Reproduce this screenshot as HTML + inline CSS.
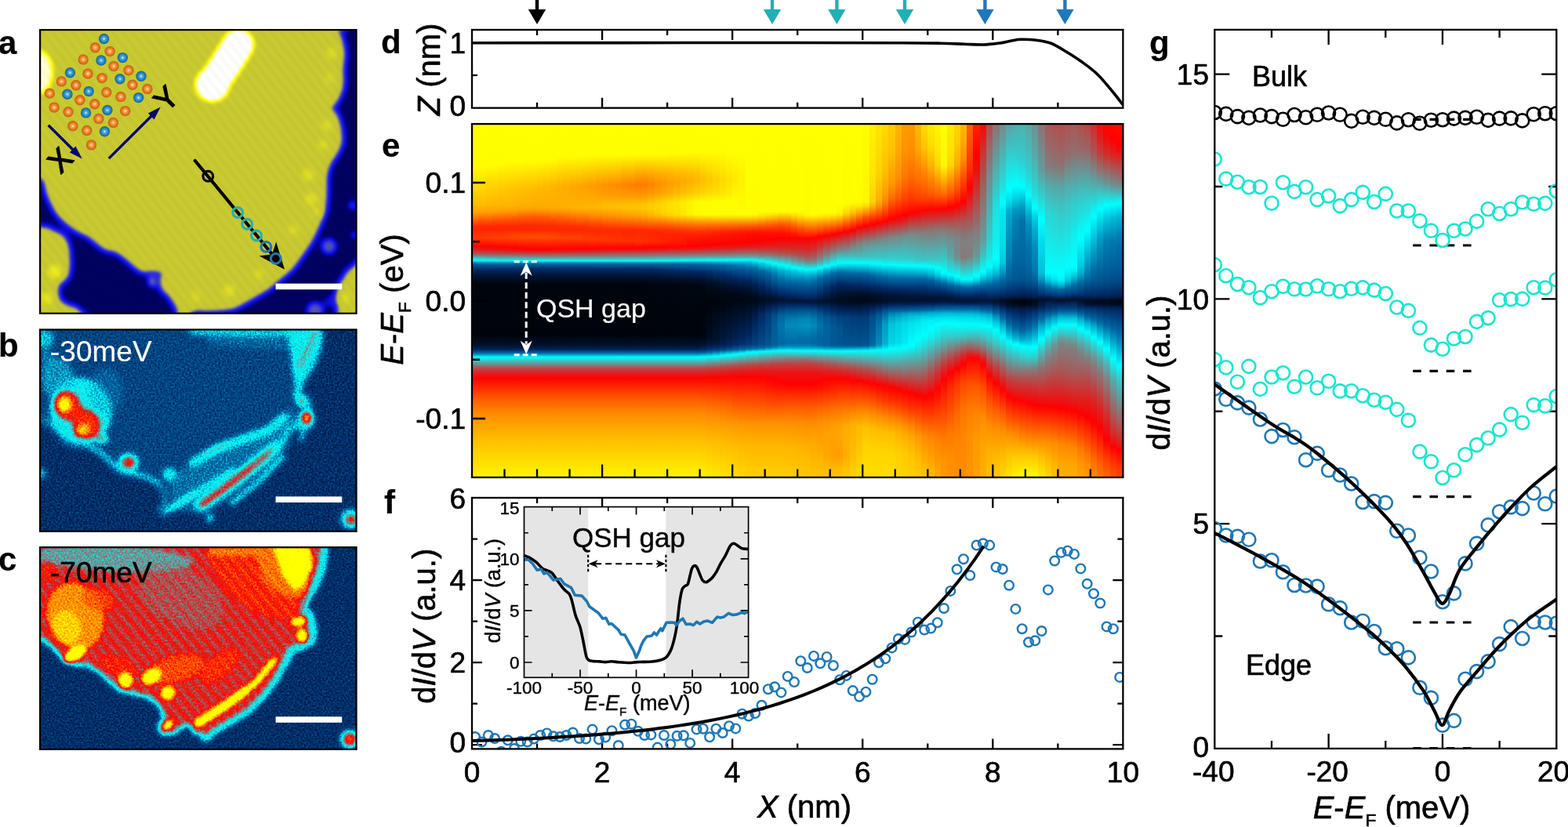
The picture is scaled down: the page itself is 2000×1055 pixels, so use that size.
<!DOCTYPE html>
<html lang="en"><head><meta charset="utf-8"><title>Figure</title>
<style>html,body{margin:0;padding:0;background:#fff;overflow:hidden}svg{display:block}text{font-family:'Liberation Sans', sans-serif}</style></head><body>
<svg width="2000" height="1055" viewBox="0 0 2000 1055" font-family="'Liberation Sans', sans-serif">
<style>text{stroke:currentColor;stroke-width:0.65px;stroke-linejoin:round}.ins text{stroke-width:0.4px}</style>
<rect width="2000" height="1055" fill="#fff"/>
<defs>
<linearGradient id="e0" gradientUnits="userSpaceOnUse" x1="0" y1="158.1" x2="0" y2="609.0"><stop offset="0" stop-color="#ff0"/><stop offset="0.12" stop-color="#fffe00"/><stop offset="0.229" stop-color="#ffbc00"/><stop offset="0.251" stop-color="#ffa100"/><stop offset="0.291" stop-color="#ff2600"/><stop offset="0.298" stop-color="#ff2400"/><stop offset="0.322" stop-color="#ff3800"/><stop offset="0.331" stop-color="#ff2a00"/><stop offset="0.344" stop-color="#ff0400"/><stop offset="0.347" stop-color="#fc0303"/><stop offset="0.356" stop-color="#e11f1f"/><stop offset="0.367" stop-color="#ae5252"/><stop offset="0.373" stop-color="#7a8686"/><stop offset="0.384" stop-color="#0ff0f0"/><stop offset="0.387" stop-color="#00f2f7"/><stop offset="0.393" stop-color="#0087b7"/><stop offset="0.396" stop-color="#0069a5"/><stop offset="0.398" stop-color="#005c98"/><stop offset="0.411" stop-color="#002a66"/><stop offset="0.431" stop-color="#001330"/><stop offset="0.453" stop-color="#00050d"/><stop offset="0.596" stop-color="#00040a"/><stop offset="0.624" stop-color="#00112a"/><stop offset="0.631" stop-color="#00193f"/><stop offset="0.638" stop-color="#002660"/><stop offset="0.642" stop-color="#003d79"/><stop offset="0.649" stop-color="#006ea8"/><stop offset="0.656" stop-color="#00cbe0"/><stop offset="0.66" stop-color="#00fefe"/><stop offset="0.691" stop-color="#b44c4c"/><stop offset="0.704" stop-color="#df2020"/><stop offset="0.72" stop-color="#ff0200"/><stop offset="0.78" stop-color="#ff5d00"/><stop offset="0.822" stop-color="#ff8d00"/><stop offset="0.889" stop-color="#ffbc00"/><stop offset="1" stop-color="#fff300"/></linearGradient>
<linearGradient id="e1" gradientUnits="userSpaceOnUse" x1="0" y1="158.1" x2="0" y2="609.0"><stop offset="0" stop-color="#ff0"/><stop offset="0.12" stop-color="#fffd00"/><stop offset="0.231" stop-color="#ffb900"/><stop offset="0.251" stop-color="#ff9e00"/><stop offset="0.273" stop-color="#ff5400"/><stop offset="0.291" stop-color="#ff2600"/><stop offset="0.298" stop-color="#ff2400"/><stop offset="0.322" stop-color="#ff3a00"/><stop offset="0.347" stop-color="#fe0101"/><stop offset="0.358" stop-color="#dc2424"/><stop offset="0.367" stop-color="#b05050"/><stop offset="0.373" stop-color="#7d8383"/><stop offset="0.384" stop-color="#1ee"/><stop offset="0.387" stop-color="#00f4f8"/><stop offset="0.393" stop-color="#0087b7"/><stop offset="0.396" stop-color="#0069a5"/><stop offset="0.398" stop-color="#005c98"/><stop offset="0.411" stop-color="#002a66"/><stop offset="0.431" stop-color="#001330"/><stop offset="0.453" stop-color="#00050d"/><stop offset="0.596" stop-color="#00040a"/><stop offset="0.624" stop-color="#00112a"/><stop offset="0.631" stop-color="#00193f"/><stop offset="0.638" stop-color="#002660"/><stop offset="0.642" stop-color="#003d79"/><stop offset="0.649" stop-color="#006ea8"/><stop offset="0.656" stop-color="#00cbe0"/><stop offset="0.66" stop-color="#00fefe"/><stop offset="0.691" stop-color="#b44c4c"/><stop offset="0.704" stop-color="#df2020"/><stop offset="0.72" stop-color="#ff0200"/><stop offset="0.78" stop-color="#ff5d00"/><stop offset="0.822" stop-color="#ff8d00"/><stop offset="0.889" stop-color="#ffbc00"/><stop offset="1" stop-color="#fff400"/></linearGradient>
<linearGradient id="e2" gradientUnits="userSpaceOnUse" x1="0" y1="158.1" x2="0" y2="609.0"><stop offset="0" stop-color="#ff0"/><stop offset="0.12" stop-color="#fffc00"/><stop offset="0.162" stop-color="#ffdb00"/><stop offset="0.231" stop-color="#ffb700"/><stop offset="0.251" stop-color="#ff9a00"/><stop offset="0.289" stop-color="#ff2900"/><stop offset="0.298" stop-color="#ff2400"/><stop offset="0.322" stop-color="#ff3d00"/><stop offset="0.347" stop-color="#ff0100"/><stop offset="0.358" stop-color="#df2020"/><stop offset="0.367" stop-color="#b24e4e"/><stop offset="0.376" stop-color="#6b9595"/><stop offset="0.384" stop-color="#13ecec"/><stop offset="0.387" stop-color="#00f5f9"/><stop offset="0.393" stop-color="#0087b7"/><stop offset="0.396" stop-color="#0069a5"/><stop offset="0.398" stop-color="#005c98"/><stop offset="0.411" stop-color="#002a66"/><stop offset="0.431" stop-color="#001330"/><stop offset="0.453" stop-color="#00050d"/><stop offset="0.596" stop-color="#00040a"/><stop offset="0.624" stop-color="#00112a"/><stop offset="0.631" stop-color="#00193f"/><stop offset="0.638" stop-color="#002660"/><stop offset="0.642" stop-color="#003d79"/><stop offset="0.649" stop-color="#006ea8"/><stop offset="0.656" stop-color="#00cbe0"/><stop offset="0.66" stop-color="#00fefe"/><stop offset="0.691" stop-color="#b44c4c"/><stop offset="0.704" stop-color="#df2020"/><stop offset="0.72" stop-color="#ff0200"/><stop offset="0.78" stop-color="#ff5d00"/><stop offset="0.822" stop-color="#ff8d00"/><stop offset="0.889" stop-color="#ffbc00"/><stop offset="1" stop-color="#fff400"/></linearGradient>
<linearGradient id="e3" gradientUnits="userSpaceOnUse" x1="0" y1="158.1" x2="0" y2="609.0"><stop offset="0" stop-color="#ff0"/><stop offset="0.118" stop-color="#fffc00"/><stop offset="0.171" stop-color="#ffd400"/><stop offset="0.231" stop-color="#ffb500"/><stop offset="0.249" stop-color="#ff9d00"/><stop offset="0.271" stop-color="#ff5600"/><stop offset="0.289" stop-color="#ff2900"/><stop offset="0.298" stop-color="#ff2400"/><stop offset="0.322" stop-color="#ff3f00"/><stop offset="0.347" stop-color="#ff0400"/><stop offset="0.356" stop-color="#ea1515"/><stop offset="0.367" stop-color="#b44b4b"/><stop offset="0.376" stop-color="#6e9292"/><stop offset="0.384" stop-color="#14ebeb"/><stop offset="0.387" stop-color="#00f7fa"/><stop offset="0.393" stop-color="#0087b7"/><stop offset="0.396" stop-color="#0068a4"/><stop offset="0.398" stop-color="#005c98"/><stop offset="0.411" stop-color="#002a66"/><stop offset="0.431" stop-color="#001330"/><stop offset="0.453" stop-color="#00050d"/><stop offset="0.596" stop-color="#00040a"/><stop offset="0.624" stop-color="#00112a"/><stop offset="0.631" stop-color="#00193f"/><stop offset="0.638" stop-color="#002660"/><stop offset="0.642" stop-color="#003d79"/><stop offset="0.649" stop-color="#006ea8"/><stop offset="0.656" stop-color="#00cbe0"/><stop offset="0.66" stop-color="#00fefe"/><stop offset="0.691" stop-color="#b44c4c"/><stop offset="0.704" stop-color="#df2020"/><stop offset="0.72" stop-color="#ff0200"/><stop offset="0.78" stop-color="#ff5d00"/><stop offset="0.822" stop-color="#ff8d00"/><stop offset="0.889" stop-color="#ffbc00"/><stop offset="1" stop-color="#fff400"/></linearGradient>
<linearGradient id="e4" gradientUnits="userSpaceOnUse" x1="0" y1="158.1" x2="0" y2="609.0"><stop offset="0" stop-color="#ff0"/><stop offset="0.113" stop-color="#fffc00"/><stop offset="0.176" stop-color="#ffce00"/><stop offset="0.233" stop-color="#ffb200"/><stop offset="0.249" stop-color="#ff9a00"/><stop offset="0.271" stop-color="#ff5400"/><stop offset="0.289" stop-color="#ff2800"/><stop offset="0.298" stop-color="#ff2400"/><stop offset="0.322" stop-color="#ff4100"/><stop offset="0.349" stop-color="#f00"/><stop offset="0.358" stop-color="#e51a1a"/><stop offset="0.367" stop-color="#b64949"/><stop offset="0.376" stop-color="#708f8f"/><stop offset="0.387" stop-color="#00f8fb"/><stop offset="0.393" stop-color="#0086b7"/><stop offset="0.396" stop-color="#0068a4"/><stop offset="0.398" stop-color="#005c98"/><stop offset="0.411" stop-color="#002a66"/><stop offset="0.431" stop-color="#001330"/><stop offset="0.453" stop-color="#00050d"/><stop offset="0.596" stop-color="#00040a"/><stop offset="0.624" stop-color="#00112a"/><stop offset="0.631" stop-color="#00193f"/><stop offset="0.638" stop-color="#002660"/><stop offset="0.642" stop-color="#003d79"/><stop offset="0.649" stop-color="#006ea8"/><stop offset="0.656" stop-color="#00cbe0"/><stop offset="0.66" stop-color="#00fefe"/><stop offset="0.691" stop-color="#b44c4c"/><stop offset="0.704" stop-color="#df2020"/><stop offset="0.72" stop-color="#ff0200"/><stop offset="0.78" stop-color="#ff5d00"/><stop offset="0.822" stop-color="#ff8d00"/><stop offset="0.889" stop-color="#ffbc00"/><stop offset="1" stop-color="#fff400"/></linearGradient>
<linearGradient id="e5" gradientUnits="userSpaceOnUse" x1="0" y1="158.1" x2="0" y2="609.0"><stop offset="0" stop-color="#ff0"/><stop offset="0.109" stop-color="#fffd00"/><stop offset="0.178" stop-color="#ffca00"/><stop offset="0.233" stop-color="#ffb100"/><stop offset="0.247" stop-color="#ff9c00"/><stop offset="0.271" stop-color="#ff5100"/><stop offset="0.289" stop-color="#ff2800"/><stop offset="0.298" stop-color="#ff2400"/><stop offset="0.316" stop-color="#ff4100"/><stop offset="0.322" stop-color="#ff4300"/><stop offset="0.349" stop-color="#ff0300"/><stop offset="0.358" stop-color="#e91717"/><stop offset="0.367" stop-color="#b84747"/><stop offset="0.378" stop-color="#5ea1a1"/><stop offset="0.387" stop-color="#00fafc"/><stop offset="0.393" stop-color="#0086b7"/><stop offset="0.396" stop-color="#0068a4"/><stop offset="0.398" stop-color="#005c98"/><stop offset="0.411" stop-color="#002a66"/><stop offset="0.431" stop-color="#001330"/><stop offset="0.453" stop-color="#00050d"/><stop offset="0.596" stop-color="#00040a"/><stop offset="0.624" stop-color="#00112a"/><stop offset="0.631" stop-color="#00193f"/><stop offset="0.638" stop-color="#002660"/><stop offset="0.642" stop-color="#003d79"/><stop offset="0.649" stop-color="#006ea8"/><stop offset="0.656" stop-color="#00cbe0"/><stop offset="0.66" stop-color="#00fefe"/><stop offset="0.691" stop-color="#b44c4c"/><stop offset="0.704" stop-color="#df2020"/><stop offset="0.72" stop-color="#ff0200"/><stop offset="0.78" stop-color="#ff5d00"/><stop offset="0.822" stop-color="#ff8d00"/><stop offset="0.889" stop-color="#ffbc00"/><stop offset="1" stop-color="#fff400"/></linearGradient>
<linearGradient id="e6" gradientUnits="userSpaceOnUse" x1="0" y1="158.1" x2="0" y2="609.0"><stop offset="0" stop-color="#ff0"/><stop offset="0.107" stop-color="#fffe00"/><stop offset="0.178" stop-color="#ffc700"/><stop offset="0.233" stop-color="#ffaf00"/><stop offset="0.247" stop-color="#ff9a00"/><stop offset="0.269" stop-color="#f50"/><stop offset="0.289" stop-color="#ff2700"/><stop offset="0.298" stop-color="#ff2400"/><stop offset="0.316" stop-color="#ff4300"/><stop offset="0.322" stop-color="#ff4500"/><stop offset="0.351" stop-color="#f00"/><stop offset="0.36" stop-color="#e21d1d"/><stop offset="0.369" stop-color="#ab5555"/><stop offset="0.378" stop-color="#619f9f"/><stop offset="0.387" stop-color="#00fbfd"/><stop offset="0.393" stop-color="#0086b7"/><stop offset="0.396" stop-color="#0068a4"/><stop offset="0.398" stop-color="#005c98"/><stop offset="0.411" stop-color="#002a66"/><stop offset="0.431" stop-color="#001330"/><stop offset="0.453" stop-color="#00050d"/><stop offset="0.596" stop-color="#00040a"/><stop offset="0.624" stop-color="#00112a"/><stop offset="0.631" stop-color="#00193f"/><stop offset="0.638" stop-color="#002660"/><stop offset="0.642" stop-color="#003d79"/><stop offset="0.649" stop-color="#006ea8"/><stop offset="0.656" stop-color="#00cbe0"/><stop offset="0.66" stop-color="#00fefe"/><stop offset="0.691" stop-color="#b44c4c"/><stop offset="0.704" stop-color="#df2020"/><stop offset="0.72" stop-color="#ff0200"/><stop offset="0.78" stop-color="#ff5d00"/><stop offset="0.822" stop-color="#ff8d00"/><stop offset="0.889" stop-color="#ffbc00"/><stop offset="1" stop-color="#fff400"/></linearGradient>
<linearGradient id="e7" gradientUnits="userSpaceOnUse" x1="0" y1="158.1" x2="0" y2="609.0"><stop offset="0" stop-color="#ff0"/><stop offset="0.107" stop-color="#fffd00"/><stop offset="0.178" stop-color="#ffc500"/><stop offset="0.233" stop-color="#ffad00"/><stop offset="0.244" stop-color="#ff9c00"/><stop offset="0.264" stop-color="#ff5d00"/><stop offset="0.287" stop-color="#ff2a00"/><stop offset="0.298" stop-color="#ff2400"/><stop offset="0.316" stop-color="#ff4500"/><stop offset="0.322" stop-color="#ff4700"/><stop offset="0.351" stop-color="#ff0300"/><stop offset="0.358" stop-color="#ef1010"/><stop offset="0.369" stop-color="#ad5353"/><stop offset="0.378" stop-color="#649c9c"/><stop offset="0.387" stop-color="#00fdfe"/><stop offset="0.393" stop-color="#0086b7"/><stop offset="0.396" stop-color="#0068a4"/><stop offset="0.398" stop-color="#005c98"/><stop offset="0.411" stop-color="#002a66"/><stop offset="0.431" stop-color="#001330"/><stop offset="0.453" stop-color="#00050d"/><stop offset="0.596" stop-color="#00040a"/><stop offset="0.624" stop-color="#00112a"/><stop offset="0.631" stop-color="#00193f"/><stop offset="0.638" stop-color="#002660"/><stop offset="0.642" stop-color="#003d79"/><stop offset="0.649" stop-color="#006ea8"/><stop offset="0.656" stop-color="#00cbe0"/><stop offset="0.66" stop-color="#00fefe"/><stop offset="0.691" stop-color="#b44c4c"/><stop offset="0.704" stop-color="#df2020"/><stop offset="0.72" stop-color="#ff0200"/><stop offset="0.78" stop-color="#ff5d00"/><stop offset="0.822" stop-color="#ff8d00"/><stop offset="0.889" stop-color="#ffbc00"/><stop offset="1" stop-color="#fff400"/></linearGradient>
<linearGradient id="e8" gradientUnits="userSpaceOnUse" x1="0" y1="158.1" x2="0" y2="609.0"><stop offset="0" stop-color="#ff0"/><stop offset="0.104" stop-color="#fffe00"/><stop offset="0.18" stop-color="#ffc000"/><stop offset="0.233" stop-color="#ffac00"/><stop offset="0.244" stop-color="#ff9a00"/><stop offset="0.262" stop-color="#ff5f00"/><stop offset="0.287" stop-color="#ff2900"/><stop offset="0.298" stop-color="#ff2400"/><stop offset="0.316" stop-color="#ff4600"/><stop offset="0.322" stop-color="#ff4900"/><stop offset="0.353" stop-color="#ff0100"/><stop offset="0.36" stop-color="#e81717"/><stop offset="0.371" stop-color="#9f6161"/><stop offset="0.38" stop-color="#50afaf"/><stop offset="0.387" stop-color="#00fefe"/><stop offset="0.393" stop-color="#0086b7"/><stop offset="0.396" stop-color="#0068a4"/><stop offset="0.398" stop-color="#005c98"/><stop offset="0.411" stop-color="#002a66"/><stop offset="0.431" stop-color="#001330"/><stop offset="0.453" stop-color="#00050d"/><stop offset="0.596" stop-color="#00040a"/><stop offset="0.624" stop-color="#00112a"/><stop offset="0.631" stop-color="#00193f"/><stop offset="0.638" stop-color="#002660"/><stop offset="0.642" stop-color="#003d79"/><stop offset="0.649" stop-color="#006ea8"/><stop offset="0.656" stop-color="#00cbe0"/><stop offset="0.66" stop-color="#00fefe"/><stop offset="0.691" stop-color="#b44c4c"/><stop offset="0.704" stop-color="#df2020"/><stop offset="0.72" stop-color="#ff0200"/><stop offset="0.78" stop-color="#ff5d00"/><stop offset="0.822" stop-color="#ff8d00"/><stop offset="0.889" stop-color="#ffbc00"/><stop offset="1" stop-color="#fff400"/></linearGradient>
<linearGradient id="e9" gradientUnits="userSpaceOnUse" x1="0" y1="158.1" x2="0" y2="609.0"><stop offset="0" stop-color="#ff0"/><stop offset="0.104" stop-color="#fffe00"/><stop offset="0.18" stop-color="#ffbe00"/><stop offset="0.233" stop-color="#fa0"/><stop offset="0.244" stop-color="#ff9800"/><stop offset="0.264" stop-color="#ff5600"/><stop offset="0.287" stop-color="#ff2900"/><stop offset="0.298" stop-color="#ff2400"/><stop offset="0.316" stop-color="#ff4800"/><stop offset="0.322" stop-color="#ff4b00"/><stop offset="0.34" stop-color="#ff1c00"/><stop offset="0.353" stop-color="#ff0400"/><stop offset="0.356" stop-color="#fd0202"/><stop offset="0.36" stop-color="#eb1414"/><stop offset="0.371" stop-color="#a15f5f"/><stop offset="0.38" stop-color="#53adad"/><stop offset="0.387" stop-color="#0ff"/><stop offset="0.393" stop-color="#0086b7"/><stop offset="0.396" stop-color="#0068a4"/><stop offset="0.398" stop-color="#005c98"/><stop offset="0.411" stop-color="#002a66"/><stop offset="0.431" stop-color="#001330"/><stop offset="0.453" stop-color="#00050d"/><stop offset="0.596" stop-color="#00040a"/><stop offset="0.624" stop-color="#00112a"/><stop offset="0.631" stop-color="#00193f"/><stop offset="0.638" stop-color="#002660"/><stop offset="0.642" stop-color="#003d79"/><stop offset="0.649" stop-color="#006ea8"/><stop offset="0.656" stop-color="#00cbe0"/><stop offset="0.66" stop-color="#00fefe"/><stop offset="0.691" stop-color="#b44c4c"/><stop offset="0.704" stop-color="#df2020"/><stop offset="0.72" stop-color="#ff0200"/><stop offset="0.78" stop-color="#ff5d00"/><stop offset="0.822" stop-color="#ff8d00"/><stop offset="0.889" stop-color="#ffbc00"/><stop offset="1" stop-color="#fff400"/></linearGradient>
<linearGradient id="e10" gradientUnits="userSpaceOnUse" x1="0" y1="158.1" x2="0" y2="609.0"><stop offset="0" stop-color="#ff0"/><stop offset="0.102" stop-color="#fffe00"/><stop offset="0.18" stop-color="#ffba00"/><stop offset="0.236" stop-color="#ffa900"/><stop offset="0.247" stop-color="#ff9100"/><stop offset="0.262" stop-color="#ff5c00"/><stop offset="0.287" stop-color="#ff2a00"/><stop offset="0.298" stop-color="#ff2500"/><stop offset="0.316" stop-color="#ff4800"/><stop offset="0.322" stop-color="#ff4b00"/><stop offset="0.34" stop-color="#ff1d00"/><stop offset="0.356" stop-color="#fe0101"/><stop offset="0.362" stop-color="#df2020"/><stop offset="0.373" stop-color="#916f6f"/><stop offset="0.38" stop-color="#54acac"/><stop offset="0.387" stop-color="#01fefe"/><stop offset="0.393" stop-color="#0086b7"/><stop offset="0.396" stop-color="#0068a4"/><stop offset="0.398" stop-color="#005b97"/><stop offset="0.411" stop-color="#002a66"/><stop offset="0.431" stop-color="#001330"/><stop offset="0.453" stop-color="#00050d"/><stop offset="0.596" stop-color="#00040a"/><stop offset="0.624" stop-color="#00112a"/><stop offset="0.631" stop-color="#00193f"/><stop offset="0.638" stop-color="#002660"/><stop offset="0.642" stop-color="#003d79"/><stop offset="0.649" stop-color="#006ea8"/><stop offset="0.656" stop-color="#00cbe0"/><stop offset="0.66" stop-color="#00fefe"/><stop offset="0.691" stop-color="#b44c4c"/><stop offset="0.704" stop-color="#df2020"/><stop offset="0.72" stop-color="#ff0200"/><stop offset="0.78" stop-color="#ff5d00"/><stop offset="0.822" stop-color="#ff8d00"/><stop offset="0.889" stop-color="#ffbc00"/><stop offset="1" stop-color="#fff400"/></linearGradient>
<linearGradient id="e11" gradientUnits="userSpaceOnUse" x1="0" y1="158.1" x2="0" y2="609.0"><stop offset="0" stop-color="#ff0"/><stop offset="0.1" stop-color="#fffd00"/><stop offset="0.178" stop-color="#ffb800"/><stop offset="0.236" stop-color="#ffab00"/><stop offset="0.247" stop-color="#ff9400"/><stop offset="0.264" stop-color="#ff5b00"/><stop offset="0.287" stop-color="#ff2c00"/><stop offset="0.298" stop-color="#ff2500"/><stop offset="0.316" stop-color="#ff4600"/><stop offset="0.322" stop-color="#ff4900"/><stop offset="0.353" stop-color="#ff0400"/><stop offset="0.356" stop-color="#fd0202"/><stop offset="0.36" stop-color="#eb1515"/><stop offset="0.371" stop-color="#a15f5f"/><stop offset="0.38" stop-color="#54acac"/><stop offset="0.387" stop-color="#02fdfd"/><stop offset="0.393" stop-color="#0086b7"/><stop offset="0.396" stop-color="#0068a4"/><stop offset="0.398" stop-color="#005b97"/><stop offset="0.411" stop-color="#002a66"/><stop offset="0.431" stop-color="#001330"/><stop offset="0.453" stop-color="#00050d"/><stop offset="0.596" stop-color="#00040a"/><stop offset="0.624" stop-color="#00112a"/><stop offset="0.631" stop-color="#00193f"/><stop offset="0.638" stop-color="#002660"/><stop offset="0.642" stop-color="#003d79"/><stop offset="0.649" stop-color="#006ea8"/><stop offset="0.656" stop-color="#00cbe0"/><stop offset="0.66" stop-color="#00fefe"/><stop offset="0.691" stop-color="#b44c4c"/><stop offset="0.704" stop-color="#df2020"/><stop offset="0.72" stop-color="#ff0200"/><stop offset="0.78" stop-color="#ff5d00"/><stop offset="0.822" stop-color="#ff8d00"/><stop offset="0.889" stop-color="#ffbc00"/><stop offset="1" stop-color="#fff400"/></linearGradient>
<linearGradient id="e12" gradientUnits="userSpaceOnUse" x1="0" y1="158.1" x2="0" y2="609.0"><stop offset="0" stop-color="#ff0"/><stop offset="0.1" stop-color="#fffc00"/><stop offset="0.176" stop-color="#ffb500"/><stop offset="0.236" stop-color="#ffac00"/><stop offset="0.247" stop-color="#ff9700"/><stop offset="0.273" stop-color="#ff4900"/><stop offset="0.289" stop-color="#ff2b00"/><stop offset="0.3" stop-color="#ff2700"/><stop offset="0.316" stop-color="#f40"/><stop offset="0.322" stop-color="#ff4700"/><stop offset="0.353" stop-color="#ff0300"/><stop offset="0.36" stop-color="#e91616"/><stop offset="0.371" stop-color="#a06060"/><stop offset="0.38" stop-color="#54acac"/><stop offset="0.387" stop-color="#02fdfd"/><stop offset="0.393" stop-color="#0086b7"/><stop offset="0.396" stop-color="#0068a4"/><stop offset="0.398" stop-color="#005b97"/><stop offset="0.411" stop-color="#002a66"/><stop offset="0.431" stop-color="#001330"/><stop offset="0.453" stop-color="#00050d"/><stop offset="0.596" stop-color="#00040a"/><stop offset="0.624" stop-color="#00112a"/><stop offset="0.631" stop-color="#00193f"/><stop offset="0.638" stop-color="#002660"/><stop offset="0.642" stop-color="#003d79"/><stop offset="0.649" stop-color="#006ea8"/><stop offset="0.656" stop-color="#00cbe0"/><stop offset="0.66" stop-color="#00fefe"/><stop offset="0.691" stop-color="#b44c4c"/><stop offset="0.704" stop-color="#df2020"/><stop offset="0.72" stop-color="#ff0200"/><stop offset="0.78" stop-color="#ff5d00"/><stop offset="0.822" stop-color="#ff8d00"/><stop offset="0.889" stop-color="#ffbc00"/><stop offset="1" stop-color="#fff400"/></linearGradient>
<linearGradient id="e13" gradientUnits="userSpaceOnUse" x1="0" y1="158.1" x2="0" y2="609.0"><stop offset="0" stop-color="#ff0"/><stop offset="0.093" stop-color="#fffd00"/><stop offset="0.176" stop-color="#ffb000"/><stop offset="0.236" stop-color="#ffae00"/><stop offset="0.244" stop-color="#ff9f00"/><stop offset="0.264" stop-color="#ff6300"/><stop offset="0.289" stop-color="#ff2d00"/><stop offset="0.3" stop-color="#ff2700"/><stop offset="0.322" stop-color="#ff4500"/><stop offset="0.353" stop-color="#ff0200"/><stop offset="0.36" stop-color="#e81818"/><stop offset="0.373" stop-color="#8f7171"/><stop offset="0.38" stop-color="#54acac"/><stop offset="0.387" stop-color="#03fdfd"/><stop offset="0.393" stop-color="#0086b7"/><stop offset="0.396" stop-color="#0068a4"/><stop offset="0.398" stop-color="#005b97"/><stop offset="0.411" stop-color="#002a66"/><stop offset="0.431" stop-color="#001330"/><stop offset="0.453" stop-color="#00050d"/><stop offset="0.596" stop-color="#00040a"/><stop offset="0.624" stop-color="#00112a"/><stop offset="0.631" stop-color="#00193f"/><stop offset="0.638" stop-color="#002660"/><stop offset="0.642" stop-color="#003d79"/><stop offset="0.649" stop-color="#006ea8"/><stop offset="0.656" stop-color="#00cbe0"/><stop offset="0.66" stop-color="#00fefe"/><stop offset="0.691" stop-color="#b44c4c"/><stop offset="0.704" stop-color="#df2020"/><stop offset="0.72" stop-color="#ff0200"/><stop offset="0.78" stop-color="#ff5d00"/><stop offset="0.822" stop-color="#ff8d00"/><stop offset="0.889" stop-color="#ffbc00"/><stop offset="1" stop-color="#fff400"/></linearGradient>
<linearGradient id="e14" gradientUnits="userSpaceOnUse" x1="0" y1="158.1" x2="0" y2="609.0"><stop offset="0" stop-color="#ff0"/><stop offset="0.091" stop-color="#fffd00"/><stop offset="0.176" stop-color="#ffac00"/><stop offset="0.236" stop-color="#ffb000"/><stop offset="0.244" stop-color="#ffa100"/><stop offset="0.273" stop-color="#ff5000"/><stop offset="0.289" stop-color="#ff2f00"/><stop offset="0.3" stop-color="#ff2700"/><stop offset="0.322" stop-color="#ff4300"/><stop offset="0.353" stop-color="#ff0100"/><stop offset="0.36" stop-color="#e61919"/><stop offset="0.373" stop-color="#8e7272"/><stop offset="0.38" stop-color="#54acac"/><stop offset="0.387" stop-color="#03fcfc"/><stop offset="0.393" stop-color="#0086b7"/><stop offset="0.396" stop-color="#0068a4"/><stop offset="0.398" stop-color="#005b97"/><stop offset="0.411" stop-color="#002a66"/><stop offset="0.431" stop-color="#001330"/><stop offset="0.453" stop-color="#00050d"/><stop offset="0.596" stop-color="#00040a"/><stop offset="0.624" stop-color="#00112a"/><stop offset="0.631" stop-color="#00193f"/><stop offset="0.638" stop-color="#002660"/><stop offset="0.642" stop-color="#003d79"/><stop offset="0.649" stop-color="#006ea8"/><stop offset="0.656" stop-color="#00cbe0"/><stop offset="0.66" stop-color="#00fefe"/><stop offset="0.691" stop-color="#b44c4c"/><stop offset="0.704" stop-color="#df2020"/><stop offset="0.72" stop-color="#ff0200"/><stop offset="0.78" stop-color="#ff5d00"/><stop offset="0.822" stop-color="#ff8d00"/><stop offset="0.889" stop-color="#ffbc00"/><stop offset="1" stop-color="#fff400"/></linearGradient>
<linearGradient id="e15" gradientUnits="userSpaceOnUse" x1="0" y1="158.1" x2="0" y2="609.0"><stop offset="0" stop-color="#ff0"/><stop offset="0.093" stop-color="#fffc00"/><stop offset="0.178" stop-color="#ffa700"/><stop offset="0.236" stop-color="#ffb200"/><stop offset="0.247" stop-color="#ff9f00"/><stop offset="0.276" stop-color="#ff4e00"/><stop offset="0.291" stop-color="#ff2d00"/><stop offset="0.3" stop-color="#ff2700"/><stop offset="0.318" stop-color="#ff4000"/><stop offset="0.324" stop-color="#ff4000"/><stop offset="0.353" stop-color="#f00"/><stop offset="0.362" stop-color="#d82727"/><stop offset="0.373" stop-color="#8d7373"/><stop offset="0.38" stop-color="#54acac"/><stop offset="0.387" stop-color="#03fcfc"/><stop offset="0.393" stop-color="#0086b7"/><stop offset="0.396" stop-color="#0068a4"/><stop offset="0.398" stop-color="#005b97"/><stop offset="0.411" stop-color="#002a66"/><stop offset="0.431" stop-color="#001330"/><stop offset="0.453" stop-color="#00050d"/><stop offset="0.596" stop-color="#00040a"/><stop offset="0.624" stop-color="#00112a"/><stop offset="0.631" stop-color="#00193f"/><stop offset="0.638" stop-color="#002660"/><stop offset="0.642" stop-color="#003d79"/><stop offset="0.649" stop-color="#006ea8"/><stop offset="0.656" stop-color="#00cbe0"/><stop offset="0.66" stop-color="#00fefe"/><stop offset="0.691" stop-color="#b44c4c"/><stop offset="0.704" stop-color="#df2020"/><stop offset="0.72" stop-color="#ff0200"/><stop offset="0.78" stop-color="#ff5d00"/><stop offset="0.822" stop-color="#ff8d00"/><stop offset="0.889" stop-color="#ffbc00"/><stop offset="1" stop-color="#fff400"/></linearGradient>
<linearGradient id="e16" gradientUnits="userSpaceOnUse" x1="0" y1="158.1" x2="0" y2="609.0"><stop offset="0" stop-color="#ff0"/><stop offset="0.091" stop-color="#fffd00"/><stop offset="0.178" stop-color="#ffa300"/><stop offset="0.236" stop-color="#ffb400"/><stop offset="0.247" stop-color="#ffa100"/><stop offset="0.291" stop-color="#ff2e00"/><stop offset="0.3" stop-color="#ff2700"/><stop offset="0.318" stop-color="#ff3e00"/><stop offset="0.324" stop-color="#ff3e00"/><stop offset="0.353" stop-color="#fe0101"/><stop offset="0.362" stop-color="#d62929"/><stop offset="0.373" stop-color="#8c7373"/><stop offset="0.38" stop-color="#54acac"/><stop offset="0.387" stop-color="#04fbfb"/><stop offset="0.389" stop-color="#00dbe9"/><stop offset="0.393" stop-color="#0086b7"/><stop offset="0.396" stop-color="#0068a4"/><stop offset="0.398" stop-color="#005b97"/><stop offset="0.411" stop-color="#002a66"/><stop offset="0.431" stop-color="#001330"/><stop offset="0.453" stop-color="#00050d"/><stop offset="0.596" stop-color="#00040a"/><stop offset="0.624" stop-color="#00112a"/><stop offset="0.631" stop-color="#00193f"/><stop offset="0.638" stop-color="#002660"/><stop offset="0.642" stop-color="#003d79"/><stop offset="0.649" stop-color="#006ea8"/><stop offset="0.656" stop-color="#00cbe0"/><stop offset="0.66" stop-color="#00fefe"/><stop offset="0.691" stop-color="#b44c4c"/><stop offset="0.704" stop-color="#df2020"/><stop offset="0.72" stop-color="#ff0200"/><stop offset="0.78" stop-color="#ff5d00"/><stop offset="0.822" stop-color="#ff8d00"/><stop offset="0.889" stop-color="#ffbc00"/><stop offset="1" stop-color="#fff300"/></linearGradient>
<linearGradient id="e17" gradientUnits="userSpaceOnUse" x1="0" y1="158.1" x2="0" y2="609.0"><stop offset="0" stop-color="#ff0"/><stop offset="0.091" stop-color="#fffc00"/><stop offset="0.176" stop-color="#ff9f00"/><stop offset="0.236" stop-color="#ffb600"/><stop offset="0.249" stop-color="#ff9f00"/><stop offset="0.278" stop-color="#ff4e00"/><stop offset="0.293" stop-color="#ff2c00"/><stop offset="0.302" stop-color="#ff2800"/><stop offset="0.324" stop-color="#ff3d00"/><stop offset="0.351" stop-color="#ff0400"/><stop offset="0.353" stop-color="#fd0202"/><stop offset="0.358" stop-color="#ec1313"/><stop offset="0.371" stop-color="#9b6464"/><stop offset="0.38" stop-color="#53acac"/><stop offset="0.387" stop-color="#04fbfb"/><stop offset="0.389" stop-color="#00dcea"/><stop offset="0.393" stop-color="#0086b7"/><stop offset="0.396" stop-color="#0068a4"/><stop offset="0.398" stop-color="#005b97"/><stop offset="0.411" stop-color="#002a66"/><stop offset="0.431" stop-color="#001330"/><stop offset="0.453" stop-color="#00050d"/><stop offset="0.596" stop-color="#00040a"/><stop offset="0.624" stop-color="#00112a"/><stop offset="0.631" stop-color="#00193f"/><stop offset="0.638" stop-color="#002660"/><stop offset="0.642" stop-color="#003d79"/><stop offset="0.649" stop-color="#006ea8"/><stop offset="0.656" stop-color="#00cbe0"/><stop offset="0.66" stop-color="#00fefe"/><stop offset="0.691" stop-color="#b44c4c"/><stop offset="0.704" stop-color="#df2020"/><stop offset="0.72" stop-color="#ff0200"/><stop offset="0.78" stop-color="#ff5d00"/><stop offset="0.822" stop-color="#ff8d00"/><stop offset="0.889" stop-color="#ffbc00"/><stop offset="1" stop-color="#fff400"/></linearGradient>
<linearGradient id="e18" gradientUnits="userSpaceOnUse" x1="0" y1="158.1" x2="0" y2="609.0"><stop offset="0" stop-color="#ff0"/><stop offset="0.089" stop-color="#fffd00"/><stop offset="0.176" stop-color="#ff9b00"/><stop offset="0.236" stop-color="#ffb700"/><stop offset="0.256" stop-color="#ff9200"/><stop offset="0.293" stop-color="#ff2e00"/><stop offset="0.302" stop-color="#ff2800"/><stop offset="0.324" stop-color="#ff3b00"/><stop offset="0.333" stop-color="#ff2f00"/><stop offset="0.351" stop-color="#ff0300"/><stop offset="0.358" stop-color="#eb1414"/><stop offset="0.371" stop-color="#9b6565"/><stop offset="0.38" stop-color="#53acac"/><stop offset="0.387" stop-color="#05fafa"/><stop offset="0.389" stop-color="#00dcea"/><stop offset="0.393" stop-color="#0086b7"/><stop offset="0.396" stop-color="#0068a4"/><stop offset="0.398" stop-color="#005b97"/><stop offset="0.411" stop-color="#002a66"/><stop offset="0.431" stop-color="#001330"/><stop offset="0.453" stop-color="#00050d"/><stop offset="0.596" stop-color="#00040a"/><stop offset="0.624" stop-color="#00112a"/><stop offset="0.631" stop-color="#00193f"/><stop offset="0.638" stop-color="#002660"/><stop offset="0.642" stop-color="#003d79"/><stop offset="0.649" stop-color="#006ea8"/><stop offset="0.656" stop-color="#00cbe0"/><stop offset="0.66" stop-color="#00fefe"/><stop offset="0.691" stop-color="#b44c4c"/><stop offset="0.704" stop-color="#df2020"/><stop offset="0.72" stop-color="#ff0200"/><stop offset="0.78" stop-color="#ff5d00"/><stop offset="0.822" stop-color="#ff8d00"/><stop offset="0.889" stop-color="#ffbc00"/><stop offset="1" stop-color="#fff400"/></linearGradient>
<linearGradient id="e19" gradientUnits="userSpaceOnUse" x1="0" y1="158.1" x2="0" y2="609.0"><stop offset="0" stop-color="#ff0"/><stop offset="0.089" stop-color="#fffd00"/><stop offset="0.173" stop-color="#ff9700"/><stop offset="0.191" stop-color="#ff9b00"/><stop offset="0.236" stop-color="#ffb900"/><stop offset="0.256" stop-color="#ff9600"/><stop offset="0.278" stop-color="#ff5400"/><stop offset="0.296" stop-color="#ff2b00"/><stop offset="0.302" stop-color="#ff2700"/><stop offset="0.327" stop-color="#ff3800"/><stop offset="0.351" stop-color="#ff0300"/><stop offset="0.358" stop-color="#ea1616"/><stop offset="0.371" stop-color="#9a6666"/><stop offset="0.38" stop-color="#53acac"/><stop offset="0.387" stop-color="#05fafa"/><stop offset="0.389" stop-color="#00ddea"/><stop offset="0.393" stop-color="#0086b7"/><stop offset="0.396" stop-color="#0068a4"/><stop offset="0.398" stop-color="#005b97"/><stop offset="0.411" stop-color="#002a66"/><stop offset="0.431" stop-color="#001330"/><stop offset="0.453" stop-color="#00050d"/><stop offset="0.596" stop-color="#00040a"/><stop offset="0.624" stop-color="#00112a"/><stop offset="0.631" stop-color="#00193f"/><stop offset="0.638" stop-color="#002660"/><stop offset="0.642" stop-color="#003d79"/><stop offset="0.649" stop-color="#006ea8"/><stop offset="0.656" stop-color="#00cbe0"/><stop offset="0.66" stop-color="#00fefe"/><stop offset="0.691" stop-color="#b44c4c"/><stop offset="0.704" stop-color="#df2020"/><stop offset="0.72" stop-color="#ff0200"/><stop offset="0.78" stop-color="#ff5d00"/><stop offset="0.822" stop-color="#ff8d00"/><stop offset="0.889" stop-color="#ffbc00"/><stop offset="1" stop-color="#fff400"/></linearGradient>
<linearGradient id="e20" gradientUnits="userSpaceOnUse" x1="0" y1="158.1" x2="0" y2="609.0"><stop offset="0" stop-color="#ff0"/><stop offset="0.089" stop-color="#fffd00"/><stop offset="0.173" stop-color="#ff9300"/><stop offset="0.193" stop-color="#f90"/><stop offset="0.229" stop-color="#fb0"/><stop offset="0.238" stop-color="#ffba00"/><stop offset="0.258" stop-color="#ff9400"/><stop offset="0.296" stop-color="#ff2c00"/><stop offset="0.302" stop-color="#ff2700"/><stop offset="0.32" stop-color="#ff3700"/><stop offset="0.329" stop-color="#ff3500"/><stop offset="0.351" stop-color="#ff0200"/><stop offset="0.36" stop-color="#d22"/><stop offset="0.373" stop-color="#8a7676"/><stop offset="0.38" stop-color="#53acac"/><stop offset="0.387" stop-color="#06fafa"/><stop offset="0.389" stop-color="#00ddeb"/><stop offset="0.393" stop-color="#0086b7"/><stop offset="0.396" stop-color="#0068a4"/><stop offset="0.398" stop-color="#005b97"/><stop offset="0.411" stop-color="#002a66"/><stop offset="0.431" stop-color="#001330"/><stop offset="0.453" stop-color="#00050d"/><stop offset="0.596" stop-color="#00040a"/><stop offset="0.624" stop-color="#00112a"/><stop offset="0.631" stop-color="#00193f"/><stop offset="0.638" stop-color="#002660"/><stop offset="0.642" stop-color="#003d79"/><stop offset="0.649" stop-color="#006ea8"/><stop offset="0.656" stop-color="#00cbe0"/><stop offset="0.66" stop-color="#00fefe"/><stop offset="0.691" stop-color="#b44c4c"/><stop offset="0.704" stop-color="#df2020"/><stop offset="0.72" stop-color="#ff0200"/><stop offset="0.78" stop-color="#ff5d00"/><stop offset="0.822" stop-color="#ff8d00"/><stop offset="0.889" stop-color="#ffbc00"/><stop offset="1" stop-color="#fff400"/></linearGradient>
<linearGradient id="e21" gradientUnits="userSpaceOnUse" x1="0" y1="158.1" x2="0" y2="609.0"><stop offset="0" stop-color="#ff0"/><stop offset="0.089" stop-color="#fffd00"/><stop offset="0.173" stop-color="#ff8f00"/><stop offset="0.193" stop-color="#ff9600"/><stop offset="0.229" stop-color="#ffbc00"/><stop offset="0.238" stop-color="#ffbc00"/><stop offset="0.26" stop-color="#ff9200"/><stop offset="0.296" stop-color="#ff2d00"/><stop offset="0.304" stop-color="#ff2700"/><stop offset="0.329" stop-color="#ff3500"/><stop offset="0.338" stop-color="#ff2600"/><stop offset="0.351" stop-color="#ff0100"/><stop offset="0.36" stop-color="#db2424"/><stop offset="0.373" stop-color="#897777"/><stop offset="0.38" stop-color="#53acac"/><stop offset="0.387" stop-color="#06f9f9"/><stop offset="0.389" stop-color="#00deeb"/><stop offset="0.393" stop-color="#0086b7"/><stop offset="0.396" stop-color="#0068a4"/><stop offset="0.398" stop-color="#005b97"/><stop offset="0.411" stop-color="#002a66"/><stop offset="0.431" stop-color="#001330"/><stop offset="0.453" stop-color="#00050d"/><stop offset="0.596" stop-color="#00040a"/><stop offset="0.624" stop-color="#00112a"/><stop offset="0.631" stop-color="#00193f"/><stop offset="0.638" stop-color="#002660"/><stop offset="0.642" stop-color="#003d79"/><stop offset="0.649" stop-color="#006ea8"/><stop offset="0.656" stop-color="#00cbe0"/><stop offset="0.66" stop-color="#00fefe"/><stop offset="0.691" stop-color="#b44c4c"/><stop offset="0.704" stop-color="#df2020"/><stop offset="0.72" stop-color="#ff0200"/><stop offset="0.78" stop-color="#ff5d00"/><stop offset="0.822" stop-color="#ff8d00"/><stop offset="0.889" stop-color="#ffbc00"/><stop offset="1" stop-color="#fff400"/></linearGradient>
<linearGradient id="e22" gradientUnits="userSpaceOnUse" x1="0" y1="158.1" x2="0" y2="609.0"><stop offset="0" stop-color="#ff0"/><stop offset="0.089" stop-color="#fffd00"/><stop offset="0.173" stop-color="#ff8a00"/><stop offset="0.204" stop-color="#ff9e00"/><stop offset="0.229" stop-color="#ffbe00"/><stop offset="0.238" stop-color="#ffbe00"/><stop offset="0.26" stop-color="#ff9600"/><stop offset="0.298" stop-color="#ff2a00"/><stop offset="0.331" stop-color="#ff3200"/><stop offset="0.351" stop-color="#f00"/><stop offset="0.36" stop-color="#da2525"/><stop offset="0.373" stop-color="#887878"/><stop offset="0.38" stop-color="#53adad"/><stop offset="0.387" stop-color="#06f9f9"/><stop offset="0.389" stop-color="#00deeb"/><stop offset="0.393" stop-color="#0086b7"/><stop offset="0.396" stop-color="#0068a4"/><stop offset="0.398" stop-color="#005b97"/><stop offset="0.411" stop-color="#002a66"/><stop offset="0.431" stop-color="#001330"/><stop offset="0.453" stop-color="#00050d"/><stop offset="0.596" stop-color="#00040a"/><stop offset="0.624" stop-color="#00112a"/><stop offset="0.631" stop-color="#00193f"/><stop offset="0.638" stop-color="#002660"/><stop offset="0.642" stop-color="#003d79"/><stop offset="0.649" stop-color="#006ea8"/><stop offset="0.656" stop-color="#00cbe0"/><stop offset="0.66" stop-color="#00fefe"/><stop offset="0.691" stop-color="#b44c4c"/><stop offset="0.704" stop-color="#df2020"/><stop offset="0.72" stop-color="#ff0200"/><stop offset="0.78" stop-color="#ff5d00"/><stop offset="0.822" stop-color="#ff8d00"/><stop offset="0.889" stop-color="#ffbc00"/><stop offset="1" stop-color="#fff400"/></linearGradient>
<linearGradient id="e23" gradientUnits="userSpaceOnUse" x1="0" y1="158.1" x2="0" y2="609.0"><stop offset="0" stop-color="#ff0"/><stop offset="0.089" stop-color="#fffc00"/><stop offset="0.142" stop-color="#ffab00"/><stop offset="0.173" stop-color="#ff8400"/><stop offset="0.204" stop-color="#ff9c00"/><stop offset="0.229" stop-color="#ffbf00"/><stop offset="0.238" stop-color="#ffc000"/><stop offset="0.26" stop-color="#ff9a00"/><stop offset="0.298" stop-color="#ff2a00"/><stop offset="0.304" stop-color="#ff2500"/><stop offset="0.331" stop-color="#ff3200"/><stop offset="0.351" stop-color="#f00"/><stop offset="0.36" stop-color="#d82727"/><stop offset="0.373" stop-color="#877979"/><stop offset="0.38" stop-color="#53adad"/><stop offset="0.387" stop-color="#07f8f8"/><stop offset="0.389" stop-color="#00dfec"/><stop offset="0.393" stop-color="#0086b7"/><stop offset="0.396" stop-color="#0068a4"/><stop offset="0.398" stop-color="#005b97"/><stop offset="0.411" stop-color="#002a66"/><stop offset="0.431" stop-color="#001330"/><stop offset="0.453" stop-color="#00050d"/><stop offset="0.596" stop-color="#00040a"/><stop offset="0.624" stop-color="#00112a"/><stop offset="0.631" stop-color="#00193f"/><stop offset="0.638" stop-color="#002660"/><stop offset="0.642" stop-color="#003d79"/><stop offset="0.649" stop-color="#006ea8"/><stop offset="0.656" stop-color="#00cbe0"/><stop offset="0.66" stop-color="#00fefe"/><stop offset="0.691" stop-color="#b44c4c"/><stop offset="0.704" stop-color="#df2020"/><stop offset="0.72" stop-color="#ff0200"/><stop offset="0.78" stop-color="#ff5d00"/><stop offset="0.822" stop-color="#ff8d00"/><stop offset="0.889" stop-color="#ffbc00"/><stop offset="1" stop-color="#fff400"/></linearGradient>
<linearGradient id="e24" gradientUnits="userSpaceOnUse" x1="0" y1="158.1" x2="0" y2="609.0"><stop offset="0" stop-color="#ff0"/><stop offset="0.087" stop-color="#fffe00"/><stop offset="0.173" stop-color="#ff7f00"/><stop offset="0.204" stop-color="#ff9b00"/><stop offset="0.229" stop-color="#ffc000"/><stop offset="0.238" stop-color="#ffc200"/><stop offset="0.26" stop-color="#ff9e00"/><stop offset="0.298" stop-color="#ff2b00"/><stop offset="0.304" stop-color="#ff2400"/><stop offset="0.331" stop-color="#ff3100"/><stop offset="0.351" stop-color="#fe0101"/><stop offset="0.36" stop-color="#d72828"/><stop offset="0.373" stop-color="#877979"/><stop offset="0.38" stop-color="#53adad"/><stop offset="0.387" stop-color="#07f8f8"/><stop offset="0.389" stop-color="#00dfec"/><stop offset="0.393" stop-color="#0086b7"/><stop offset="0.396" stop-color="#0068a4"/><stop offset="0.398" stop-color="#005b97"/><stop offset="0.411" stop-color="#002a66"/><stop offset="0.431" stop-color="#001330"/><stop offset="0.453" stop-color="#00050d"/><stop offset="0.596" stop-color="#00040a"/><stop offset="0.624" stop-color="#00112a"/><stop offset="0.631" stop-color="#00193f"/><stop offset="0.638" stop-color="#002660"/><stop offset="0.642" stop-color="#003d79"/><stop offset="0.649" stop-color="#006ea8"/><stop offset="0.656" stop-color="#00cbe0"/><stop offset="0.66" stop-color="#00fefe"/><stop offset="0.691" stop-color="#b44c4c"/><stop offset="0.704" stop-color="#df2020"/><stop offset="0.72" stop-color="#ff0200"/><stop offset="0.78" stop-color="#ff5d00"/><stop offset="0.822" stop-color="#ff8d00"/><stop offset="0.889" stop-color="#ffbc00"/><stop offset="1" stop-color="#fff400"/></linearGradient>
<linearGradient id="e25" gradientUnits="userSpaceOnUse" x1="0" y1="158.1" x2="0" y2="609.0"><stop offset="0" stop-color="#ff0"/><stop offset="0.087" stop-color="#fffe00"/><stop offset="0.142" stop-color="#ffa300"/><stop offset="0.173" stop-color="#ff7a00"/><stop offset="0.204" stop-color="#f90"/><stop offset="0.229" stop-color="#ffc200"/><stop offset="0.238" stop-color="#ffc400"/><stop offset="0.26" stop-color="#ffa100"/><stop offset="0.3" stop-color="#ff2700"/><stop offset="0.331" stop-color="#ff3100"/><stop offset="0.338" stop-color="#ff2700"/><stop offset="0.349" stop-color="#ff0500"/><stop offset="0.351" stop-color="#fd0202"/><stop offset="0.356" stop-color="#ec1313"/><stop offset="0.371" stop-color="#946c6c"/><stop offset="0.38" stop-color="#53adad"/><stop offset="0.387" stop-color="#08f7f7"/><stop offset="0.389" stop-color="#00e0ec"/><stop offset="0.393" stop-color="#0086b7"/><stop offset="0.396" stop-color="#0068a4"/><stop offset="0.398" stop-color="#005b97"/><stop offset="0.411" stop-color="#002a66"/><stop offset="0.431" stop-color="#001330"/><stop offset="0.453" stop-color="#00050d"/><stop offset="0.596" stop-color="#00040a"/><stop offset="0.624" stop-color="#00112a"/><stop offset="0.631" stop-color="#00193f"/><stop offset="0.638" stop-color="#002660"/><stop offset="0.642" stop-color="#003d79"/><stop offset="0.649" stop-color="#006ea8"/><stop offset="0.656" stop-color="#00cbe0"/><stop offset="0.66" stop-color="#00fefe"/><stop offset="0.691" stop-color="#b44c4c"/><stop offset="0.704" stop-color="#df2020"/><stop offset="0.72" stop-color="#ff0200"/><stop offset="0.78" stop-color="#ff5d00"/><stop offset="0.822" stop-color="#ff8d00"/><stop offset="0.889" stop-color="#ffbc00"/><stop offset="1" stop-color="#fff400"/></linearGradient>
<linearGradient id="e26" gradientUnits="userSpaceOnUse" x1="0" y1="158.1" x2="0" y2="609.0"><stop offset="0" stop-color="#ff0"/><stop offset="0.087" stop-color="#fffd00"/><stop offset="0.142" stop-color="#ffa200"/><stop offset="0.173" stop-color="#ff7c00"/><stop offset="0.204" stop-color="#ff9c00"/><stop offset="0.229" stop-color="#ffc600"/><stop offset="0.24" stop-color="#ffc600"/><stop offset="0.26" stop-color="#ffa700"/><stop offset="0.3" stop-color="#ff2900"/><stop offset="0.333" stop-color="#ff2d00"/><stop offset="0.349" stop-color="#ff0400"/><stop offset="0.351" stop-color="#fc0303"/><stop offset="0.356" stop-color="#ea1515"/><stop offset="0.371" stop-color="#936d6d"/><stop offset="0.38" stop-color="#52aeae"/><stop offset="0.387" stop-color="#07f8f8"/><stop offset="0.389" stop-color="#00dfec"/><stop offset="0.393" stop-color="#0086b7"/><stop offset="0.396" stop-color="#0068a4"/><stop offset="0.398" stop-color="#005c98"/><stop offset="0.411" stop-color="#002b67"/><stop offset="0.431" stop-color="#001331"/><stop offset="0.453" stop-color="#00050e"/><stop offset="0.596" stop-color="#00040a"/><stop offset="0.624" stop-color="#00112a"/><stop offset="0.631" stop-color="#00193f"/><stop offset="0.638" stop-color="#002660"/><stop offset="0.642" stop-color="#003d79"/><stop offset="0.649" stop-color="#006ea8"/><stop offset="0.656" stop-color="#00cbe0"/><stop offset="0.66" stop-color="#00fefe"/><stop offset="0.691" stop-color="#b44c4c"/><stop offset="0.704" stop-color="#df2020"/><stop offset="0.72" stop-color="#ff0200"/><stop offset="0.78" stop-color="#ff5d00"/><stop offset="0.822" stop-color="#ff8d00"/><stop offset="0.889" stop-color="#ffbc00"/><stop offset="1" stop-color="#fff400"/></linearGradient>
<linearGradient id="e27" gradientUnits="userSpaceOnUse" x1="0" y1="158.1" x2="0" y2="609.0"><stop offset="0" stop-color="#ff0"/><stop offset="0.087" stop-color="#fffd00"/><stop offset="0.142" stop-color="#ffa600"/><stop offset="0.171" stop-color="#ff8500"/><stop offset="0.196" stop-color="#ff9800"/><stop offset="0.227" stop-color="#ffca00"/><stop offset="0.24" stop-color="#ffcd00"/><stop offset="0.26" stop-color="#ffb000"/><stop offset="0.3" stop-color="#ff2b00"/><stop offset="0.309" stop-color="#ff2400"/><stop offset="0.333" stop-color="#ff2a00"/><stop offset="0.349" stop-color="#ff0300"/><stop offset="0.356" stop-color="#e91717"/><stop offset="0.371" stop-color="#916f6f"/><stop offset="0.38" stop-color="#4fb0b0"/><stop offset="0.387" stop-color="#05fafa"/><stop offset="0.389" stop-color="#00ddea"/><stop offset="0.393" stop-color="#0086b7"/><stop offset="0.396" stop-color="#0068a4"/><stop offset="0.4" stop-color="#00528e"/><stop offset="0.413" stop-color="#002762"/><stop offset="0.433" stop-color="#00122e"/><stop offset="0.453" stop-color="#00060f"/><stop offset="0.596" stop-color="#00040a"/><stop offset="0.624" stop-color="#00112a"/><stop offset="0.631" stop-color="#00193f"/><stop offset="0.638" stop-color="#002660"/><stop offset="0.642" stop-color="#003d79"/><stop offset="0.649" stop-color="#006ea8"/><stop offset="0.656" stop-color="#00cbe0"/><stop offset="0.66" stop-color="#00fefe"/><stop offset="0.691" stop-color="#b44c4c"/><stop offset="0.704" stop-color="#df2020"/><stop offset="0.72" stop-color="#ff0200"/><stop offset="0.78" stop-color="#ff5d00"/><stop offset="0.822" stop-color="#ff8d00"/><stop offset="0.889" stop-color="#ffbc00"/><stop offset="1" stop-color="#fff400"/></linearGradient>
<linearGradient id="e28" gradientUnits="userSpaceOnUse" x1="0" y1="158.1" x2="0" y2="609.0"><stop offset="0" stop-color="#ff0"/><stop offset="0.087" stop-color="#fffc00"/><stop offset="0.142" stop-color="#fa0"/><stop offset="0.171" stop-color="#ff8e00"/><stop offset="0.196" stop-color="#ffa000"/><stop offset="0.227" stop-color="#ffd100"/><stop offset="0.242" stop-color="#ffd200"/><stop offset="0.258" stop-color="#ffbf00"/><stop offset="0.289" stop-color="#ff4e00"/><stop offset="0.3" stop-color="#ff2e00"/><stop offset="0.309" stop-color="#ff2500"/><stop offset="0.333" stop-color="#ff2600"/><stop offset="0.349" stop-color="#ff0100"/><stop offset="0.358" stop-color="#dc2323"/><stop offset="0.373" stop-color="#808080"/><stop offset="0.38" stop-color="#4db3b3"/><stop offset="0.387" stop-color="#02fdfd"/><stop offset="0.393" stop-color="#0087b7"/><stop offset="0.396" stop-color="#0069a5"/><stop offset="0.398" stop-color="#005d99"/><stop offset="0.413" stop-color="#002965"/><stop offset="0.433" stop-color="#001330"/><stop offset="0.453" stop-color="#000610"/><stop offset="0.596" stop-color="#00040a"/><stop offset="0.624" stop-color="#00112a"/><stop offset="0.631" stop-color="#00193f"/><stop offset="0.638" stop-color="#002660"/><stop offset="0.642" stop-color="#003d79"/><stop offset="0.649" stop-color="#006ea8"/><stop offset="0.656" stop-color="#00cbe0"/><stop offset="0.66" stop-color="#00fefe"/><stop offset="0.691" stop-color="#b44c4c"/><stop offset="0.704" stop-color="#df2020"/><stop offset="0.72" stop-color="#ff0200"/><stop offset="0.78" stop-color="#ff5d00"/><stop offset="0.822" stop-color="#ff8d00"/><stop offset="0.889" stop-color="#ffbc00"/><stop offset="1" stop-color="#fff400"/></linearGradient>
<linearGradient id="e29" gradientUnits="userSpaceOnUse" x1="0" y1="158.1" x2="0" y2="609.0"><stop offset="0" stop-color="#ff0"/><stop offset="0.087" stop-color="#fffc00"/><stop offset="0.142" stop-color="#ffad00"/><stop offset="0.169" stop-color="#ff9600"/><stop offset="0.193" stop-color="#ffa500"/><stop offset="0.224" stop-color="#ffd600"/><stop offset="0.242" stop-color="#ffd900"/><stop offset="0.258" stop-color="#ffc800"/><stop offset="0.289" stop-color="#ff5100"/><stop offset="0.3" stop-color="#ff3100"/><stop offset="0.311" stop-color="#ff2400"/><stop offset="0.333" stop-color="#f20"/><stop offset="0.349" stop-color="#f00"/><stop offset="0.358" stop-color="#da2525"/><stop offset="0.373" stop-color="#7e8282"/><stop offset="0.38" stop-color="#4ab5b5"/><stop offset="0.387" stop-color="#0ff"/><stop offset="0.393" stop-color="#0087b7"/><stop offset="0.396" stop-color="#006aa5"/><stop offset="0.398" stop-color="#005e9a"/><stop offset="0.413" stop-color="#002b67"/><stop offset="0.438" stop-color="#001029"/><stop offset="0.456" stop-color="#00060e"/><stop offset="0.596" stop-color="#00040a"/><stop offset="0.624" stop-color="#00112a"/><stop offset="0.631" stop-color="#00193f"/><stop offset="0.638" stop-color="#002660"/><stop offset="0.642" stop-color="#003d79"/><stop offset="0.649" stop-color="#006ea8"/><stop offset="0.656" stop-color="#00cbe0"/><stop offset="0.66" stop-color="#00fefe"/><stop offset="0.691" stop-color="#b44c4c"/><stop offset="0.704" stop-color="#df2020"/><stop offset="0.72" stop-color="#ff0200"/><stop offset="0.78" stop-color="#ff5d00"/><stop offset="0.822" stop-color="#ff8d00"/><stop offset="0.889" stop-color="#ffbc00"/><stop offset="1" stop-color="#fff400"/></linearGradient>
<linearGradient id="e30" gradientUnits="userSpaceOnUse" x1="0" y1="158.1" x2="0" y2="609.0"><stop offset="0" stop-color="#ff0"/><stop offset="0.084" stop-color="#fffc00"/><stop offset="0.142" stop-color="#ffb100"/><stop offset="0.169" stop-color="#ff9d00"/><stop offset="0.196" stop-color="#ffb000"/><stop offset="0.224" stop-color="#ffde00"/><stop offset="0.247" stop-color="#fd0"/><stop offset="0.258" stop-color="#ffd100"/><stop offset="0.287" stop-color="#ff5d00"/><stop offset="0.3" stop-color="#f30"/><stop offset="0.311" stop-color="#ff2400"/><stop offset="0.333" stop-color="#ff1e00"/><stop offset="0.347" stop-color="#ff0500"/><stop offset="0.349" stop-color="#fd0202"/><stop offset="0.353" stop-color="#ee1212"/><stop offset="0.369" stop-color="#9a6666"/><stop offset="0.38" stop-color="#48b8b8"/><stop offset="0.387" stop-color="#00fdfe"/><stop offset="0.393" stop-color="#0087b7"/><stop offset="0.396" stop-color="#006ba6"/><stop offset="0.4" stop-color="#005591"/><stop offset="0.416" stop-color="#002863"/><stop offset="0.438" stop-color="#00112b"/><stop offset="0.456" stop-color="#00060f"/><stop offset="0.596" stop-color="#00040a"/><stop offset="0.624" stop-color="#00112a"/><stop offset="0.631" stop-color="#00193f"/><stop offset="0.638" stop-color="#002660"/><stop offset="0.642" stop-color="#003d79"/><stop offset="0.649" stop-color="#006ea8"/><stop offset="0.656" stop-color="#00cbe0"/><stop offset="0.66" stop-color="#00fefe"/><stop offset="0.691" stop-color="#b44c4c"/><stop offset="0.704" stop-color="#df2020"/><stop offset="0.72" stop-color="#ff0200"/><stop offset="0.78" stop-color="#ff5d00"/><stop offset="0.822" stop-color="#ff8d00"/><stop offset="0.889" stop-color="#ffbc00"/><stop offset="1" stop-color="#fff400"/></linearGradient>
<linearGradient id="e31" gradientUnits="userSpaceOnUse" x1="0" y1="158.1" x2="0" y2="609.0"><stop offset="0" stop-color="#ff0"/><stop offset="0.084" stop-color="#fffc00"/><stop offset="0.142" stop-color="#ffb500"/><stop offset="0.167" stop-color="#ffa400"/><stop offset="0.196" stop-color="#ffb800"/><stop offset="0.224" stop-color="#ffe500"/><stop offset="0.253" stop-color="#ffe000"/><stop offset="0.26" stop-color="#ffd200"/><stop offset="0.287" stop-color="#ff6100"/><stop offset="0.3" stop-color="#ff3600"/><stop offset="0.313" stop-color="#f20"/><stop offset="0.336" stop-color="#ff1800"/><stop offset="0.347" stop-color="#ff0300"/><stop offset="0.353" stop-color="#ec1313"/><stop offset="0.369" stop-color="#986868"/><stop offset="0.378" stop-color="#58a7a7"/><stop offset="0.387" stop-color="#00fafc"/><stop offset="0.393" stop-color="#0087b7"/><stop offset="0.396" stop-color="#006ca7"/><stop offset="0.398" stop-color="#00609c"/><stop offset="0.416" stop-color="#002965"/><stop offset="0.438" stop-color="#00122d"/><stop offset="0.456" stop-color="#000610"/><stop offset="0.596" stop-color="#00040a"/><stop offset="0.624" stop-color="#00112a"/><stop offset="0.631" stop-color="#00193f"/><stop offset="0.638" stop-color="#002660"/><stop offset="0.642" stop-color="#003d79"/><stop offset="0.649" stop-color="#006ea8"/><stop offset="0.656" stop-color="#00cbe0"/><stop offset="0.66" stop-color="#00fefe"/><stop offset="0.691" stop-color="#b44c4c"/><stop offset="0.704" stop-color="#df2020"/><stop offset="0.72" stop-color="#ff0200"/><stop offset="0.78" stop-color="#ff5d00"/><stop offset="0.822" stop-color="#ff8d00"/><stop offset="0.889" stop-color="#ffbc00"/><stop offset="1" stop-color="#fff400"/></linearGradient>
<linearGradient id="e32" gradientUnits="userSpaceOnUse" x1="0" y1="158.1" x2="0" y2="609.0"><stop offset="0" stop-color="#ff0"/><stop offset="0.082" stop-color="#fffd00"/><stop offset="0.142" stop-color="#ffb800"/><stop offset="0.164" stop-color="#ffab00"/><stop offset="0.196" stop-color="#ffbf00"/><stop offset="0.222" stop-color="#ffeb00"/><stop offset="0.256" stop-color="#ffe800"/><stop offset="0.287" stop-color="#ff6500"/><stop offset="0.302" stop-color="#f30"/><stop offset="0.313" stop-color="#ff2100"/><stop offset="0.336" stop-color="#ff1400"/><stop offset="0.347" stop-color="#ff0200"/><stop offset="0.356" stop-color="#e01f1f"/><stop offset="0.369" stop-color="#966969"/><stop offset="0.378" stop-color="#56aaaa"/><stop offset="0.384" stop-color="#15eaea"/><stop offset="0.387" stop-color="#00f8fb"/><stop offset="0.393" stop-color="#0087b7"/><stop offset="0.396" stop-color="#006da7"/><stop offset="0.398" stop-color="#00619d"/><stop offset="0.416" stop-color="#002b67"/><stop offset="0.44" stop-color="#00112a"/><stop offset="0.456" stop-color="#000711"/><stop offset="0.596" stop-color="#00040a"/><stop offset="0.624" stop-color="#00112a"/><stop offset="0.631" stop-color="#00193f"/><stop offset="0.638" stop-color="#002660"/><stop offset="0.642" stop-color="#003d79"/><stop offset="0.649" stop-color="#006ea8"/><stop offset="0.656" stop-color="#00cbe0"/><stop offset="0.66" stop-color="#00fefe"/><stop offset="0.691" stop-color="#b44c4c"/><stop offset="0.704" stop-color="#df2020"/><stop offset="0.72" stop-color="#ff0200"/><stop offset="0.78" stop-color="#ff5d00"/><stop offset="0.822" stop-color="#ff8d00"/><stop offset="0.889" stop-color="#ffbc00"/><stop offset="1" stop-color="#fff400"/></linearGradient>
<linearGradient id="e33" gradientUnits="userSpaceOnUse" x1="0" y1="158.1" x2="0" y2="609.0"><stop offset="0" stop-color="#ff0"/><stop offset="0.08" stop-color="#fffd00"/><stop offset="0.142" stop-color="#ffbc00"/><stop offset="0.162" stop-color="#ffb100"/><stop offset="0.196" stop-color="#ffc700"/><stop offset="0.222" stop-color="#fff300"/><stop offset="0.256" stop-color="#fff100"/><stop offset="0.287" stop-color="#ff6900"/><stop offset="0.302" stop-color="#ff3500"/><stop offset="0.313" stop-color="#ff2000"/><stop offset="0.347" stop-color="#f00"/><stop offset="0.356" stop-color="#df2121"/><stop offset="0.369" stop-color="#956b6b"/><stop offset="0.378" stop-color="#54acac"/><stop offset="0.384" stop-color="#12eded"/><stop offset="0.387" stop-color="#00f5f9"/><stop offset="0.393" stop-color="#0087b7"/><stop offset="0.396" stop-color="#006ea8"/><stop offset="0.398" stop-color="#00619d"/><stop offset="0.418" stop-color="#002864"/><stop offset="0.44" stop-color="#00112b"/><stop offset="0.456" stop-color="#000712"/><stop offset="0.596" stop-color="#00040a"/><stop offset="0.624" stop-color="#00112a"/><stop offset="0.631" stop-color="#00193f"/><stop offset="0.638" stop-color="#002660"/><stop offset="0.642" stop-color="#003d79"/><stop offset="0.649" stop-color="#006ea8"/><stop offset="0.656" stop-color="#00cbe0"/><stop offset="0.66" stop-color="#00fefe"/><stop offset="0.691" stop-color="#b44c4c"/><stop offset="0.704" stop-color="#df2020"/><stop offset="0.72" stop-color="#ff0200"/><stop offset="0.78" stop-color="#ff5d00"/><stop offset="0.822" stop-color="#ff8d00"/><stop offset="0.889" stop-color="#ffbc00"/><stop offset="1" stop-color="#fff400"/></linearGradient>
<linearGradient id="e34" gradientUnits="userSpaceOnUse" x1="0" y1="158.1" x2="0" y2="609.0"><stop offset="0" stop-color="#ff0"/><stop offset="0.08" stop-color="#fffd00"/><stop offset="0.14" stop-color="#ffc100"/><stop offset="0.16" stop-color="#ffb700"/><stop offset="0.196" stop-color="#ffcf00"/><stop offset="0.222" stop-color="#fffb00"/><stop offset="0.256" stop-color="#fffa00"/><stop offset="0.287" stop-color="#ff6c00"/><stop offset="0.302" stop-color="#ff3800"/><stop offset="0.316" stop-color="#ff1c00"/><stop offset="0.344" stop-color="#ff0200"/><stop offset="0.347" stop-color="#fd0202"/><stop offset="0.353" stop-color="#e71818"/><stop offset="0.367" stop-color="#a15f5f"/><stop offset="0.376" stop-color="#639c9c"/><stop offset="0.384" stop-color="#10efef"/><stop offset="0.387" stop-color="#00f3f8"/><stop offset="0.393" stop-color="#0087b7"/><stop offset="0.398" stop-color="#00629e"/><stop offset="0.418" stop-color="#002a66"/><stop offset="0.442" stop-color="#001028"/><stop offset="0.458" stop-color="#000710"/><stop offset="0.596" stop-color="#00040a"/><stop offset="0.624" stop-color="#00112a"/><stop offset="0.631" stop-color="#00193f"/><stop offset="0.638" stop-color="#002660"/><stop offset="0.642" stop-color="#003d79"/><stop offset="0.649" stop-color="#006ea8"/><stop offset="0.656" stop-color="#00cbe0"/><stop offset="0.66" stop-color="#00fefe"/><stop offset="0.691" stop-color="#b44c4c"/><stop offset="0.704" stop-color="#df2020"/><stop offset="0.72" stop-color="#ff0200"/><stop offset="0.78" stop-color="#ff5d00"/><stop offset="0.822" stop-color="#ff8d00"/><stop offset="0.889" stop-color="#ffbc00"/><stop offset="1" stop-color="#fff400"/></linearGradient>
<linearGradient id="e35" gradientUnits="userSpaceOnUse" x1="0" y1="158.1" x2="0" y2="609.0"><stop offset="0" stop-color="#ff0"/><stop offset="0.078" stop-color="#fffe00"/><stop offset="0.158" stop-color="#ffbe00"/><stop offset="0.196" stop-color="#ffd500"/><stop offset="0.22" stop-color="#fffd00"/><stop offset="0.256" stop-color="#fffe00"/><stop offset="0.26" stop-color="#fff000"/><stop offset="0.269" stop-color="#ffbe00"/><stop offset="0.287" stop-color="#ff6e00"/><stop offset="0.304" stop-color="#ff3100"/><stop offset="0.316" stop-color="#ff1a00"/><stop offset="0.344" stop-color="#f00"/><stop offset="0.353" stop-color="#e51a1a"/><stop offset="0.367" stop-color="#9f6161"/><stop offset="0.376" stop-color="#629e9e"/><stop offset="0.384" stop-color="#0ef1f1"/><stop offset="0.387" stop-color="#00f1f7"/><stop offset="0.393" stop-color="#0089b8"/><stop offset="0.398" stop-color="#0064a0"/><stop offset="0.42" stop-color="#002965"/><stop offset="0.442" stop-color="#00122d"/><stop offset="0.458" stop-color="#000814"/><stop offset="0.507" stop-color="#00040b"/><stop offset="0.593" stop-color="#000610"/><stop offset="0.609" stop-color="#000a19"/><stop offset="0.627" stop-color="#001535"/><stop offset="0.64" stop-color="#003470"/><stop offset="0.647" stop-color="#00629e"/><stop offset="0.658" stop-color="#00edf4"/><stop offset="0.66" stop-color="#03fcfc"/><stop offset="0.691" stop-color="#b64a4a"/><stop offset="0.704" stop-color="#e01f1f"/><stop offset="0.72" stop-color="#ff0200"/><stop offset="0.78" stop-color="#ff5b00"/><stop offset="0.822" stop-color="#ff8c00"/><stop offset="0.889" stop-color="#fb0"/><stop offset="1" stop-color="#fff100"/></linearGradient>
<linearGradient id="e36" gradientUnits="userSpaceOnUse" x1="0" y1="158.1" x2="0" y2="609.0"><stop offset="0" stop-color="#ff0"/><stop offset="0.078" stop-color="#fffe00"/><stop offset="0.158" stop-color="#ffc700"/><stop offset="0.196" stop-color="#ffdb00"/><stop offset="0.22" stop-color="#fffd00"/><stop offset="0.256" stop-color="#fffe00"/><stop offset="0.26" stop-color="#fff000"/><stop offset="0.269" stop-color="#ffbe00"/><stop offset="0.287" stop-color="#ff6c00"/><stop offset="0.302" stop-color="#ff3400"/><stop offset="0.316" stop-color="#ff1800"/><stop offset="0.342" stop-color="#ff0100"/><stop offset="0.351" stop-color="#eb1414"/><stop offset="0.367" stop-color="#9e6262"/><stop offset="0.376" stop-color="#619f9f"/><stop offset="0.384" stop-color="#0cf3f3"/><stop offset="0.387" stop-color="#00f0f6"/><stop offset="0.393" stop-color="#008fbc"/><stop offset="0.398" stop-color="#0068a4"/><stop offset="0.42" stop-color="#002e6a"/><stop offset="0.447" stop-color="#00112b"/><stop offset="0.46" stop-color="#000a18"/><stop offset="0.504" stop-color="#00050c"/><stop offset="0.593" stop-color="#000b1b"/><stop offset="0.609" stop-color="#000f25"/><stop offset="0.624" stop-color="#00183b"/><stop offset="0.638" stop-color="#003470"/><stop offset="0.647" stop-color="#006fa9"/><stop offset="0.658" stop-color="#00f9fb"/><stop offset="0.691" stop-color="#ba4646"/><stop offset="0.702" stop-color="#d22"/><stop offset="0.718" stop-color="#fe0101"/><stop offset="0.784" stop-color="#ff5e00"/><stop offset="0.827" stop-color="#ff8d00"/><stop offset="0.893" stop-color="#fb0"/><stop offset="1" stop-color="#ffed00"/></linearGradient>
<linearGradient id="e37" gradientUnits="userSpaceOnUse" x1="0" y1="158.1" x2="0" y2="609.0"><stop offset="0" stop-color="#ff0"/><stop offset="0.078" stop-color="#fffe00"/><stop offset="0.158" stop-color="#ffd000"/><stop offset="0.196" stop-color="#ffe100"/><stop offset="0.22" stop-color="#fffe00"/><stop offset="0.256" stop-color="#fffe00"/><stop offset="0.26" stop-color="#fff100"/><stop offset="0.287" stop-color="#ff6b00"/><stop offset="0.304" stop-color="#ff2b00"/><stop offset="0.316" stop-color="#ff1600"/><stop offset="0.342" stop-color="#fe0101"/><stop offset="0.353" stop-color="#df2020"/><stop offset="0.367" stop-color="#9c6363"/><stop offset="0.376" stop-color="#60a0a0"/><stop offset="0.384" stop-color="#0bf4f4"/><stop offset="0.387" stop-color="#00f0f6"/><stop offset="0.393" stop-color="#0095bf"/><stop offset="0.398" stop-color="#006ea8"/><stop offset="0.4" stop-color="#0064a0"/><stop offset="0.42" stop-color="#003470"/><stop offset="0.449" stop-color="#00132e"/><stop offset="0.464" stop-color="#000b1a"/><stop offset="0.504" stop-color="#00050e"/><stop offset="0.607" stop-color="#00122e"/><stop offset="0.624" stop-color="#001c46"/><stop offset="0.631" stop-color="#00265f"/><stop offset="0.638" stop-color="#003e7a"/><stop offset="0.644" stop-color="#0067a3"/><stop offset="0.656" stop-color="#00eff5"/><stop offset="0.658" stop-color="#05fafa"/><stop offset="0.682" stop-color="#936d6d"/><stop offset="0.691" stop-color="#be4242"/><stop offset="0.702" stop-color="#df2020"/><stop offset="0.718" stop-color="#f00"/><stop offset="0.787" stop-color="#ff5e00"/><stop offset="0.833" stop-color="#ff9100"/><stop offset="0.896" stop-color="#ffba00"/><stop offset="1" stop-color="#ffe900"/></linearGradient>
<linearGradient id="e38" gradientUnits="userSpaceOnUse" x1="0" y1="158.1" x2="0" y2="609.0"><stop offset="0" stop-color="#ff0"/><stop offset="0.078" stop-color="#fffe00"/><stop offset="0.158" stop-color="#ffd800"/><stop offset="0.196" stop-color="#ffe600"/><stop offset="0.22" stop-color="#fffe00"/><stop offset="0.256" stop-color="#fffe00"/><stop offset="0.26" stop-color="#fff100"/><stop offset="0.287" stop-color="#ff6900"/><stop offset="0.302" stop-color="#ff2e00"/><stop offset="0.313" stop-color="#ff1600"/><stop offset="0.34" stop-color="#ff0100"/><stop offset="0.351" stop-color="#e51a1a"/><stop offset="0.367" stop-color="#9b6565"/><stop offset="0.376" stop-color="#5fa1a1"/><stop offset="0.384" stop-color="#09f6f6"/><stop offset="0.387" stop-color="#00eff5"/><stop offset="0.393" stop-color="#009ac3"/><stop offset="0.4" stop-color="#0068a4"/><stop offset="0.424" stop-color="#00316d"/><stop offset="0.456" stop-color="#001129"/><stop offset="0.478" stop-color="#000916"/><stop offset="0.509" stop-color="#000610"/><stop offset="0.609" stop-color="#00183c"/><stop offset="0.622" stop-color="#001f4d"/><stop offset="0.629" stop-color="#002761"/><stop offset="0.638" stop-color="#004884"/><stop offset="0.642" stop-color="#00639f"/><stop offset="0.649" stop-color="#00b7d4"/><stop offset="0.656" stop-color="#00fdfe"/><stop offset="0.664" stop-color="#39c7c7"/><stop offset="0.689" stop-color="#b94747"/><stop offset="0.702" stop-color="#e11e1e"/><stop offset="0.718" stop-color="#ff0100"/><stop offset="0.789" stop-color="#ff5e00"/><stop offset="0.84" stop-color="#ff9400"/><stop offset="0.9" stop-color="#fb0"/><stop offset="1" stop-color="#ffe400"/></linearGradient>
<linearGradient id="e39" gradientUnits="userSpaceOnUse" x1="0" y1="158.1" x2="0" y2="609.0"><stop offset="0" stop-color="#ff0"/><stop offset="0.078" stop-color="#ff0"/><stop offset="0.158" stop-color="#ffe100"/><stop offset="0.196" stop-color="#ffec00"/><stop offset="0.22" stop-color="#fffe00"/><stop offset="0.256" stop-color="#fffe00"/><stop offset="0.26" stop-color="#fff100"/><stop offset="0.287" stop-color="#ff6800"/><stop offset="0.304" stop-color="#ff2400"/><stop offset="0.316" stop-color="#ff1200"/><stop offset="0.34" stop-color="#fe0101"/><stop offset="0.351" stop-color="#e21d1d"/><stop offset="0.367" stop-color="#9a6666"/><stop offset="0.376" stop-color="#5ea2a2"/><stop offset="0.384" stop-color="#08f7f7"/><stop offset="0.387" stop-color="#00eef5"/><stop offset="0.393" stop-color="#00a0c6"/><stop offset="0.402" stop-color="#0066a2"/><stop offset="0.431" stop-color="#002b67"/><stop offset="0.458" stop-color="#00122c"/><stop offset="0.484" stop-color="#000814"/><stop offset="0.509" stop-color="#000712"/><stop offset="0.607" stop-color="#001c45"/><stop offset="0.627" stop-color="#002864"/><stop offset="0.638" stop-color="#00518d"/><stop offset="0.642" stop-color="#0074ab"/><stop offset="0.647" stop-color="#00b4d2"/><stop offset="0.653" stop-color="#00f8fb"/><stop offset="0.656" stop-color="#0bf4f4"/><stop offset="0.68" stop-color="#966a6a"/><stop offset="0.689" stop-color="#be4242"/><stop offset="0.702" stop-color="#e41b1b"/><stop offset="0.718" stop-color="#ff0200"/><stop offset="0.793" stop-color="#ff6000"/><stop offset="0.847" stop-color="#ff9700"/><stop offset="0.904" stop-color="#fb0"/><stop offset="1" stop-color="#ffe000"/></linearGradient>
<linearGradient id="e40" gradientUnits="userSpaceOnUse" x1="0" y1="158.1" x2="0" y2="609.0"><stop offset="0" stop-color="#ff0"/><stop offset="0.078" stop-color="#ff0"/><stop offset="0.158" stop-color="#ffe900"/><stop offset="0.22" stop-color="#fffe00"/><stop offset="0.256" stop-color="#fffe00"/><stop offset="0.26" stop-color="#fff100"/><stop offset="0.287" stop-color="#ff6700"/><stop offset="0.302" stop-color="#ff2800"/><stop offset="0.313" stop-color="#f10"/><stop offset="0.338" stop-color="#ff0100"/><stop offset="0.349" stop-color="#e71818"/><stop offset="0.364" stop-color="#a45b5b"/><stop offset="0.376" stop-color="#5da3a3"/><stop offset="0.384" stop-color="#06f9f9"/><stop offset="0.387" stop-color="#00eef5"/><stop offset="0.393" stop-color="#00a6c9"/><stop offset="0.402" stop-color="#006ba6"/><stop offset="0.436" stop-color="#002965"/><stop offset="0.462" stop-color="#00112c"/><stop offset="0.487" stop-color="#000815"/><stop offset="0.502" stop-color="#000711"/><stop offset="0.602" stop-color="#001f4e"/><stop offset="0.624" stop-color="#002b67"/><stop offset="0.633" stop-color="#004783"/><stop offset="0.64" stop-color="#0069a5"/><stop offset="0.647" stop-color="#00cbe0"/><stop offset="0.651" stop-color="#00f5f9"/><stop offset="0.653" stop-color="#08f7f7"/><stop offset="0.684" stop-color="#b24e4e"/><stop offset="0.698" stop-color="#dc2323"/><stop offset="0.716" stop-color="#fe0101"/><stop offset="0.849" stop-color="#ff9700"/><stop offset="0.907" stop-color="#ffb900"/><stop offset="1" stop-color="#ffdc00"/></linearGradient>
<linearGradient id="e41" gradientUnits="userSpaceOnUse" x1="0" y1="158.1" x2="0" y2="609.0"><stop offset="0" stop-color="#ff0"/><stop offset="0.078" stop-color="#ff0"/><stop offset="0.158" stop-color="#fff200"/><stop offset="0.256" stop-color="#fffe00"/><stop offset="0.26" stop-color="#fff200"/><stop offset="0.289" stop-color="#ff5b00"/><stop offset="0.304" stop-color="#ff1e00"/><stop offset="0.313" stop-color="#ff0f00"/><stop offset="0.338" stop-color="#fe0101"/><stop offset="0.349" stop-color="#e41b1b"/><stop offset="0.364" stop-color="#a35d5d"/><stop offset="0.376" stop-color="#5ca4a4"/><stop offset="0.384" stop-color="#05fafa"/><stop offset="0.387" stop-color="#00edf4"/><stop offset="0.393" stop-color="#00abcd"/><stop offset="0.404" stop-color="#0069a5"/><stop offset="0.438" stop-color="#002a66"/><stop offset="0.464" stop-color="#00122e"/><stop offset="0.487" stop-color="#000917"/><stop offset="0.502" stop-color="#000713"/><stop offset="0.609" stop-color="#00265f"/><stop offset="0.624" stop-color="#00326e"/><stop offset="0.638" stop-color="#0065a1"/><stop offset="0.647" stop-color="#00e2ee"/><stop offset="0.649" stop-color="#00f6fa"/><stop offset="0.651" stop-color="#08f7f7"/><stop offset="0.682" stop-color="#af5050"/><stop offset="0.698" stop-color="#df2020"/><stop offset="0.716" stop-color="#f00"/><stop offset="0.851" stop-color="#ff9700"/><stop offset="0.911" stop-color="#ffb900"/><stop offset="1" stop-color="#ffd700"/></linearGradient>
<linearGradient id="e42" gradientUnits="userSpaceOnUse" x1="0" y1="158.1" x2="0" y2="609.0"><stop offset="0" stop-color="#ff0"/><stop offset="0.256" stop-color="#fffe00"/><stop offset="0.26" stop-color="#fff200"/><stop offset="0.287" stop-color="#ff6400"/><stop offset="0.302" stop-color="#f20"/><stop offset="0.311" stop-color="#ff0e00"/><stop offset="0.336" stop-color="#f00"/><stop offset="0.347" stop-color="#e81717"/><stop offset="0.364" stop-color="#a15e5e"/><stop offset="0.376" stop-color="#5ba5a5"/><stop offset="0.384" stop-color="#03fcfc"/><stop offset="0.393" stop-color="#00b1d0"/><stop offset="0.407" stop-color="#0069a5"/><stop offset="0.442" stop-color="#002864"/><stop offset="0.464" stop-color="#001433"/><stop offset="0.487" stop-color="#000a19"/><stop offset="0.5" stop-color="#000813"/><stop offset="0.6" stop-color="#002864"/><stop offset="0.624" stop-color="#003a76"/><stop offset="0.633" stop-color="#005894"/><stop offset="0.638" stop-color="#0076ad"/><stop offset="0.644" stop-color="#00e1ed"/><stop offset="0.647" stop-color="#00f9fb"/><stop offset="0.649" stop-color="#0af5f5"/><stop offset="0.682" stop-color="#b64949"/><stop offset="0.698" stop-color="#e21e1e"/><stop offset="0.716" stop-color="#ff0100"/><stop offset="0.851" stop-color="#ff9500"/><stop offset="0.913" stop-color="#ffb800"/><stop offset="1" stop-color="#ffd300"/></linearGradient>
<linearGradient id="e43" gradientUnits="userSpaceOnUse" x1="0" y1="158.1" x2="0" y2="609.0"><stop offset="0" stop-color="#ff0"/><stop offset="0.256" stop-color="#fffb00"/><stop offset="0.262" stop-color="#ffe200"/><stop offset="0.287" stop-color="#ff6100"/><stop offset="0.302" stop-color="#ff2000"/><stop offset="0.311" stop-color="#ff0d00"/><stop offset="0.333" stop-color="#f00"/><stop offset="0.347" stop-color="#e61919"/><stop offset="0.364" stop-color="#a35d5d"/><stop offset="0.376" stop-color="#5fa1a1"/><stop offset="0.384" stop-color="#0bf4f4"/><stop offset="0.387" stop-color="#00f6fa"/><stop offset="0.393" stop-color="#00c0d9"/><stop offset="0.409" stop-color="#006fa8"/><stop offset="0.422" stop-color="#00538f"/><stop offset="0.456" stop-color="#002051"/><stop offset="0.482" stop-color="#000f25"/><stop offset="0.5" stop-color="#000917"/><stop offset="0.549" stop-color="#002050"/><stop offset="0.624" stop-color="#00427e"/><stop offset="0.636" stop-color="#006da8"/><stop offset="0.644" stop-color="#00f2f7"/><stop offset="0.647" stop-color="#08f7f7"/><stop offset="0.682" stop-color="#b44"/><stop offset="0.698" stop-color="#e31c1c"/><stop offset="0.716" stop-color="#ff0100"/><stop offset="0.851" stop-color="#ff9400"/><stop offset="0.916" stop-color="#ffb800"/><stop offset="1" stop-color="#ffd100"/></linearGradient>
<linearGradient id="e44" gradientUnits="userSpaceOnUse" x1="0" y1="158.1" x2="0" y2="609.0"><stop offset="0" stop-color="#ff0"/><stop offset="0.249" stop-color="#fffd00"/><stop offset="0.26" stop-color="#ffe400"/><stop offset="0.287" stop-color="#ff5c00"/><stop offset="0.302" stop-color="#ff2000"/><stop offset="0.311" stop-color="#ff0d00"/><stop offset="0.331" stop-color="#f00"/><stop offset="0.347" stop-color="#e51a1a"/><stop offset="0.364" stop-color="#a75858"/><stop offset="0.376" stop-color="#679898"/><stop offset="0.387" stop-color="#0bf5f5"/><stop offset="0.389" stop-color="#00f9fb"/><stop offset="0.393" stop-color="#00d8e8"/><stop offset="0.416" stop-color="#0068a4"/><stop offset="0.458" stop-color="#002761"/><stop offset="0.493" stop-color="#000e22"/><stop offset="0.5" stop-color="#000c1d"/><stop offset="0.54" stop-color="#002864"/><stop offset="0.624" stop-color="#004c88"/><stop offset="0.633" stop-color="#0068a4"/><stop offset="0.638" stop-color="#009bc3"/><stop offset="0.644" stop-color="#00fbfd"/><stop offset="0.653" stop-color="#35caca"/><stop offset="0.682" stop-color="#be4141"/><stop offset="0.7" stop-color="#e81717"/><stop offset="0.718" stop-color="#ff0100"/><stop offset="0.851" stop-color="#ff9400"/><stop offset="0.916" stop-color="#ffb800"/><stop offset="1" stop-color="#ffd100"/></linearGradient>
<linearGradient id="e45" gradientUnits="userSpaceOnUse" x1="0" y1="158.1" x2="0" y2="609.0"><stop offset="0" stop-color="#ff0"/><stop offset="0.247" stop-color="#fffe00"/><stop offset="0.258" stop-color="#ffe500"/><stop offset="0.284" stop-color="#ff6200"/><stop offset="0.3" stop-color="#ff2600"/><stop offset="0.309" stop-color="#ff1000"/><stop offset="0.327" stop-color="#ff0100"/><stop offset="0.342" stop-color="#ee1212"/><stop offset="0.362" stop-color="#b44c4c"/><stop offset="0.373" stop-color="#7e8282"/><stop offset="0.391" stop-color="#0ff"/><stop offset="0.393" stop-color="#00f0f6"/><stop offset="0.411" stop-color="#0091bd"/><stop offset="0.422" stop-color="#0068a4"/><stop offset="0.467" stop-color="#002863"/><stop offset="0.496" stop-color="#000f26"/><stop offset="0.5" stop-color="#000e24"/><stop offset="0.527" stop-color="#002863"/><stop offset="0.54" stop-color="#003a76"/><stop offset="0.624" stop-color="#005692"/><stop offset="0.631" stop-color="#0068a4"/><stop offset="0.633" stop-color="#0079af"/><stop offset="0.642" stop-color="#00ebf3"/><stop offset="0.644" stop-color="#05fafa"/><stop offset="0.653" stop-color="#3cc4c4"/><stop offset="0.68" stop-color="#ba4646"/><stop offset="0.7" stop-color="#e81717"/><stop offset="0.72" stop-color="#f00"/><stop offset="0.744" stop-color="#ff1600"/><stop offset="0.851" stop-color="#ff9400"/><stop offset="0.916" stop-color="#ffb800"/><stop offset="1" stop-color="#ffd100"/></linearGradient>
<linearGradient id="e46" gradientUnits="userSpaceOnUse" x1="0" y1="158.1" x2="0" y2="609.0"><stop offset="0" stop-color="#ff0"/><stop offset="0.247" stop-color="#fffe00"/><stop offset="0.256" stop-color="#ffe600"/><stop offset="0.284" stop-color="#ff5d00"/><stop offset="0.298" stop-color="#ff2c00"/><stop offset="0.309" stop-color="#ff1000"/><stop offset="0.327" stop-color="#fe0101"/><stop offset="0.344" stop-color="#e71818"/><stop offset="0.364" stop-color="#b05050"/><stop offset="0.373" stop-color="#867a7a"/><stop offset="0.391" stop-color="#14ebeb"/><stop offset="0.396" stop-color="#00fbfc"/><stop offset="0.413" stop-color="#009ec5"/><stop offset="0.427" stop-color="#0075ac"/><stop offset="0.473" stop-color="#002a66"/><stop offset="0.496" stop-color="#00122d"/><stop offset="0.5" stop-color="#00112a"/><stop offset="0.52" stop-color="#002965"/><stop offset="0.542" stop-color="#004e8a"/><stop offset="0.567" stop-color="#005b97"/><stop offset="0.624" stop-color="#00609c"/><stop offset="0.629" stop-color="#006ca7"/><stop offset="0.633" stop-color="#008bb9"/><stop offset="0.642" stop-color="#00f8fb"/><stop offset="0.653" stop-color="#42bdbd"/><stop offset="0.671" stop-color="#9a6565"/><stop offset="0.68" stop-color="#bd4242"/><stop offset="0.7" stop-color="#e81717"/><stop offset="0.724" stop-color="#f00"/><stop offset="0.742" stop-color="#ff0f00"/><stop offset="0.849" stop-color="#ff9300"/><stop offset="0.916" stop-color="#ffb800"/><stop offset="1" stop-color="#ffd100"/></linearGradient>
<linearGradient id="e47" gradientUnits="userSpaceOnUse" x1="0" y1="158.1" x2="0" y2="609.0"><stop offset="0" stop-color="#ff0"/><stop offset="0.247" stop-color="#fffd00"/><stop offset="0.253" stop-color="#ffe900"/><stop offset="0.282" stop-color="#ff6100"/><stop offset="0.293" stop-color="#ff3800"/><stop offset="0.309" stop-color="#ff1000"/><stop offset="0.324" stop-color="#fe0101"/><stop offset="0.347" stop-color="#e11e1e"/><stop offset="0.367" stop-color="#ad5353"/><stop offset="0.398" stop-color="#06f9f9"/><stop offset="0.4" stop-color="#00f9fc"/><stop offset="0.416" stop-color="#00accd"/><stop offset="0.427" stop-color="#0090bc"/><stop offset="0.442" stop-color="#0068a4"/><stop offset="0.48" stop-color="#002a66"/><stop offset="0.496" stop-color="#001534"/><stop offset="0.5" stop-color="#001330"/><stop offset="0.516" stop-color="#002c68"/><stop offset="0.542" stop-color="#00619d"/><stop offset="0.569" stop-color="#0075ac"/><stop offset="0.622" stop-color="#0067a3"/><stop offset="0.627" stop-color="#0075ac"/><stop offset="0.633" stop-color="#009dc4"/><stop offset="0.64" stop-color="#00eef5"/><stop offset="0.642" stop-color="#05fafa"/><stop offset="0.653" stop-color="#49b7b7"/><stop offset="0.678" stop-color="#bb4545"/><stop offset="0.702" stop-color="#ec1414"/><stop offset="0.731" stop-color="#f00"/><stop offset="0.849" stop-color="#ff9300"/><stop offset="0.916" stop-color="#ffb800"/><stop offset="1" stop-color="#ffd100"/></linearGradient>
<linearGradient id="e48" gradientUnits="userSpaceOnUse" x1="0" y1="158.1" x2="0" y2="609.0"><stop offset="0" stop-color="#ff0"/><stop offset="0.247" stop-color="#fffd00"/><stop offset="0.253" stop-color="#ffea00"/><stop offset="0.282" stop-color="#ff6700"/><stop offset="0.293" stop-color="#ff3f00"/><stop offset="0.309" stop-color="#ff1500"/><stop offset="0.324" stop-color="#fe0101"/><stop offset="0.347" stop-color="#e11e1e"/><stop offset="0.367" stop-color="#b24d4d"/><stop offset="0.402" stop-color="#04fbfb"/><stop offset="0.404" stop-color="#00f7fa"/><stop offset="0.416" stop-color="#00bed8"/><stop offset="0.427" stop-color="#009fc6"/><stop offset="0.447" stop-color="#0068a4"/><stop offset="0.484" stop-color="#002864"/><stop offset="0.5" stop-color="#001433"/><stop offset="0.504" stop-color="#00193e"/><stop offset="0.513" stop-color="#002a66"/><stop offset="0.529" stop-color="#00518d"/><stop offset="0.551" stop-color="#007aaf"/><stop offset="0.571" stop-color="#0089b8"/><stop offset="0.62" stop-color="#006aa6"/><stop offset="0.627" stop-color="#007fb2"/><stop offset="0.633" stop-color="#00a4c9"/><stop offset="0.64" stop-color="#00f3f8"/><stop offset="0.642" stop-color="#08f7f7"/><stop offset="0.664" stop-color="#847c7c"/><stop offset="0.678" stop-color="#bd4343"/><stop offset="0.702" stop-color="#ec1414"/><stop offset="0.736" stop-color="#ff0100"/><stop offset="0.8" stop-color="#ff5b00"/><stop offset="0.847" stop-color="#ff9000"/><stop offset="0.916" stop-color="#ffb700"/><stop offset="1" stop-color="#ffcf00"/></linearGradient>
<linearGradient id="e49" gradientUnits="userSpaceOnUse" x1="0" y1="158.1" x2="0" y2="609.0"><stop offset="0" stop-color="#ff0"/><stop offset="0.247" stop-color="#fffe00"/><stop offset="0.258" stop-color="#ffe100"/><stop offset="0.282" stop-color="#ff7600"/><stop offset="0.298" stop-color="#ff3f00"/><stop offset="0.313" stop-color="#ff1400"/><stop offset="0.324" stop-color="#fe0101"/><stop offset="0.351" stop-color="#da2525"/><stop offset="0.369" stop-color="#b14e4e"/><stop offset="0.387" stop-color="#669a9a"/><stop offset="0.407" stop-color="#00fdfe"/><stop offset="0.416" stop-color="#00cde1"/><stop offset="0.427" stop-color="#00a6ca"/><stop offset="0.449" stop-color="#0067a3"/><stop offset="0.487" stop-color="#002965"/><stop offset="0.5" stop-color="#001433"/><stop offset="0.504" stop-color="#00193e"/><stop offset="0.513" stop-color="#002a66"/><stop offset="0.529" stop-color="#00528e"/><stop offset="0.551" stop-color="#007eb2"/><stop offset="0.571" stop-color="#008cba"/><stop offset="0.62" stop-color="#006aa6"/><stop offset="0.627" stop-color="#007fb2"/><stop offset="0.633" stop-color="#00a4c9"/><stop offset="0.64" stop-color="#00eff5"/><stop offset="0.642" stop-color="#05fafa"/><stop offset="0.662" stop-color="#798787"/><stop offset="0.678" stop-color="#bd4343"/><stop offset="0.702" stop-color="#ec1414"/><stop offset="0.736" stop-color="#f00"/><stop offset="0.8" stop-color="#ff5b00"/><stop offset="0.847" stop-color="#ff8f00"/><stop offset="0.918" stop-color="#ffb600"/><stop offset="1" stop-color="#ffcd00"/></linearGradient>
<linearGradient id="e50" gradientUnits="userSpaceOnUse" x1="0" y1="158.1" x2="0" y2="609.0"><stop offset="0" stop-color="#ff0"/><stop offset="0.247" stop-color="#fffe00"/><stop offset="0.258" stop-color="#ffec00"/><stop offset="0.296" stop-color="#ff5400"/><stop offset="0.324" stop-color="#f00"/><stop offset="0.353" stop-color="#d92727"/><stop offset="0.371" stop-color="#b14e4e"/><stop offset="0.389" stop-color="#6f9191"/><stop offset="0.409" stop-color="#03fcfc"/><stop offset="0.427" stop-color="#00adce"/><stop offset="0.449" stop-color="#0069a5"/><stop offset="0.489" stop-color="#002965"/><stop offset="0.5" stop-color="#001433"/><stop offset="0.504" stop-color="#00193d"/><stop offset="0.513" stop-color="#002a66"/><stop offset="0.531" stop-color="#005995"/><stop offset="0.551" stop-color="#0082b4"/><stop offset="0.571" stop-color="#0090bc"/><stop offset="0.607" stop-color="#006ea8"/><stop offset="0.62" stop-color="#006aa6"/><stop offset="0.627" stop-color="#007fb2"/><stop offset="0.633" stop-color="#00a4c9"/><stop offset="0.642" stop-color="#02fdfd"/><stop offset="0.658" stop-color="#629e9e"/><stop offset="0.669" stop-color="#9a6565"/><stop offset="0.678" stop-color="#bd4343"/><stop offset="0.704" stop-color="#e11"/><stop offset="0.738" stop-color="#ff0100"/><stop offset="0.796" stop-color="#f50"/><stop offset="0.847" stop-color="#ff8d00"/><stop offset="0.92" stop-color="#ffb500"/><stop offset="1" stop-color="#ffca00"/></linearGradient>
<linearGradient id="e51" gradientUnits="userSpaceOnUse" x1="0" y1="158.1" x2="0" y2="609.0"><stop offset="0" stop-color="#ff0"/><stop offset="0.256" stop-color="#fffa00"/><stop offset="0.262" stop-color="#ffe900"/><stop offset="0.278" stop-color="#ffa400"/><stop offset="0.3" stop-color="#ff5200"/><stop offset="0.324" stop-color="#ff0100"/><stop offset="0.356" stop-color="#d72828"/><stop offset="0.378" stop-color="#a85858"/><stop offset="0.391" stop-color="#788787"/><stop offset="0.411" stop-color="#05fafa"/><stop offset="0.413" stop-color="#00f7fa"/><stop offset="0.427" stop-color="#00b4d2"/><stop offset="0.451" stop-color="#0068a4"/><stop offset="0.491" stop-color="#002965"/><stop offset="0.496" stop-color="#002153"/><stop offset="0.498" stop-color="#00183d"/><stop offset="0.5" stop-color="#001433"/><stop offset="0.504" stop-color="#00193d"/><stop offset="0.513" stop-color="#002a66"/><stop offset="0.531" stop-color="#005a96"/><stop offset="0.551" stop-color="#0085b6"/><stop offset="0.571" stop-color="#0094bf"/><stop offset="0.607" stop-color="#006fa8"/><stop offset="0.62" stop-color="#006aa6"/><stop offset="0.627" stop-color="#0080b3"/><stop offset="0.633" stop-color="#00a4c9"/><stop offset="0.642" stop-color="#00feff"/><stop offset="0.658" stop-color="#629e9e"/><stop offset="0.669" stop-color="#9b6565"/><stop offset="0.678" stop-color="#bd4343"/><stop offset="0.704" stop-color="#e11"/><stop offset="0.738" stop-color="#f00"/><stop offset="0.796" stop-color="#ff5400"/><stop offset="0.849" stop-color="#ff8d00"/><stop offset="0.927" stop-color="#ffb500"/><stop offset="1" stop-color="#ffc700"/></linearGradient>
<linearGradient id="e52" gradientUnits="userSpaceOnUse" x1="0" y1="158.1" x2="0" y2="609.0"><stop offset="0" stop-color="#ff0"/><stop offset="0.256" stop-color="#fffd00"/><stop offset="0.262" stop-color="#ffed00"/><stop offset="0.278" stop-color="#ffa700"/><stop offset="0.322" stop-color="#ff0200"/><stop offset="0.356" stop-color="#cf3030"/><stop offset="0.382" stop-color="#966a6a"/><stop offset="0.393" stop-color="#6a9696"/><stop offset="0.411" stop-color="#02fdfd"/><stop offset="0.427" stop-color="#00abcd"/><stop offset="0.447" stop-color="#0068a4"/><stop offset="0.491" stop-color="#002762"/><stop offset="0.496" stop-color="#002051"/><stop offset="0.5" stop-color="#001330"/><stop offset="0.504" stop-color="#00173a"/><stop offset="0.513" stop-color="#002761"/><stop offset="0.531" stop-color="#005591"/><stop offset="0.551" stop-color="#007bb0"/><stop offset="0.571" stop-color="#008ab9"/><stop offset="0.607" stop-color="#0069a5"/><stop offset="0.622" stop-color="#0069a5"/><stop offset="0.627" stop-color="#0079af"/><stop offset="0.633" stop-color="#00a1c7"/><stop offset="0.642" stop-color="#00fbfd"/><stop offset="0.658" stop-color="#5fa0a0"/><stop offset="0.678" stop-color="#b94646"/><stop offset="0.704" stop-color="#ed1212"/><stop offset="0.736" stop-color="#f00"/><stop offset="0.798" stop-color="#ff5800"/><stop offset="0.849" stop-color="#ff8e00"/><stop offset="0.884" stop-color="#ffa200"/><stop offset="1" stop-color="#ffc600"/></linearGradient>
<linearGradient id="e53" gradientUnits="userSpaceOnUse" x1="0" y1="158.1" x2="0" y2="609.0"><stop offset="0" stop-color="#ff0"/><stop offset="0.253" stop-color="#fffd00"/><stop offset="0.26" stop-color="#fe0"/><stop offset="0.278" stop-color="#ffa000"/><stop offset="0.318" stop-color="#ff0500"/><stop offset="0.32" stop-color="#fe0101"/><stop offset="0.351" stop-color="#c43b3b"/><stop offset="0.373" stop-color="#926e6e"/><stop offset="0.391" stop-color="#57a8a8"/><stop offset="0.407" stop-color="#02fdfd"/><stop offset="0.427" stop-color="#0090bd"/><stop offset="0.438" stop-color="#0067a3"/><stop offset="0.487" stop-color="#00245b"/><stop offset="0.496" stop-color="#001b43"/><stop offset="0.5" stop-color="#00112b"/><stop offset="0.507" stop-color="#00183b"/><stop offset="0.518" stop-color="#002a66"/><stop offset="0.536" stop-color="#00528e"/><stop offset="0.547" stop-color="#00629e"/><stop offset="0.571" stop-color="#0072aa"/><stop offset="0.609" stop-color="#00639f"/><stop offset="0.624" stop-color="#0066a2"/><stop offset="0.627" stop-color="#006ca7"/><stop offset="0.633" stop-color="#009bc3"/><stop offset="0.642" stop-color="#00f9fb"/><stop offset="0.644" stop-color="#0bf4f4"/><stop offset="0.658" stop-color="#5ba5a5"/><stop offset="0.678" stop-color="#b14e4e"/><stop offset="0.702" stop-color="#e81818"/><stop offset="0.727" stop-color="#f00"/><stop offset="0.747" stop-color="#f10"/><stop offset="0.802" stop-color="#ff6200"/><stop offset="0.849" stop-color="#ff9200"/><stop offset="1" stop-color="#ffc500"/></linearGradient>
<linearGradient id="e54" gradientUnits="userSpaceOnUse" x1="0" y1="158.1" x2="0" y2="609.0"><stop offset="0" stop-color="#ff0"/><stop offset="0.251" stop-color="#fffe00"/><stop offset="0.26" stop-color="#ffe800"/><stop offset="0.298" stop-color="#f40"/><stop offset="0.316" stop-color="#ff0100"/><stop offset="0.369" stop-color="#847c7c"/><stop offset="0.391" stop-color="#39c6c6"/><stop offset="0.402" stop-color="#01fefe"/><stop offset="0.413" stop-color="#00b9d5"/><stop offset="0.427" stop-color="#0075ac"/><stop offset="0.431" stop-color="#0066a2"/><stop offset="0.462" stop-color="#00336f"/><stop offset="0.491" stop-color="#001940"/><stop offset="0.5" stop-color="#000f26"/><stop offset="0.522" stop-color="#002a66"/><stop offset="0.549" stop-color="#005894"/><stop offset="0.573" stop-color="#00639f"/><stop offset="0.624" stop-color="#00609c"/><stop offset="0.629" stop-color="#006da8"/><stop offset="0.631" stop-color="#0080b3"/><stop offset="0.636" stop-color="#00a9cc"/><stop offset="0.642" stop-color="#00f6fa"/><stop offset="0.644" stop-color="#0af6f6"/><stop offset="0.658" stop-color="#56aaaa"/><stop offset="0.678" stop-color="#aa5656"/><stop offset="0.7" stop-color="#e11f1f"/><stop offset="0.722" stop-color="#f00"/><stop offset="0.749" stop-color="#ff1a00"/><stop offset="0.802" stop-color="#f60"/><stop offset="0.847" stop-color="#ff9400"/><stop offset="0.873" stop-color="#ffa000"/><stop offset="0.938" stop-color="#ffa600"/><stop offset="1" stop-color="#ffc600"/></linearGradient>
<linearGradient id="e55" gradientUnits="userSpaceOnUse" x1="0" y1="158.1" x2="0" y2="609.0"><stop offset="0" stop-color="#ff0"/><stop offset="0.251" stop-color="#fffe00"/><stop offset="0.258" stop-color="#ffec00"/><stop offset="0.296" stop-color="#ff4200"/><stop offset="0.311" stop-color="#ff0400"/><stop offset="0.313" stop-color="#fc0303"/><stop offset="0.362" stop-color="#808080"/><stop offset="0.398" stop-color="#00fcfd"/><stop offset="0.413" stop-color="#009cc4"/><stop offset="0.422" stop-color="#006fa9"/><stop offset="0.427" stop-color="#00639f"/><stop offset="0.46" stop-color="#002762"/><stop offset="0.5" stop-color="#000d22"/><stop offset="0.507" stop-color="#00122c"/><stop offset="0.527" stop-color="#002965"/><stop offset="0.549" stop-color="#004d89"/><stop offset="0.578" stop-color="#005995"/><stop offset="0.624" stop-color="#005a96"/><stop offset="0.629" stop-color="#0066a2"/><stop offset="0.631" stop-color="#0077ad"/><stop offset="0.642" stop-color="#00f4f8"/><stop offset="0.644" stop-color="#08f7f7"/><stop offset="0.658" stop-color="#51afaf"/><stop offset="0.68" stop-color="#a95656"/><stop offset="0.7" stop-color="#d22"/><stop offset="0.72" stop-color="#f00"/><stop offset="0.753" stop-color="#ff2500"/><stop offset="0.8" stop-color="#ff6800"/><stop offset="0.847" stop-color="#ff9800"/><stop offset="0.871" stop-color="#ffa200"/><stop offset="0.938" stop-color="#ff9f00"/><stop offset="1" stop-color="#ffc600"/></linearGradient>
<linearGradient id="e56" gradientUnits="userSpaceOnUse" x1="0" y1="158.1" x2="0" y2="609.0"><stop offset="0" stop-color="#ff0"/><stop offset="0.22" stop-color="#ff0"/><stop offset="0.251" stop-color="#fff500"/><stop offset="0.258" stop-color="#ffe000"/><stop offset="0.296" stop-color="#ff3400"/><stop offset="0.309" stop-color="#fd0202"/><stop offset="0.36" stop-color="#758b8b"/><stop offset="0.393" stop-color="#0ff"/><stop offset="0.42" stop-color="#006aa5"/><stop offset="0.453" stop-color="#002864"/><stop offset="0.476" stop-color="#001636"/><stop offset="0.498" stop-color="#000c1d"/><stop offset="0.507" stop-color="#000f26"/><stop offset="0.529" stop-color="#00265f"/><stop offset="0.549" stop-color="#004480"/><stop offset="0.58" stop-color="#00538f"/><stop offset="0.624" stop-color="#005692"/><stop offset="0.631" stop-color="#0071aa"/><stop offset="0.642" stop-color="#00f3f8"/><stop offset="0.644" stop-color="#07f8f8"/><stop offset="0.656" stop-color="#42bdbd"/><stop offset="0.682" stop-color="#a95757"/><stop offset="0.7" stop-color="#d92727"/><stop offset="0.72" stop-color="#f00"/><stop offset="0.8" stop-color="#ff6b00"/><stop offset="0.847" stop-color="#ff9c00"/><stop offset="0.871" stop-color="#ffa600"/><stop offset="0.938" stop-color="#ff9f00"/><stop offset="1" stop-color="#ffc700"/></linearGradient>
<linearGradient id="e57" gradientUnits="userSpaceOnUse" x1="0" y1="158.1" x2="0" y2="609.0"><stop offset="0" stop-color="#ff0"/><stop offset="0.227" stop-color="#fffb00"/><stop offset="0.253" stop-color="#ffd500"/><stop offset="0.289" stop-color="#ff3c00"/><stop offset="0.304" stop-color="#fd0202"/><stop offset="0.369" stop-color="#5aa"/><stop offset="0.393" stop-color="#0ff"/><stop offset="0.411" stop-color="#009ac2"/><stop offset="0.422" stop-color="#0066a2"/><stop offset="0.456" stop-color="#002761"/><stop offset="0.48" stop-color="#00122e"/><stop offset="0.498" stop-color="#000b1b"/><stop offset="0.507" stop-color="#000e24"/><stop offset="0.531" stop-color="#002762"/><stop offset="0.549" stop-color="#00417d"/><stop offset="0.624" stop-color="#005490"/><stop offset="0.629" stop-color="#00639f"/><stop offset="0.631" stop-color="#0073ab"/><stop offset="0.642" stop-color="#00f6fa"/><stop offset="0.644" stop-color="#08f7f7"/><stop offset="0.656" stop-color="#3ec1c1"/><stop offset="0.684" stop-color="#a85858"/><stop offset="0.702" stop-color="#d82727"/><stop offset="0.722" stop-color="#fe0101"/><stop offset="0.804" stop-color="#ff7300"/><stop offset="0.851" stop-color="#ffa700"/><stop offset="0.871" stop-color="#ffaf00"/><stop offset="0.938" stop-color="#ffae00"/><stop offset="1" stop-color="#ffcd00"/></linearGradient>
<linearGradient id="e58" gradientUnits="userSpaceOnUse" x1="0" y1="158.1" x2="0" y2="609.0"><stop offset="0" stop-color="#ff0"/><stop offset="0.222" stop-color="#fffe00"/><stop offset="0.251" stop-color="#ffc100"/><stop offset="0.28" stop-color="#ff4a00"/><stop offset="0.3" stop-color="#fc0303"/><stop offset="0.338" stop-color="#926d6d"/><stop offset="0.373" stop-color="#47b9b9"/><stop offset="0.393" stop-color="#0ff"/><stop offset="0.422" stop-color="#0068a4"/><stop offset="0.456" stop-color="#002864"/><stop offset="0.48" stop-color="#00122c"/><stop offset="0.498" stop-color="#000a18"/><stop offset="0.507" stop-color="#000d22"/><stop offset="0.533" stop-color="#002864"/><stop offset="0.549" stop-color="#003e7a"/><stop offset="0.624" stop-color="#00538f"/><stop offset="0.629" stop-color="#00639f"/><stop offset="0.631" stop-color="#0076ad"/><stop offset="0.642" stop-color="#00f9fb"/><stop offset="0.644" stop-color="#09f6f6"/><stop offset="0.653" stop-color="#32cdcd"/><stop offset="0.689" stop-color="#ae5252"/><stop offset="0.709" stop-color="#e11e1e"/><stop offset="0.727" stop-color="#ff0200"/><stop offset="0.82" stop-color="#ff8c00"/><stop offset="0.853" stop-color="#ffb000"/><stop offset="0.94" stop-color="#ffbe00"/><stop offset="1" stop-color="#ffd300"/></linearGradient>
<linearGradient id="e59" gradientUnits="userSpaceOnUse" x1="0" y1="158.1" x2="0" y2="609.0"><stop offset="0" stop-color="#ff0"/><stop offset="0.222" stop-color="#fffd00"/><stop offset="0.231" stop-color="#ffea00"/><stop offset="0.251" stop-color="#ffa800"/><stop offset="0.269" stop-color="#ff5a00"/><stop offset="0.293" stop-color="#ff0300"/><stop offset="0.338" stop-color="#827e7e"/><stop offset="0.376" stop-color="#40bfbf"/><stop offset="0.393" stop-color="#0ff"/><stop offset="0.424" stop-color="#0065a1"/><stop offset="0.458" stop-color="#002761"/><stop offset="0.48" stop-color="#00112a"/><stop offset="0.498" stop-color="#000916"/><stop offset="0.507" stop-color="#000d1f"/><stop offset="0.536" stop-color="#002a66"/><stop offset="0.549" stop-color="#003b77"/><stop offset="0.624" stop-color="#00528e"/><stop offset="0.629" stop-color="#00639f"/><stop offset="0.631" stop-color="#0078ae"/><stop offset="0.642" stop-color="#00fbfd"/><stop offset="0.653" stop-color="#2fd0d0"/><stop offset="0.693" stop-color="#b44b4b"/><stop offset="0.727" stop-color="#fd0202"/><stop offset="0.816" stop-color="#ff8a00"/><stop offset="0.856" stop-color="#ffb900"/><stop offset="1" stop-color="#ffd800"/></linearGradient>
<linearGradient id="e60" gradientUnits="userSpaceOnUse" x1="0" y1="158.1" x2="0" y2="609.0"><stop offset="0" stop-color="#fffc00"/><stop offset="0.22" stop-color="#fff600"/><stop offset="0.231" stop-color="#ffdc00"/><stop offset="0.251" stop-color="#ff8e00"/><stop offset="0.264" stop-color="#ff5000"/><stop offset="0.289" stop-color="#f00"/><stop offset="0.333" stop-color="#7f8181"/><stop offset="0.347" stop-color="#639c9c"/><stop offset="0.376" stop-color="#40c0c0"/><stop offset="0.393" stop-color="#01fefe"/><stop offset="0.422" stop-color="#0071aa"/><stop offset="0.427" stop-color="#00639f"/><stop offset="0.458" stop-color="#002965"/><stop offset="0.482" stop-color="#000f26"/><stop offset="0.5" stop-color="#000916"/><stop offset="0.533" stop-color="#002965"/><stop offset="0.547" stop-color="#003b77"/><stop offset="0.624" stop-color="#005591"/><stop offset="0.629" stop-color="#0067a3"/><stop offset="0.642" stop-color="#00feff"/><stop offset="0.651" stop-color="#25dada"/><stop offset="0.696" stop-color="#b34c4c"/><stop offset="0.731" stop-color="#ff0100"/><stop offset="0.816" stop-color="#ff8b00"/><stop offset="0.858" stop-color="#ffc000"/><stop offset="0.924" stop-color="#ffd500"/><stop offset="1" stop-color="#fd0"/></linearGradient>
<linearGradient id="e61" gradientUnits="userSpaceOnUse" x1="0" y1="158.1" x2="0" y2="609.0"><stop offset="0" stop-color="#fff100"/><stop offset="0.142" stop-color="#ffe500"/><stop offset="0.22" stop-color="#ffd100"/><stop offset="0.231" stop-color="#ffb800"/><stop offset="0.264" stop-color="#ff3e00"/><stop offset="0.284" stop-color="#f00"/><stop offset="0.331" stop-color="#7e8282"/><stop offset="0.347" stop-color="#60a0a0"/><stop offset="0.376" stop-color="#3ec2c2"/><stop offset="0.393" stop-color="#05fafa"/><stop offset="0.396" stop-color="#00fbfc"/><stop offset="0.427" stop-color="#0069a5"/><stop offset="0.462" stop-color="#002761"/><stop offset="0.482" stop-color="#00112b"/><stop offset="0.5" stop-color="#000b1a"/><stop offset="0.507" stop-color="#001027"/><stop offset="0.524" stop-color="#002864"/><stop offset="0.547" stop-color="#004d89"/><stop offset="0.624" stop-color="#0067a3"/><stop offset="0.627" stop-color="#0072aa"/><stop offset="0.64" stop-color="#00f3f8"/><stop offset="0.642" stop-color="#03fcfc"/><stop offset="0.651" stop-color="#25dbdb"/><stop offset="0.696" stop-color="#a75858"/><stop offset="0.724" stop-color="#eb1414"/><stop offset="0.736" stop-color="#ff0200"/><stop offset="0.822" stop-color="#ff8d00"/><stop offset="0.86" stop-color="#ffbc00"/><stop offset="0.92" stop-color="#ffd300"/><stop offset="1" stop-color="#fd0"/></linearGradient>
<linearGradient id="e62" gradientUnits="userSpaceOnUse" x1="0" y1="158.1" x2="0" y2="609.0"><stop offset="0" stop-color="#ffe600"/><stop offset="0.14" stop-color="#ffd200"/><stop offset="0.216" stop-color="#ffaf00"/><stop offset="0.231" stop-color="#ff9500"/><stop offset="0.28" stop-color="#f00"/><stop offset="0.324" stop-color="#857b7b"/><stop offset="0.344" stop-color="#60a0a0"/><stop offset="0.378" stop-color="#38c8c8"/><stop offset="0.396" stop-color="#01fefe"/><stop offset="0.427" stop-color="#0075ac"/><stop offset="0.464" stop-color="#002762"/><stop offset="0.482" stop-color="#001330"/><stop offset="0.5" stop-color="#000d1f"/><stop offset="0.507" stop-color="#00132f"/><stop offset="0.52" stop-color="#002965"/><stop offset="0.542" stop-color="#005a96"/><stop offset="0.567" stop-color="#0070a9"/><stop offset="0.622" stop-color="#0089b8"/><stop offset="0.627" stop-color="#0099c2"/><stop offset="0.64" stop-color="#00fbfc"/><stop offset="0.693" stop-color="#966a6a"/><stop offset="0.738" stop-color="#ff0101"/><stop offset="0.782" stop-color="#ff4000"/><stop offset="0.827" stop-color="#ff8d00"/><stop offset="0.864" stop-color="#fb0"/><stop offset="0.922" stop-color="#ffd300"/><stop offset="1" stop-color="#fd0"/></linearGradient>
<linearGradient id="e63" gradientUnits="userSpaceOnUse" x1="0" y1="158.1" x2="0" y2="609.0"><stop offset="0" stop-color="#ffdb00"/><stop offset="0.133" stop-color="#ffc000"/><stop offset="0.198" stop-color="#ff9b00"/><stop offset="0.222" stop-color="#ff8100"/><stop offset="0.276" stop-color="#fe0101"/><stop offset="0.324" stop-color="#7c8484"/><stop offset="0.378" stop-color="#36c9c9"/><stop offset="0.398" stop-color="#00fcfd"/><stop offset="0.427" stop-color="#0082b4"/><stop offset="0.433" stop-color="#0069a5"/><stop offset="0.467" stop-color="#002762"/><stop offset="0.484" stop-color="#001431"/><stop offset="0.5" stop-color="#000f24"/><stop offset="0.507" stop-color="#001637"/><stop offset="0.516" stop-color="#002863"/><stop offset="0.531" stop-color="#005894"/><stop offset="0.547" stop-color="#007db1"/><stop offset="0.567" stop-color="#009cc4"/><stop offset="0.62" stop-color="#00b0cf"/><stop offset="0.624" stop-color="#00b8d4"/><stop offset="0.638" stop-color="#00f8fb"/><stop offset="0.64" stop-color="#03fcfc"/><stop offset="0.729" stop-color="#e41b1b"/><stop offset="0.742" stop-color="#ff0200"/><stop offset="0.784" stop-color="#ff3900"/><stop offset="0.831" stop-color="#ff8c00"/><stop offset="0.871" stop-color="#ffbd00"/><stop offset="0.929" stop-color="#ffd400"/><stop offset="1" stop-color="#fd0"/></linearGradient>
<linearGradient id="e64" gradientUnits="userSpaceOnUse" x1="0" y1="158.1" x2="0" y2="609.0"><stop offset="0" stop-color="#ffce00"/><stop offset="0.084" stop-color="#ffbe00"/><stop offset="0.171" stop-color="#ff9600"/><stop offset="0.211" stop-color="#ff6b00"/><stop offset="0.269" stop-color="#f00"/><stop offset="0.322" stop-color="#788888"/><stop offset="0.382" stop-color="#2fd1d1"/><stop offset="0.398" stop-color="#02fdfd"/><stop offset="0.427" stop-color="#008dbb"/><stop offset="0.438" stop-color="#0066a2"/><stop offset="0.469" stop-color="#002760"/><stop offset="0.484" stop-color="#001536"/><stop offset="0.5" stop-color="#001029"/><stop offset="0.504" stop-color="#001535"/><stop offset="0.513" stop-color="#002863"/><stop offset="0.531" stop-color="#0067a3"/><stop offset="0.536" stop-color="#0080b3"/><stop offset="0.547" stop-color="#00a3c8"/><stop offset="0.567" stop-color="#00c4db"/><stop offset="0.62" stop-color="#00d5e6"/><stop offset="0.636" stop-color="#00feff"/><stop offset="0.702" stop-color="#956b6b"/><stop offset="0.744" stop-color="#fe0101"/><stop offset="0.782" stop-color="#ff2d00"/><stop offset="0.836" stop-color="#ff8b00"/><stop offset="0.876" stop-color="#ffbe00"/><stop offset="0.933" stop-color="#ffd400"/><stop offset="1" stop-color="#ffdc00"/></linearGradient>
<linearGradient id="e65" gradientUnits="userSpaceOnUse" x1="0" y1="158.1" x2="0" y2="609.0"><stop offset="0" stop-color="#ffb500"/><stop offset="0.071" stop-color="#fa0"/><stop offset="0.156" stop-color="#ff8c00"/><stop offset="0.211" stop-color="#ff5600"/><stop offset="0.262" stop-color="#ff0200"/><stop offset="0.276" stop-color="#e61919"/><stop offset="0.32" stop-color="#768a8a"/><stop offset="0.382" stop-color="#31cece"/><stop offset="0.4" stop-color="#00fdfe"/><stop offset="0.427" stop-color="#0090bc"/><stop offset="0.438" stop-color="#0067a3"/><stop offset="0.469" stop-color="#002863"/><stop offset="0.484" stop-color="#00173a"/><stop offset="0.5" stop-color="#001029"/><stop offset="0.504" stop-color="#001535"/><stop offset="0.513" stop-color="#002965"/><stop offset="0.529" stop-color="#00639f"/><stop offset="0.536" stop-color="#008bb9"/><stop offset="0.547" stop-color="#00aece"/><stop offset="0.564" stop-color="#00cde1"/><stop offset="0.618" stop-color="#00deeb"/><stop offset="0.636" stop-color="#03fcfc"/><stop offset="0.751" stop-color="#ff0101"/><stop offset="0.793" stop-color="#ff3600"/><stop offset="0.844" stop-color="#ff8e00"/><stop offset="0.878" stop-color="#ffb500"/><stop offset="0.933" stop-color="#ffce00"/><stop offset="1" stop-color="#ffd800"/></linearGradient>
<linearGradient id="e66" gradientUnits="userSpaceOnUse" x1="0" y1="158.1" x2="0" y2="609.0"><stop offset="0" stop-color="#ff9b00"/><stop offset="0.082" stop-color="#ff9000"/><stop offset="0.151" stop-color="#f70"/><stop offset="0.213" stop-color="#ff4000"/><stop offset="0.258" stop-color="#f00"/><stop offset="0.276" stop-color="#db2424"/><stop offset="0.316" stop-color="#778989"/><stop offset="0.338" stop-color="#5aa5a5"/><stop offset="0.382" stop-color="#3cc"/><stop offset="0.4" stop-color="#01fefe"/><stop offset="0.427" stop-color="#0092be"/><stop offset="0.438" stop-color="#0068a4"/><stop offset="0.469" stop-color="#002965"/><stop offset="0.487" stop-color="#001739"/><stop offset="0.5" stop-color="#001029"/><stop offset="0.504" stop-color="#001636"/><stop offset="0.511" stop-color="#00245b"/><stop offset="0.52" stop-color="#00437f"/><stop offset="0.529" stop-color="#0067a3"/><stop offset="0.536" stop-color="#0096c0"/><stop offset="0.544" stop-color="#00b3d2"/><stop offset="0.564" stop-color="#00d8e8"/><stop offset="0.618" stop-color="#00e9f2"/><stop offset="0.633" stop-color="#01fefe"/><stop offset="0.662" stop-color="#45bbbb"/><stop offset="0.707" stop-color="#976969"/><stop offset="0.744" stop-color="#ea1515"/><stop offset="0.758" stop-color="#ff0200"/><stop offset="0.804" stop-color="#ff3e00"/><stop offset="0.851" stop-color="#ff8d00"/><stop offset="0.882" stop-color="#ffaf00"/><stop offset="0.938" stop-color="#ffca00"/><stop offset="1" stop-color="#ffd400"/></linearGradient>
<linearGradient id="e67" gradientUnits="userSpaceOnUse" x1="0" y1="158.1" x2="0" y2="609.0"><stop offset="0" stop-color="#f90"/><stop offset="0.078" stop-color="#ff8c00"/><stop offset="0.149" stop-color="#ff6c00"/><stop offset="0.211" stop-color="#ff3800"/><stop offset="0.253" stop-color="#fe0101"/><stop offset="0.313" stop-color="#778989"/><stop offset="0.382" stop-color="#36caca"/><stop offset="0.4" stop-color="#04fbfb"/><stop offset="0.402" stop-color="#00fbfd"/><stop offset="0.427" stop-color="#0095bf"/><stop offset="0.438" stop-color="#0069a5"/><stop offset="0.467" stop-color="#002e6a"/><stop offset="0.489" stop-color="#001637"/><stop offset="0.5" stop-color="#001029"/><stop offset="0.504" stop-color="#001636"/><stop offset="0.511" stop-color="#00255d"/><stop offset="0.52" stop-color="#004682"/><stop offset="0.529" stop-color="#006da7"/><stop offset="0.536" stop-color="#009ec5"/><stop offset="0.544" stop-color="#00bdd7"/><stop offset="0.564" stop-color="#00e2ed"/><stop offset="0.627" stop-color="#01fefe"/><stop offset="0.662" stop-color="#4bb5b5"/><stop offset="0.762" stop-color="#ff0100"/><stop offset="0.807" stop-color="#ff3700"/><stop offset="0.858" stop-color="#ff8900"/><stop offset="0.887" stop-color="#ffa800"/><stop offset="0.942" stop-color="#ffc400"/><stop offset="1" stop-color="#ffcf00"/></linearGradient>
<linearGradient id="e68" gradientUnits="userSpaceOnUse" x1="0" y1="158.1" x2="0" y2="609.0"><stop offset="0" stop-color="#fb0"/><stop offset="0.071" stop-color="#ffa700"/><stop offset="0.162" stop-color="#ff6a00"/><stop offset="0.211" stop-color="#ff3d00"/><stop offset="0.249" stop-color="#fe0101"/><stop offset="0.311" stop-color="#7d8383"/><stop offset="0.382" stop-color="#3ac6c6"/><stop offset="0.389" stop-color="#2dd2d2"/><stop offset="0.402" stop-color="#0ff"/><stop offset="0.427" stop-color="#0098c1"/><stop offset="0.438" stop-color="#0069a5"/><stop offset="0.464" stop-color="#00326e"/><stop offset="0.489" stop-color="#001637"/><stop offset="0.5" stop-color="#001029"/><stop offset="0.504" stop-color="#001637"/><stop offset="0.511" stop-color="#002660"/><stop offset="0.522" stop-color="#00518d"/><stop offset="0.527" stop-color="#0064a0"/><stop offset="0.536" stop-color="#00a3c8"/><stop offset="0.544" stop-color="#00c5dc"/><stop offset="0.562" stop-color="#00e8f1"/><stop offset="0.609" stop-color="#01fefe"/><stop offset="0.633" stop-color="#1ce3e3"/><stop offset="0.767" stop-color="#f00"/><stop offset="0.882" stop-color="#ff9700"/><stop offset="0.938" stop-color="#ffb800"/><stop offset="1" stop-color="#ffcb00"/></linearGradient>
<linearGradient id="e69" gradientUnits="userSpaceOnUse" x1="0" y1="158.1" x2="0" y2="609.0"><stop offset="0" stop-color="#ffdc00"/><stop offset="0.069" stop-color="#ffc100"/><stop offset="0.184" stop-color="#ff5e00"/><stop offset="0.213" stop-color="#ff3e00"/><stop offset="0.244" stop-color="#ff0200"/><stop offset="0.309" stop-color="#817f7f"/><stop offset="0.384" stop-color="#3ac5c5"/><stop offset="0.402" stop-color="#03fcfc"/><stop offset="0.404" stop-color="#00f9fc"/><stop offset="0.427" stop-color="#009ac3"/><stop offset="0.438" stop-color="#006aa5"/><stop offset="0.464" stop-color="#00326e"/><stop offset="0.489" stop-color="#001637"/><stop offset="0.5" stop-color="#001029"/><stop offset="0.504" stop-color="#001638"/><stop offset="0.511" stop-color="#002762"/><stop offset="0.527" stop-color="#0066a2"/><stop offset="0.536" stop-color="#00a8cb"/><stop offset="0.544" stop-color="#00cde1"/><stop offset="0.558" stop-color="#00edf4"/><stop offset="0.598" stop-color="#01fefe"/><stop offset="0.633" stop-color="#2ed1d1"/><stop offset="0.742" stop-color="#d72929"/><stop offset="0.773" stop-color="#ff0100"/><stop offset="0.884" stop-color="#ff8c00"/><stop offset="1" stop-color="#ffc700"/></linearGradient>
<linearGradient id="e70" gradientUnits="userSpaceOnUse" x1="0" y1="158.1" x2="0" y2="609.0"><stop offset="0" stop-color="#ffed00"/><stop offset="0.064" stop-color="#ffd900"/><stop offset="0.116" stop-color="#ffb300"/><stop offset="0.202" stop-color="#ff5400"/><stop offset="0.242" stop-color="#ff0200"/><stop offset="0.302" stop-color="#897676"/><stop offset="0.384" stop-color="#3ac6c6"/><stop offset="0.404" stop-color="#03fcfc"/><stop offset="0.427" stop-color="#00aece"/><stop offset="0.442" stop-color="#0067a3"/><stop offset="0.462" stop-color="#003c78"/><stop offset="0.489" stop-color="#001739"/><stop offset="0.5" stop-color="#00112b"/><stop offset="0.504" stop-color="#00183b"/><stop offset="0.511" stop-color="#002a66"/><stop offset="0.527" stop-color="#006aa5"/><stop offset="0.533" stop-color="#00a0c6"/><stop offset="0.538" stop-color="#00b9d5"/><stop offset="0.556" stop-color="#00eff5"/><stop offset="0.576" stop-color="#0ff"/><stop offset="0.584" stop-color="#04fbfb"/><stop offset="0.607" stop-color="#19e7e7"/><stop offset="0.704" stop-color="#b24e4e"/><stop offset="0.767" stop-color="#ff0100"/><stop offset="0.891" stop-color="#ff8900"/><stop offset="1" stop-color="#fb0"/></linearGradient>
<linearGradient id="e71" gradientUnits="userSpaceOnUse" x1="0" y1="158.1" x2="0" y2="609.0"><stop offset="0" stop-color="#fff600"/><stop offset="0.067" stop-color="#ffea00"/><stop offset="0.118" stop-color="#ffd400"/><stop offset="0.2" stop-color="#ff5f00"/><stop offset="0.242" stop-color="#fd0202"/><stop offset="0.302" stop-color="#877979"/><stop offset="0.384" stop-color="#37c8c8"/><stop offset="0.409" stop-color="#02fdfd"/><stop offset="0.42" stop-color="#00e4ef"/><stop offset="0.427" stop-color="#00cadf"/><stop offset="0.447" stop-color="#0068a4"/><stop offset="0.473" stop-color="#002a66"/><stop offset="0.493" stop-color="#001432"/><stop offset="0.502" stop-color="#001535"/><stop offset="0.509" stop-color="#00255d"/><stop offset="0.524" stop-color="#0065a1"/><stop offset="0.536" stop-color="#00b4d2"/><stop offset="0.549" stop-color="#00e2ee"/><stop offset="0.567" stop-color="#0ff"/><stop offset="0.604" stop-color="#25dada"/><stop offset="0.698" stop-color="#c53b3b"/><stop offset="0.749" stop-color="#ff0100"/><stop offset="0.889" stop-color="#ff8100"/><stop offset="1" stop-color="#fa0"/></linearGradient>
<linearGradient id="e72" gradientUnits="userSpaceOnUse" x1="0" y1="158.1" x2="0" y2="609.0"><stop offset="0" stop-color="#fffe00"/><stop offset="0.118" stop-color="#fff700"/><stop offset="0.198" stop-color="#ff6c00"/><stop offset="0.24" stop-color="#fe0101"/><stop offset="0.287" stop-color="#9e6161"/><stop offset="0.307" stop-color="#7e8282"/><stop offset="0.382" stop-color="#37c8c8"/><stop offset="0.42" stop-color="#0ff"/><stop offset="0.427" stop-color="#00e7f1"/><stop offset="0.451" stop-color="#0067a3"/><stop offset="0.476" stop-color="#002a66"/><stop offset="0.489" stop-color="#00183d"/><stop offset="0.496" stop-color="#001432"/><stop offset="0.502" stop-color="#001739"/><stop offset="0.509" stop-color="#002763"/><stop offset="0.524" stop-color="#0069a5"/><stop offset="0.536" stop-color="#00bad6"/><stop offset="0.547" stop-color="#00deeb"/><stop offset="0.562" stop-color="#00fefe"/><stop offset="0.616" stop-color="#46b9b9"/><stop offset="0.682" stop-color="#c83737"/><stop offset="0.722" stop-color="#f00"/><stop offset="0.889" stop-color="#ff7b00"/><stop offset="0.944" stop-color="#ff9100"/><stop offset="1" stop-color="#f90"/></linearGradient>
<linearGradient id="e73" gradientUnits="userSpaceOnUse" x1="0" y1="158.1" x2="0" y2="609.0"><stop offset="0" stop-color="#ffec00"/><stop offset="0.084" stop-color="#ffe000"/><stop offset="0.118" stop-color="#ffd300"/><stop offset="0.198" stop-color="#f50"/><stop offset="0.236" stop-color="#f00"/><stop offset="0.3" stop-color="#8c7474"/><stop offset="0.327" stop-color="#728e8e"/><stop offset="0.378" stop-color="#5aa"/><stop offset="0.427" stop-color="#00fafc"/><stop offset="0.442" stop-color="#00b3d2"/><stop offset="0.456" stop-color="#0068a4"/><stop offset="0.48" stop-color="#002965"/><stop offset="0.493" stop-color="#001739"/><stop offset="0.498" stop-color="#001432"/><stop offset="0.502" stop-color="#001637"/><stop offset="0.509" stop-color="#00265f"/><stop offset="0.516" stop-color="#004884"/><stop offset="0.524" stop-color="#0069a5"/><stop offset="0.536" stop-color="#00b8d5"/><stop offset="0.547" stop-color="#00deeb"/><stop offset="0.564" stop-color="#0ff"/><stop offset="0.602" stop-color="#37c9c9"/><stop offset="0.662" stop-color="#ba4545"/><stop offset="0.704" stop-color="#fe0101"/><stop offset="0.749" stop-color="#ff2c00"/><stop offset="0.878" stop-color="#ff7900"/><stop offset="0.936" stop-color="#ff8c00"/><stop offset="1" stop-color="#ff9400"/></linearGradient>
<linearGradient id="e74" gradientUnits="userSpaceOnUse" x1="0" y1="158.1" x2="0" y2="609.0"><stop offset="0" stop-color="#ffd700"/><stop offset="0.06" stop-color="#ffc800"/><stop offset="0.113" stop-color="#ffac00"/><stop offset="0.189" stop-color="#ff4900"/><stop offset="0.231" stop-color="#fe0101"/><stop offset="0.273" stop-color="#b44c4c"/><stop offset="0.307" stop-color="#8a7676"/><stop offset="0.331" stop-color="#788787"/><stop offset="0.369" stop-color="#778989"/><stop offset="0.38" stop-color="#6f9191"/><stop offset="0.431" stop-color="#00fefe"/><stop offset="0.436" stop-color="#00f0f6"/><stop offset="0.442" stop-color="#00d4e5"/><stop offset="0.46" stop-color="#0067a3"/><stop offset="0.484" stop-color="#002762"/><stop offset="0.498" stop-color="#001432"/><stop offset="0.504" stop-color="#00183c"/><stop offset="0.509" stop-color="#00255b"/><stop offset="0.516" stop-color="#004884"/><stop offset="0.524" stop-color="#0068a4"/><stop offset="0.536" stop-color="#00b6d3"/><stop offset="0.547" stop-color="#00ddeb"/><stop offset="0.567" stop-color="#0ff"/><stop offset="0.602" stop-color="#3ac5c5"/><stop offset="0.66" stop-color="#c33"/><stop offset="0.693" stop-color="#f00"/><stop offset="0.716" stop-color="#ff2300"/><stop offset="0.736" stop-color="#ff3600"/><stop offset="0.818" stop-color="#ff6800"/><stop offset="0.896" stop-color="#ff8300"/><stop offset="1" stop-color="#ff8f00"/></linearGradient>
<linearGradient id="e75" gradientUnits="userSpaceOnUse" x1="0" y1="158.1" x2="0" y2="609.0"><stop offset="0" stop-color="#ffb800"/><stop offset="0.044" stop-color="#ffab00"/><stop offset="0.098" stop-color="#ff8d00"/><stop offset="0.22" stop-color="#f00"/><stop offset="0.273" stop-color="#b05050"/><stop offset="0.313" stop-color="#897676"/><stop offset="0.336" stop-color="#808080"/><stop offset="0.378" stop-color="#877979"/><stop offset="0.438" stop-color="#03fcfc"/><stop offset="0.44" stop-color="#00fafc"/><stop offset="0.444" stop-color="#00e2ee"/><stop offset="0.462" stop-color="#0068a4"/><stop offset="0.487" stop-color="#002864"/><stop offset="0.498" stop-color="#001433"/><stop offset="0.504" stop-color="#001738"/><stop offset="0.509" stop-color="#002358"/><stop offset="0.516" stop-color="#004783"/><stop offset="0.524" stop-color="#0068a4"/><stop offset="0.538" stop-color="#00c0d9"/><stop offset="0.547" stop-color="#00dcea"/><stop offset="0.567" stop-color="#00fdfe"/><stop offset="0.6" stop-color="#39c7c7"/><stop offset="0.653" stop-color="#d32c2c"/><stop offset="0.68" stop-color="#fe0101"/><stop offset="0.731" stop-color="#ff4500"/><stop offset="0.807" stop-color="#ff7300"/><stop offset="0.884" stop-color="#ff8500"/><stop offset="1" stop-color="#ff8d00"/></linearGradient>
<linearGradient id="e76" gradientUnits="userSpaceOnUse" x1="0" y1="158.1" x2="0" y2="609.0"><stop offset="0" stop-color="#ff6400"/><stop offset="0.118" stop-color="#f30"/><stop offset="0.18" stop-color="#f00"/><stop offset="0.311" stop-color="#897777"/><stop offset="0.331" stop-color="#808080"/><stop offset="0.376" stop-color="#817f7f"/><stop offset="0.438" stop-color="#02fdfd"/><stop offset="0.44" stop-color="#00fbfc"/><stop offset="0.444" stop-color="#00e3ee"/><stop offset="0.462" stop-color="#0068a4"/><stop offset="0.487" stop-color="#002864"/><stop offset="0.498" stop-color="#001433"/><stop offset="0.504" stop-color="#001738"/><stop offset="0.509" stop-color="#002358"/><stop offset="0.516" stop-color="#004783"/><stop offset="0.524" stop-color="#0068a4"/><stop offset="0.538" stop-color="#00c0d9"/><stop offset="0.547" stop-color="#00dcea"/><stop offset="0.567" stop-color="#00fdfe"/><stop offset="0.582" stop-color="#1ae5e5"/><stop offset="0.604" stop-color="#4cb3b3"/><stop offset="0.633" stop-color="#a25e5e"/><stop offset="0.653" stop-color="#e81717"/><stop offset="0.664" stop-color="#f00"/><stop offset="0.731" stop-color="#ff4d00"/><stop offset="0.807" stop-color="#ff7c00"/><stop offset="0.871" stop-color="#ff8c00"/><stop offset="1" stop-color="#ff9400"/></linearGradient>
<linearGradient id="e77" gradientUnits="userSpaceOnUse" x1="0" y1="158.1" x2="0" y2="609.0"><stop offset="0" stop-color="#f20"/><stop offset="0.087" stop-color="#f00"/><stop offset="0.136" stop-color="#ed1212"/><stop offset="0.309" stop-color="#827e7e"/><stop offset="0.373" stop-color="#689898"/><stop offset="0.387" stop-color="#56aaaa"/><stop offset="0.429" stop-color="#0ff"/><stop offset="0.436" stop-color="#00edf4"/><stop offset="0.444" stop-color="#00c9df"/><stop offset="0.46" stop-color="#006aa6"/><stop offset="0.484" stop-color="#002b67"/><stop offset="0.498" stop-color="#001534"/><stop offset="0.5" stop-color="#001432"/><stop offset="0.504" stop-color="#00183c"/><stop offset="0.509" stop-color="#00245b"/><stop offset="0.516" stop-color="#004581"/><stop offset="0.524" stop-color="#0065a1"/><stop offset="0.538" stop-color="#00b9d5"/><stop offset="0.547" stop-color="#00d7e7"/><stop offset="0.567" stop-color="#00fdfe"/><stop offset="0.584" stop-color="#1fe0e0"/><stop offset="0.609" stop-color="#56a9a9"/><stop offset="0.636" stop-color="#a35d5d"/><stop offset="0.656" stop-color="#e81717"/><stop offset="0.664" stop-color="#fd0202"/><stop offset="0.74" stop-color="#ff5400"/><stop offset="0.82" stop-color="#ff8600"/><stop offset="0.9" stop-color="#f90"/><stop offset="1" stop-color="#ffa000"/></linearGradient>
<linearGradient id="e78" gradientUnits="userSpaceOnUse" x1="0" y1="158.1" x2="0" y2="609.0"><stop offset="0" stop-color="#f50a0a"/><stop offset="0.198" stop-color="#966a6a"/><stop offset="0.329" stop-color="#639d9d"/><stop offset="0.376" stop-color="#3ac5c5"/><stop offset="0.418" stop-color="#01fefe"/><stop offset="0.427" stop-color="#00e8f1"/><stop offset="0.458" stop-color="#0065a1"/><stop offset="0.478" stop-color="#00336f"/><stop offset="0.489" stop-color="#002357"/><stop offset="0.5" stop-color="#001433"/><stop offset="0.504" stop-color="#001b43"/><stop offset="0.509" stop-color="#00265e"/><stop offset="0.527" stop-color="#0066a2"/><stop offset="0.538" stop-color="#00accd"/><stop offset="0.549" stop-color="#00d5e6"/><stop offset="0.567" stop-color="#00fbfd"/><stop offset="0.569" stop-color="#01fefe"/><stop offset="0.609" stop-color="#4ab6b6"/><stop offset="0.64" stop-color="#986767"/><stop offset="0.667" stop-color="#e71818"/><stop offset="0.68" stop-color="#ff0100"/><stop offset="0.744" stop-color="#ff4b00"/><stop offset="0.831" stop-color="#ff8c00"/><stop offset="0.92" stop-color="#ffa700"/><stop offset="1" stop-color="#ffb100"/></linearGradient>
<linearGradient id="e79" gradientUnits="userSpaceOnUse" x1="0" y1="158.1" x2="0" y2="609.0"><stop offset="0" stop-color="#b44c4c"/><stop offset="0.147" stop-color="#748c8c"/><stop offset="0.333" stop-color="#31cece"/><stop offset="0.378" stop-color="#19e7e7"/><stop offset="0.404" stop-color="#00feff"/><stop offset="0.429" stop-color="#00c3db"/><stop offset="0.456" stop-color="#0065a1"/><stop offset="0.489" stop-color="#002762"/><stop offset="0.5" stop-color="#001433"/><stop offset="0.509" stop-color="#00245a"/><stop offset="0.516" stop-color="#003d79"/><stop offset="0.529" stop-color="#0068a4"/><stop offset="0.54" stop-color="#00accd"/><stop offset="0.551" stop-color="#00d1e3"/><stop offset="0.571" stop-color="#00fdfe"/><stop offset="0.611" stop-color="#3cc3c3"/><stop offset="0.678" stop-color="#c63939"/><stop offset="0.713" stop-color="#f00"/><stop offset="0.78" stop-color="#ff4e00"/><stop offset="0.851" stop-color="#ff8c00"/><stop offset="0.927" stop-color="#ffaf00"/><stop offset="1" stop-color="#ffc200"/></linearGradient>
<linearGradient id="e80" gradientUnits="userSpaceOnUse" x1="0" y1="158.1" x2="0" y2="609.0"><stop offset="0" stop-color="#907070"/><stop offset="0.24" stop-color="#1ee1e1"/><stop offset="0.34" stop-color="#0ff0f0"/><stop offset="0.382" stop-color="#0ff"/><stop offset="0.4" stop-color="#00ebf3"/><stop offset="0.422" stop-color="#00bad6"/><stop offset="0.449" stop-color="#006aa6"/><stop offset="0.484" stop-color="#002e6a"/><stop offset="0.5" stop-color="#00122d"/><stop offset="0.507" stop-color="#00183d"/><stop offset="0.513" stop-color="#00265f"/><stop offset="0.536" stop-color="#0068a4"/><stop offset="0.542" stop-color="#0087b7"/><stop offset="0.56" stop-color="#00c4dc"/><stop offset="0.584" stop-color="#00fefe"/><stop offset="0.62" stop-color="#39c7c7"/><stop offset="0.691" stop-color="#bf4141"/><stop offset="0.733" stop-color="#fe0101"/><stop offset="0.807" stop-color="#ff5a00"/><stop offset="0.858" stop-color="#ff8b00"/><stop offset="0.931" stop-color="#ffb300"/><stop offset="1" stop-color="#fc0"/></linearGradient>
<linearGradient id="e81" gradientUnits="userSpaceOnUse" x1="0" y1="158.1" x2="0" y2="609.0"><stop offset="0" stop-color="#768a8a"/><stop offset="0.182" stop-color="#1de2e2"/><stop offset="0.222" stop-color="#0ff"/><stop offset="0.244" stop-color="#00e8f1"/><stop offset="0.351" stop-color="#00dae9"/><stop offset="0.393" stop-color="#00c7dd"/><stop offset="0.422" stop-color="#0095c0"/><stop offset="0.442" stop-color="#0068a4"/><stop offset="0.482" stop-color="#002e6a"/><stop offset="0.489" stop-color="#002357"/><stop offset="0.498" stop-color="#000e24"/><stop offset="0.5" stop-color="#000e23"/><stop offset="0.509" stop-color="#001331"/><stop offset="0.52" stop-color="#002864"/><stop offset="0.538" stop-color="#005591"/><stop offset="0.549" stop-color="#006aa6"/><stop offset="0.571" stop-color="#00b3d1"/><stop offset="0.602" stop-color="#00fcfd"/><stop offset="0.689" stop-color="#a15f5f"/><stop offset="0.751" stop-color="#fe0101"/><stop offset="0.822" stop-color="#ff5d00"/><stop offset="0.867" stop-color="#ff8c00"/><stop offset="0.933" stop-color="#ffb800"/><stop offset="1" stop-color="#ffd700"/></linearGradient>
<linearGradient id="e82" gradientUnits="userSpaceOnUse" x1="0" y1="158.1" x2="0" y2="609.0"><stop offset="0" stop-color="#5fa1a1"/><stop offset="0.184" stop-color="#0ff"/><stop offset="0.211" stop-color="#00e7f1"/><stop offset="0.242" stop-color="#00b4d2"/><stop offset="0.264" stop-color="#00a2c7"/><stop offset="0.382" stop-color="#007db1"/><stop offset="0.44" stop-color="#005d99"/><stop offset="0.482" stop-color="#002965"/><stop offset="0.491" stop-color="#001d49"/><stop offset="0.498" stop-color="#000a19"/><stop offset="0.5" stop-color="#000917"/><stop offset="0.513" stop-color="#001028"/><stop offset="0.527" stop-color="#002864"/><stop offset="0.567" stop-color="#0068a4"/><stop offset="0.602" stop-color="#00c9df"/><stop offset="0.616" stop-color="#00fcfd"/><stop offset="0.718" stop-color="#b84848"/><stop offset="0.771" stop-color="#ff0100"/><stop offset="0.876" stop-color="#ff8d00"/><stop offset="0.933" stop-color="#ffc100"/><stop offset="1" stop-color="#ffe500"/></linearGradient>
<linearGradient id="e83" gradientUnits="userSpaceOnUse" x1="0" y1="158.1" x2="0" y2="609.0"><stop offset="0" stop-color="#54acac"/><stop offset="0.08" stop-color="#36c9c9"/><stop offset="0.173" stop-color="#0ff"/><stop offset="0.211" stop-color="#00d0e3"/><stop offset="0.242" stop-color="#0099c2"/><stop offset="0.271" stop-color="#0080b3"/><stop offset="0.44" stop-color="#005793"/><stop offset="0.48" stop-color="#002864"/><stop offset="0.491" stop-color="#001b44"/><stop offset="0.498" stop-color="#000711"/><stop offset="0.5" stop-color="#00060f"/><stop offset="0.513" stop-color="#000b1d"/><stop offset="0.522" stop-color="#001c46"/><stop offset="0.533" stop-color="#002965"/><stop offset="0.58" stop-color="#0069a5"/><stop offset="0.607" stop-color="#00b6d3"/><stop offset="0.622" stop-color="#00f8fb"/><stop offset="0.624" stop-color="#01fefe"/><stop offset="0.722" stop-color="#b64949"/><stop offset="0.78" stop-color="#ff0100"/><stop offset="0.882" stop-color="#ff8e00"/><stop offset="0.942" stop-color="#ffcb00"/><stop offset="1" stop-color="#fff300"/></linearGradient>
<linearGradient id="e84" gradientUnits="userSpaceOnUse" x1="0" y1="158.1" x2="0" y2="609.0"><stop offset="0" stop-color="#4fb1b1"/><stop offset="0.104" stop-color="#31cece"/><stop offset="0.178" stop-color="#00fdfe"/><stop offset="0.238" stop-color="#0097c0"/><stop offset="0.273" stop-color="#0073ab"/><stop offset="0.398" stop-color="#00629e"/><stop offset="0.442" stop-color="#00528e"/><stop offset="0.482" stop-color="#00245a"/><stop offset="0.491" stop-color="#00193f"/><stop offset="0.498" stop-color="#00050d"/><stop offset="0.5" stop-color="#00040b"/><stop offset="0.513" stop-color="#000918"/><stop offset="0.522" stop-color="#00183d"/><stop offset="0.538" stop-color="#002864"/><stop offset="0.587" stop-color="#0068a4"/><stop offset="0.611" stop-color="#00aece"/><stop offset="0.629" stop-color="#0ff"/><stop offset="0.66" stop-color="#35caca"/><stop offset="0.691" stop-color="#7a8686"/><stop offset="0.722" stop-color="#b24d4d"/><stop offset="0.784" stop-color="#fe0101"/><stop offset="0.922" stop-color="#ffb600"/><stop offset="1" stop-color="#ff0"/></linearGradient>
<linearGradient id="e85" gradientUnits="userSpaceOnUse" x1="0" y1="158.1" x2="0" y2="609.0"><stop offset="0" stop-color="#5ca4a4"/><stop offset="0.122" stop-color="#36c9c9"/><stop offset="0.171" stop-color="#1be4e4"/><stop offset="0.202" stop-color="#00feff"/><stop offset="0.262" stop-color="#00a5c9"/><stop offset="0.284" stop-color="#0090bd"/><stop offset="0.344" stop-color="#0073ab"/><stop offset="0.413" stop-color="#0064a0"/><stop offset="0.442" stop-color="#005692"/><stop offset="0.48" stop-color="#002863"/><stop offset="0.491" stop-color="#001b44"/><stop offset="0.498" stop-color="#000712"/><stop offset="0.502" stop-color="#000711"/><stop offset="0.513" stop-color="#000c1d"/><stop offset="0.522" stop-color="#001c47"/><stop offset="0.533" stop-color="#002a66"/><stop offset="0.578" stop-color="#0068a4"/><stop offset="0.611" stop-color="#00b9d5"/><stop offset="0.631" stop-color="#00fbfd"/><stop offset="0.66" stop-color="#30d0d0"/><stop offset="0.691" stop-color="#7a8686"/><stop offset="0.718" stop-color="#aa5656"/><stop offset="0.749" stop-color="#d42b2b"/><stop offset="0.791" stop-color="#ff0100"/><stop offset="0.936" stop-color="#ffc500"/><stop offset="1" stop-color="#ff0"/></linearGradient>
<linearGradient id="e86" gradientUnits="userSpaceOnUse" x1="0" y1="158.1" x2="0" y2="609.0"><stop offset="0" stop-color="#6d9292"/><stop offset="0.069" stop-color="#5da3a3"/><stop offset="0.151" stop-color="#3bc4c4"/><stop offset="0.204" stop-color="#1ee1e1"/><stop offset="0.238" stop-color="#01fefe"/><stop offset="0.264" stop-color="#00cfe2"/><stop offset="0.298" stop-color="#00adce"/><stop offset="0.351" stop-color="#008cba"/><stop offset="0.413" stop-color="#0078ae"/><stop offset="0.444" stop-color="#005d99"/><stop offset="0.482" stop-color="#002965"/><stop offset="0.491" stop-color="#001d48"/><stop offset="0.498" stop-color="#000a18"/><stop offset="0.5" stop-color="#000917"/><stop offset="0.513" stop-color="#001028"/><stop offset="0.527" stop-color="#002763"/><stop offset="0.538" stop-color="#003d79"/><stop offset="0.569" stop-color="#006ca7"/><stop offset="0.631" stop-color="#00feff"/><stop offset="0.662" stop-color="#39c7c7"/><stop offset="0.691" stop-color="#7e8282"/><stop offset="0.709" stop-color="#9c6464"/><stop offset="0.747" stop-color="#ce3131"/><stop offset="0.796" stop-color="#f00"/><stop offset="0.938" stop-color="#ffc500"/><stop offset="1" stop-color="#fffb00"/></linearGradient>
<linearGradient id="e87" gradientUnits="userSpaceOnUse" x1="0" y1="158.1" x2="0" y2="609.0"><stop offset="0" stop-color="#8f7171"/><stop offset="0.127" stop-color="#679999"/><stop offset="0.271" stop-color="#0ff"/><stop offset="0.336" stop-color="#00ddeb"/><stop offset="0.422" stop-color="#00c0d9"/><stop offset="0.442" stop-color="#0092be"/><stop offset="0.456" stop-color="#0066a2"/><stop offset="0.482" stop-color="#00336f"/><stop offset="0.487" stop-color="#00265f"/><stop offset="0.498" stop-color="#000d22"/><stop offset="0.502" stop-color="#001535"/><stop offset="0.513" stop-color="#001c47"/><stop offset="0.52" stop-color="#00255d"/><stop offset="0.54" stop-color="#005591"/><stop offset="0.551" stop-color="#0068a4"/><stop offset="0.573" stop-color="#00adce"/><stop offset="0.607" stop-color="#00fbfd"/><stop offset="0.609" stop-color="#01fefe"/><stop offset="0.64" stop-color="#3ec2c2"/><stop offset="0.691" stop-color="#8f7171"/><stop offset="0.798" stop-color="#f00"/><stop offset="0.896" stop-color="#ff8c00"/><stop offset="0.947" stop-color="#ffc300"/><stop offset="1" stop-color="#ffe900"/></linearGradient>
<linearGradient id="e88" gradientUnits="userSpaceOnUse" x1="0" y1="158.1" x2="0" y2="609.0"><stop offset="0" stop-color="#a85858"/><stop offset="0.116" stop-color="#867a7a"/><stop offset="0.182" stop-color="#50b0b0"/><stop offset="0.253" stop-color="#2bd5d5"/><stop offset="0.418" stop-color="#0ff"/><stop offset="0.427" stop-color="#00f1f7"/><stop offset="0.44" stop-color="#00cee1"/><stop offset="0.462" stop-color="#006ba6"/><stop offset="0.48" stop-color="#00427e"/><stop offset="0.487" stop-color="#002b67"/><stop offset="0.493" stop-color="#00173a"/><stop offset="0.498" stop-color="#001029"/><stop offset="0.504" stop-color="#001f4d"/><stop offset="0.522" stop-color="#003470"/><stop offset="0.54" stop-color="#0067a3"/><stop offset="0.556" stop-color="#00a4c9"/><stop offset="0.589" stop-color="#0ff"/><stop offset="0.622" stop-color="#47b9b9"/><stop offset="0.658" stop-color="#7c8484"/><stop offset="0.8" stop-color="#fe0101"/><stop offset="0.898" stop-color="#ff8c00"/><stop offset="0.951" stop-color="#ffba00"/><stop offset="1" stop-color="#ffd600"/></linearGradient>
<linearGradient id="e89" gradientUnits="userSpaceOnUse" x1="0" y1="158.1" x2="0" y2="609.0"><stop offset="0" stop-color="#ae5252"/><stop offset="0.116" stop-color="#8b7474"/><stop offset="0.182" stop-color="#5aa"/><stop offset="0.251" stop-color="#31cece"/><stop offset="0.42" stop-color="#01fefe"/><stop offset="0.438" stop-color="#00eaf2"/><stop offset="0.451" stop-color="#00bad6"/><stop offset="0.467" stop-color="#0068a4"/><stop offset="0.487" stop-color="#003470"/><stop offset="0.498" stop-color="#001029"/><stop offset="0.507" stop-color="#002051"/><stop offset="0.522" stop-color="#003d79"/><stop offset="0.536" stop-color="#0067a3"/><stop offset="0.549" stop-color="#00a6ca"/><stop offset="0.576" stop-color="#00fcfd"/><stop offset="0.616" stop-color="#59a7a7"/><stop offset="0.633" stop-color="#728e8e"/><stop offset="0.802" stop-color="#f00"/><stop offset="0.904" stop-color="#ff8d00"/><stop offset="0.958" stop-color="#ffb100"/><stop offset="1" stop-color="#ffc100"/></linearGradient>
<linearGradient id="e90" gradientUnits="userSpaceOnUse" x1="0" y1="158.1" x2="0" y2="609.0"><stop offset="0" stop-color="#b24d4d"/><stop offset="0.116" stop-color="#907070"/><stop offset="0.182" stop-color="#5aa6a6"/><stop offset="0.251" stop-color="#36c9c9"/><stop offset="0.427" stop-color="#0ff"/><stop offset="0.442" stop-color="#00f0f6"/><stop offset="0.456" stop-color="#00b7d4"/><stop offset="0.469" stop-color="#0068a4"/><stop offset="0.484" stop-color="#00427e"/><stop offset="0.489" stop-color="#00306c"/><stop offset="0.496" stop-color="#001534"/><stop offset="0.498" stop-color="#001029"/><stop offset="0.5" stop-color="#00112b"/><stop offset="0.509" stop-color="#002459"/><stop offset="0.522" stop-color="#004480"/><stop offset="0.533" stop-color="#006ca7"/><stop offset="0.544" stop-color="#00abcc"/><stop offset="0.556" stop-color="#00d9e8"/><stop offset="0.567" stop-color="#00fbfd"/><stop offset="0.569" stop-color="#02fdfd"/><stop offset="0.609" stop-color="#669a9a"/><stop offset="0.622" stop-color="#7e8282"/><stop offset="0.698" stop-color="#a85757"/><stop offset="0.804" stop-color="#fe0101"/><stop offset="0.907" stop-color="#f80"/><stop offset="0.96" stop-color="#ffa600"/><stop offset="1" stop-color="#ffae00"/></linearGradient>
<linearGradient id="e91" gradientUnits="userSpaceOnUse" x1="0" y1="158.1" x2="0" y2="609.0"><stop offset="0" stop-color="#ac5353"/><stop offset="0.089" stop-color="#936d6d"/><stop offset="0.182" stop-color="#51afaf"/><stop offset="0.233" stop-color="#38c8c8"/><stop offset="0.407" stop-color="#01fefe"/><stop offset="0.433" stop-color="#00deeb"/><stop offset="0.444" stop-color="#00c2da"/><stop offset="0.464" stop-color="#0069a5"/><stop offset="0.484" stop-color="#003a76"/><stop offset="0.489" stop-color="#002864"/><stop offset="0.493" stop-color="#001940"/><stop offset="0.498" stop-color="#001029"/><stop offset="0.507" stop-color="#025"/><stop offset="0.522" stop-color="#004480"/><stop offset="0.533" stop-color="#006ca7"/><stop offset="0.551" stop-color="#00c9de"/><stop offset="0.569" stop-color="#0ff"/><stop offset="0.611" stop-color="#649c9c"/><stop offset="0.629" stop-color="#808080"/><stop offset="0.702" stop-color="#a85757"/><stop offset="0.809" stop-color="#fe0101"/><stop offset="0.911" stop-color="#ff8700"/><stop offset="0.96" stop-color="#ffa400"/><stop offset="1" stop-color="#ffae00"/></linearGradient>
<linearGradient id="e92" gradientUnits="userSpaceOnUse" x1="0" y1="158.1" x2="0" y2="609.0"><stop offset="0" stop-color="#a75959"/><stop offset="0.076" stop-color="#926d6d"/><stop offset="0.216" stop-color="#38c7c7"/><stop offset="0.309" stop-color="#14ebeb"/><stop offset="0.402" stop-color="#0ff"/><stop offset="0.413" stop-color="#00f0f6"/><stop offset="0.433" stop-color="#00c0d9"/><stop offset="0.458" stop-color="#0068a4"/><stop offset="0.48" stop-color="#00407c"/><stop offset="0.487" stop-color="#002a66"/><stop offset="0.493" stop-color="#001739"/><stop offset="0.498" stop-color="#001029"/><stop offset="0.504" stop-color="#002152"/><stop offset="0.522" stop-color="#00437f"/><stop offset="0.533" stop-color="#006ba6"/><stop offset="0.551" stop-color="#00c9df"/><stop offset="0.569" stop-color="#00fcfd"/><stop offset="0.613" stop-color="#619f9f"/><stop offset="0.631" stop-color="#7e8282"/><stop offset="0.707" stop-color="#a85858"/><stop offset="0.813" stop-color="#fe0101"/><stop offset="0.916" stop-color="#f80"/><stop offset="0.962" stop-color="#ffa400"/><stop offset="1" stop-color="#ffae00"/></linearGradient>
<linearGradient id="e93" gradientUnits="userSpaceOnUse" x1="0" y1="158.1" x2="0" y2="609.0"><stop offset="0" stop-color="#b14f4f"/><stop offset="0.069" stop-color="#996767"/><stop offset="0.196" stop-color="#3fc1c1"/><stop offset="0.32" stop-color="#0ff"/><stop offset="0.402" stop-color="#00cce0"/><stop offset="0.422" stop-color="#00adce"/><stop offset="0.449" stop-color="#0069a5"/><stop offset="0.482" stop-color="#003571"/><stop offset="0.487" stop-color="#002864"/><stop offset="0.498" stop-color="#000f25"/><stop offset="0.513" stop-color="#002153"/><stop offset="0.516" stop-color="#002761"/><stop offset="0.538" stop-color="#0068a4"/><stop offset="0.553" stop-color="#00aece"/><stop offset="0.58" stop-color="#0ff"/><stop offset="0.62" stop-color="#58a8a8"/><stop offset="0.644" stop-color="#7a8686"/><stop offset="0.82" stop-color="#fe0101"/><stop offset="0.922" stop-color="#ff7b00"/><stop offset="0.96" stop-color="#ff9600"/><stop offset="1" stop-color="#ffa500"/></linearGradient>
<linearGradient id="e94" gradientUnits="userSpaceOnUse" x1="0" y1="158.1" x2="0" y2="609.0"><stop offset="0" stop-color="#bc4343"/><stop offset="0.067" stop-color="#9f6161"/><stop offset="0.218" stop-color="#2cd3d3"/><stop offset="0.3" stop-color="#0ff"/><stop offset="0.411" stop-color="#008ab9"/><stop offset="0.447" stop-color="#005d99"/><stop offset="0.484" stop-color="#002b67"/><stop offset="0.491" stop-color="#002051"/><stop offset="0.498" stop-color="#000d21"/><stop offset="0.5" stop-color="#000d21"/><stop offset="0.511" stop-color="#00132f"/><stop offset="0.52" stop-color="#002d69"/><stop offset="0.547" stop-color="#0069a5"/><stop offset="0.564" stop-color="#00b1d0"/><stop offset="0.589" stop-color="#00fcfd"/><stop offset="0.627" stop-color="#4db3b3"/><stop offset="0.662" stop-color="#817f7f"/><stop offset="0.776" stop-color="#df2020"/><stop offset="0.831" stop-color="#f00"/><stop offset="0.931" stop-color="#ff7100"/><stop offset="0.967" stop-color="#ff8d00"/><stop offset="1" stop-color="#ff9a00"/></linearGradient>
<linearGradient id="e95" gradientUnits="userSpaceOnUse" x1="0" y1="158.1" x2="0" y2="609.0"><stop offset="0" stop-color="#d42b2b"/><stop offset="0.076" stop-color="#ae5151"/><stop offset="0.26" stop-color="#00feff"/><stop offset="0.416" stop-color="#006aa6"/><stop offset="0.444" stop-color="#005894"/><stop offset="0.484" stop-color="#002a66"/><stop offset="0.491" stop-color="#002152"/><stop offset="0.498" stop-color="#000d20"/><stop offset="0.507" stop-color="#000d22"/><stop offset="0.513" stop-color="#001330"/><stop offset="0.518" stop-color="#002459"/><stop offset="0.524" stop-color="#003470"/><stop offset="0.553" stop-color="#0069a5"/><stop offset="0.573" stop-color="#00adce"/><stop offset="0.602" stop-color="#00fbfd"/><stop offset="0.604" stop-color="#02fdfd"/><stop offset="0.647" stop-color="#55abab"/><stop offset="0.682" stop-color="#837d7d"/><stop offset="0.78" stop-color="#d72828"/><stop offset="0.844" stop-color="#f00"/><stop offset="0.947" stop-color="#ff6800"/><stop offset="1" stop-color="#ff8c00"/></linearGradient>
<linearGradient id="e96" gradientUnits="userSpaceOnUse" x1="0" y1="158.1" x2="0" y2="609.0"><stop offset="0" stop-color="#f10e0e"/><stop offset="0.044" stop-color="#e02020"/><stop offset="0.082" stop-color="#c33c3c"/><stop offset="0.151" stop-color="#768a8a"/><stop offset="0.24" stop-color="#0ff"/><stop offset="0.324" stop-color="#009bc3"/><stop offset="0.447" stop-color="#00518d"/><stop offset="0.484" stop-color="#002965"/><stop offset="0.491" stop-color="#002152"/><stop offset="0.498" stop-color="#000d20"/><stop offset="0.507" stop-color="#000d22"/><stop offset="0.513" stop-color="#00132f"/><stop offset="0.518" stop-color="#002254"/><stop offset="0.527" stop-color="#00336f"/><stop offset="0.562" stop-color="#006aa5"/><stop offset="0.616" stop-color="#00fafc"/><stop offset="0.618" stop-color="#01fefe"/><stop offset="0.658" stop-color="#4bb4b4"/><stop offset="0.702" stop-color="#867a7a"/><stop offset="0.804" stop-color="#dc2424"/><stop offset="0.862" stop-color="#f00"/><stop offset="0.96" stop-color="#ff5d00"/><stop offset="1" stop-color="#ff7900"/></linearGradient>
<linearGradient id="e97" gradientUnits="userSpaceOnUse" x1="0" y1="158.1" x2="0" y2="609.0"><stop offset="0" stop-color="#ff0300"/><stop offset="0.033" stop-color="#f80707"/><stop offset="0.082" stop-color="#d72929"/><stop offset="0.169" stop-color="#6a9696"/><stop offset="0.231" stop-color="#0ff"/><stop offset="0.267" stop-color="#00c7de"/><stop offset="0.327" stop-color="#0082b4"/><stop offset="0.411" stop-color="#005f9b"/><stop offset="0.449" stop-color="#004b87"/><stop offset="0.484" stop-color="#002762"/><stop offset="0.491" stop-color="#002050"/><stop offset="0.498" stop-color="#000c1e"/><stop offset="0.5" stop-color="#000b1c"/><stop offset="0.511" stop-color="#000f24"/><stop offset="0.513" stop-color="#00122d"/><stop offset="0.518" stop-color="#00204f"/><stop offset="0.529" stop-color="#00326e"/><stop offset="0.571" stop-color="#0068a4"/><stop offset="0.636" stop-color="#01fefe"/><stop offset="0.682" stop-color="#4cb4b4"/><stop offset="0.718" stop-color="#778989"/><stop offset="0.816" stop-color="#ca3535"/><stop offset="0.893" stop-color="#f00"/><stop offset="0.958" stop-color="#ff4700"/><stop offset="1" stop-color="#f60"/></linearGradient>
<linearGradient id="e98" gradientUnits="userSpaceOnUse" x1="0" y1="158.1" x2="0" y2="609.0"><stop offset="0" stop-color="#ff0a00"/><stop offset="0.04" stop-color="#f00"/><stop offset="0.08" stop-color="#e51a1a"/><stop offset="0.176" stop-color="#6c9393"/><stop offset="0.227" stop-color="#00feff"/><stop offset="0.267" stop-color="#00bad6"/><stop offset="0.329" stop-color="#007aaf"/><stop offset="0.407" stop-color="#005e9a"/><stop offset="0.447" stop-color="#004a86"/><stop offset="0.482" stop-color="#002762"/><stop offset="0.491" stop-color="#001e4b"/><stop offset="0.498" stop-color="#000a19"/><stop offset="0.502" stop-color="#000918"/><stop offset="0.511" stop-color="#000d20"/><stop offset="0.513" stop-color="#001028"/><stop offset="0.518" stop-color="#001e4b"/><stop offset="0.531" stop-color="#00316d"/><stop offset="0.582" stop-color="#0069a5"/><stop offset="0.664" stop-color="#01fefe"/><stop offset="0.724" stop-color="#54abab"/><stop offset="0.869" stop-color="#ce3232"/><stop offset="0.913" stop-color="#fd0202"/><stop offset="0.962" stop-color="#ff3800"/><stop offset="1" stop-color="#ff5300"/></linearGradient>
<linearGradient id="e99" gradientUnits="userSpaceOnUse" x1="0" y1="158.1" x2="0" y2="609.0"><stop offset="0" stop-color="#ff0e00"/><stop offset="0.058" stop-color="#f00"/><stop offset="0.078" stop-color="#f00f0f"/><stop offset="0.178" stop-color="#718f8f"/><stop offset="0.224" stop-color="#0ff"/><stop offset="0.26" stop-color="#00bad6"/><stop offset="0.311" stop-color="#0082b4"/><stop offset="0.353" stop-color="#006aa5"/><stop offset="0.409" stop-color="#005b97"/><stop offset="0.449" stop-color="#004682"/><stop offset="0.484" stop-color="#00245a"/><stop offset="0.491" stop-color="#001d48"/><stop offset="0.498" stop-color="#000916"/><stop offset="0.5" stop-color="#000814"/><stop offset="0.511" stop-color="#000c1d"/><stop offset="0.513" stop-color="#000f25"/><stop offset="0.518" stop-color="#001d48"/><stop offset="0.531" stop-color="#002e6a"/><stop offset="0.593" stop-color="#006ba6"/><stop offset="0.633" stop-color="#00a5c9"/><stop offset="0.684" stop-color="#01fefe"/><stop offset="0.727" stop-color="#3bc4c4"/><stop offset="0.853" stop-color="#a55"/><stop offset="0.924" stop-color="#fd0202"/><stop offset="0.969" stop-color="#ff3100"/><stop offset="1" stop-color="#ff4600"/></linearGradient><filter id="fa" filterUnits="userSpaceOnUse" x="20" y="10" width="470" height="420" color-interpolation-filters="sRGB"><feGaussianBlur stdDeviation="3.6"/><feComponentTransfer><feFuncR type="table" tableValues="0.000 0.000 0.016 0.047 0.094 0.235 0.439 0.635 0.753 0.784 0.788 0.808 0.855 0.910 0.961 1.000 1.000 1.000 1.000 1.000 1.000"/><feFuncG type="table" tableValues="0.000 0.000 0.016 0.047 0.094 0.235 0.439 0.635 0.753 0.784 0.788 0.808 0.855 0.910 0.961 1.000 1.000 1.000 1.000 1.000 1.000"/><feFuncB type="table" tableValues="0.384 0.424 0.627 0.863 0.941 0.804 0.588 0.392 0.251 0.204 0.196 0.188 0.157 0.118 0.078 0.118 0.314 0.588 0.824 0.961 1.000"/></feComponentTransfer></filter><clipPath id="clipA"><rect x="51.1" y="38.1" width="403.4" height="361.7"/></clipPath><pattern id="pa" width="20" height="10" patternUnits="userSpaceOnUse" patternTransform="rotate(52)"><rect y="0" width="20" height="5" fill="#404010" fill-opacity="0.022"/></pattern><filter id="fB" filterUnits="userSpaceOnUse" x="21.1" y="390.5" width="463.4" height="317.3" color-interpolation-filters="sRGB"><feGaussianBlur in="SourceGraphic" stdDeviation="3.2" result="b"/><feTurbulence type="fractalNoise" baseFrequency="0.43" numOctaves="2" seed="3" result="n"/><feColorMatrix in="n" type="matrix" values="1 0 0 0 0  1 0 0 0 0  1 0 0 0 0  0 0 0 0 1" result="ng"/><feComposite in="b" in2="ng" operator="arithmetic" k1="0" k2="1" k3="0.25" k4="-0.125" result="c"/><feComponentTransfer in="c"><feFuncR type="table" tableValues="0.000 0.000 0.000 0.000 0.000 0.000 0.000 0.000 0.000 0.000 0.000 0.000 0.000 0.125 0.251 0.376 0.502 0.626 0.751 0.875 1.000 1.000 1.000 1.000 1.000 1.000 1.000 1.000 1.000 1.000 1.000"/><feFuncG type="table" tableValues="0.000 0.039 0.078 0.118 0.157 0.221 0.284 0.348 0.412 0.559 0.706 0.853 1.000 0.875 0.751 0.626 0.502 0.376 0.251 0.125 0.000 0.137 0.275 0.412 0.549 0.662 0.775 0.887 1.000 1.000 1.000"/><feFuncB type="table" tableValues="0.000 0.098 0.196 0.294 0.392 0.456 0.520 0.583 0.647 0.735 0.824 0.912 1.000 0.875 0.751 0.626 0.502 0.376 0.251 0.125 0.000 0.000 0.000 0.000 0.000 0.000 0.000 0.000 0.000 0.000 0.000"/></feComponentTransfer></filter><clipPath id="clipB"><rect x="51.1" y="420.5" width="403.4" height="257.3"/></clipPath><filter id="fC" filterUnits="userSpaceOnUse" x="21.1" y="668.2" width="463.4" height="317.7" color-interpolation-filters="sRGB"><feGaussianBlur in="SourceGraphic" stdDeviation="2.4" result="b"/><feTurbulence type="fractalNoise" baseFrequency="0.43" numOctaves="2" seed="7" result="n"/><feColorMatrix in="n" type="matrix" values="1 0 0 0 0  1 0 0 0 0  1 0 0 0 0  0 0 0 0 1" result="ng"/><feComposite in="b" in2="ng" operator="arithmetic" k1="0" k2="1" k3="0.25" k4="-0.125" result="c"/><feComponentTransfer in="c"><feFuncR type="table" tableValues="0.000 0.000 0.000 0.000 0.000 0.000 0.000 0.000 0.000 0.000 0.000 0.000 0.000 0.125 0.251 0.376 0.502 0.626 0.751 0.875 1.000 1.000 1.000 1.000 1.000 1.000 1.000 1.000 1.000 1.000 1.000"/><feFuncG type="table" tableValues="0.000 0.039 0.078 0.118 0.157 0.221 0.284 0.348 0.412 0.559 0.706 0.853 1.000 0.875 0.751 0.626 0.502 0.376 0.251 0.125 0.000 0.137 0.275 0.412 0.549 0.662 0.775 0.887 1.000 1.000 1.000"/><feFuncB type="table" tableValues="0.000 0.098 0.196 0.294 0.392 0.456 0.520 0.583 0.647 0.735 0.824 0.912 1.000 0.875 0.751 0.626 0.502 0.376 0.251 0.125 0.000 0.000 0.000 0.000 0.000 0.000 0.000 0.000 0.000 0.000 0.000"/></feComponentTransfer></filter><clipPath id="clipC"><rect x="51.1" y="698.2" width="403.4" height="257.7"/></clipPath><pattern id="pc" width="11.6" height="40" patternUnits="userSpaceOnUse" patternTransform="rotate(-39)"><rect width="11.6" height="40" fill="#8f8f8f"/><rect width="5.6" height="40" fill="#b2b2b2"/></pattern>
<radialGradient id="gO" cx="0.5" cy="0.5" r="0.5"><stop offset="0" stop-color="#fff3d8"/><stop offset="0.22" stop-color="#ffb060"/><stop offset="0.6" stop-color="#ee7a1c"/><stop offset="1" stop-color="#b8611c"/></radialGradient>
<radialGradient id="gB" cx="0.5" cy="0.5" r="0.5"><stop offset="0" stop-color="#e8f8ff"/><stop offset="0.22" stop-color="#5fb8ea"/><stop offset="0.6" stop-color="#2488c8"/><stop offset="1" stop-color="#23608c"/></radialGradient>
<clipPath id="clipF"><rect x="602" y="635" width="830.4" height="320.4"/></clipPath>
<clipPath id="clipG"><rect x="1549.3" y="37.9" width="436" height="917"/></clipPath>
<clipPath id="clipD"><rect x="602" y="38" width="830.4" height="99.7"/></clipPath>
</defs>
<text x="-2" y="68.5" font-size="42" text-anchor="start" fill="#000" color="#000" font-weight="bold" style="stroke-width:0.2px">a</text>
<text x="-2" y="455" font-size="42" text-anchor="start" fill="#000" color="#000" font-weight="bold" style="stroke-width:0.2px">b</text>
<text x="-2" y="728" font-size="42" text-anchor="start" fill="#000" color="#000" font-weight="bold" style="stroke-width:0.2px">c</text>
<text x="486" y="68" font-size="42" text-anchor="start" fill="#000" color="#000" font-weight="bold" style="stroke-width:0.2px">d</text>
<text x="487" y="200" font-size="42" text-anchor="start" fill="#000" color="#000" font-weight="bold" style="stroke-width:0.2px">e</text>
<text x="490" y="655" font-size="42" text-anchor="start" fill="#000" color="#000" font-weight="bold" style="stroke-width:0.2px">f</text>
<text x="1466" y="69" font-size="42" text-anchor="start" fill="#000" color="#000" font-weight="bold" style="stroke-width:0.2px">g</text>
<g clip-path="url(#clipA)"><g filter="url(#fa)"><rect x="0" y="0" width="520" height="440" fill="#000"/><circle cx="419.5" cy="314.3" r="11" fill="#454545"/><circle cx="402" cy="396" r="12" fill="#454545"/><circle cx="450" cy="262" r="7" fill="#383838"/><circle cx="452" cy="300" r="6" fill="#333333"/><circle cx="420" cy="385" r="8" fill="#262626"/><circle cx="195" cy="359.5" r="8" fill="#4c4c4c"/><g fill="#333333" stroke="#333333" stroke-width="19" stroke-linejoin="round"><path d="M-20 -20C16.7 -59.5 125.5 -26.7 200 -20C274.5 -13.3 389 10.3 427 20C465 29.7 427.1 33.2 428 38C428.9 42.8 431.3 44 432.7 49C434.1 54 436.2 61.7 436.5 68C436.8 74.3 434.9 80.7 434.6 87C434.4 93.3 435.3 101.2 435 106C434.7 110.8 434.3 112.2 433 116C431.7 119.8 429.2 124.9 427 128.6C424.8 132.3 419.5 134.8 419.5 138C419.5 141.2 424.9 143.5 427 147.6C429.1 151.7 430.9 157.1 431.8 162.8C432.8 168.5 433.5 176.3 432.7 181.7C431.9 187.1 429.2 190.9 427 195C424.8 199.1 421.5 202.4 419.5 206.4C417.5 210.4 415.9 215.2 415 219C414.1 222.8 414.1 223.9 413.8 229C413.6 234.1 414 242.7 413.5 249.5C413 256.3 412.7 263.4 411 270C409.3 276.6 406.3 282.7 403.5 289C400.7 295.3 397.8 301.7 394 308C390.2 314.3 384.9 321.3 380.8 327C376.7 332.7 373.9 337.3 369.4 342C364.9 346.7 358.4 351.2 354 355C349.6 358.8 347.2 361.5 342.8 364.7C338.4 367.9 333.1 370.8 327.7 374C322.3 377.2 316 380.9 310.6 383.7C305.2 386.5 302.9 389.4 295.4 391C287.9 392.6 273.1 393.2 265.5 393.5C257.9 393.8 254.6 391.9 250 393C245.4 394.1 241 395.5 238 400C235 404.5 234.7 416.7 232 420C229.3 423.3 222.3 423.7 222 420C221.7 416.3 230.5 405.1 230 398C229.5 390.9 222.5 382.2 219.1 377.1C215.7 372 211.4 370.9 209.5 367.5C207.6 364.1 207.5 360 207.5 356.5C207.5 353 211.5 348.8 209.5 346.5C207.5 344.2 200.2 343.1 195.5 342.5C190.8 341.9 186.8 345.4 181.2 343C175.6 340.6 167.6 331.9 162.2 327.8C156.8 323.7 153.2 320.7 148.5 318.5C143.8 316.3 139.4 317.7 133.8 314.5C128.2 311.3 120.3 303.2 114.8 299.5C109.2 295.8 105.2 295.3 100.5 292.5C95.8 289.7 90.7 286 86.5 282.5C82.3 279 78.7 275.7 75.5 271.5C72.3 267.3 69.8 262.3 67.5 257.5C65.2 252.7 63.2 247.3 61.5 242.5C59.8 237.7 61.1 232.1 57.5 228.5C53.9 224.9 52.9 222.9 40 221C27.1 219.1 -10 257.2 -20 217C-30 176.8 -56.7 19.5 -20 -20Z"/><path d="M-20 292C-8 270.8 37.7 292.1 52 293C66.3 293.9 61.7 295.7 66 297.4C70.3 299.1 75 300.4 78 303C81 305.6 82.8 309.6 84 313C85.2 316.4 85.2 319.5 85.5 323.7C85.8 327.9 86.3 333.3 86 338C85.7 342.7 85.7 348.1 83.6 352C81.5 355.9 75.3 357.9 73.2 361.6C71.1 365.3 70.7 369.9 71 374C71.3 378.1 72.5 382.8 75 386C77.5 389.2 82.2 391 86 393C89.8 395 94.7 393.5 98 398C101.3 402.5 125.7 416.3 106 420C86.3 423.7 1 441.3 -20 420C-41 398.7 -32 313.2 -20 292Z"/><path d="M470 335C467.3 322.1 457.8 340.2 453.6 342.7C449.4 345.2 447.2 347.4 445 350C442.8 352.6 442 355.3 440.3 358C438.6 360.7 436.3 363.2 435 366C433.7 368.8 433.2 372 432.7 375C432.2 378 431.7 381.2 432 384C432.3 386.8 433.9 386 434.6 392C435.3 398 430.1 415.3 436 420C441.9 424.7 464.3 434.2 470 420C475.7 405.8 472.7 347.9 470 335Z"/></g><g fill="#808080" stroke="#808080" stroke-width="3" stroke-linejoin="round"><path d="M-20 -20C16.7 -59.5 125.5 -26.7 200 -20C274.5 -13.3 389 10.3 427 20C465 29.7 427.1 33.2 428 38C428.9 42.8 431.3 44 432.7 49C434.1 54 436.2 61.7 436.5 68C436.8 74.3 434.9 80.7 434.6 87C434.4 93.3 435.3 101.2 435 106C434.7 110.8 434.3 112.2 433 116C431.7 119.8 429.2 124.9 427 128.6C424.8 132.3 419.5 134.8 419.5 138C419.5 141.2 424.9 143.5 427 147.6C429.1 151.7 430.9 157.1 431.8 162.8C432.8 168.5 433.5 176.3 432.7 181.7C431.9 187.1 429.2 190.9 427 195C424.8 199.1 421.5 202.4 419.5 206.4C417.5 210.4 415.9 215.2 415 219C414.1 222.8 414.1 223.9 413.8 229C413.6 234.1 414 242.7 413.5 249.5C413 256.3 412.7 263.4 411 270C409.3 276.6 406.3 282.7 403.5 289C400.7 295.3 397.8 301.7 394 308C390.2 314.3 384.9 321.3 380.8 327C376.7 332.7 373.9 337.3 369.4 342C364.9 346.7 358.4 351.2 354 355C349.6 358.8 347.2 361.5 342.8 364.7C338.4 367.9 333.1 370.8 327.7 374C322.3 377.2 316 380.9 310.6 383.7C305.2 386.5 302.9 389.4 295.4 391C287.9 392.6 273.1 393.2 265.5 393.5C257.9 393.8 254.6 391.9 250 393C245.4 394.1 241 395.5 238 400C235 404.5 234.7 416.7 232 420C229.3 423.3 222.3 423.7 222 420C221.7 416.3 230.5 405.1 230 398C229.5 390.9 222.5 382.2 219.1 377.1C215.7 372 211.4 370.9 209.5 367.5C207.6 364.1 207.5 360 207.5 356.5C207.5 353 211.5 348.8 209.5 346.5C207.5 344.2 200.2 343.1 195.5 342.5C190.8 341.9 186.8 345.4 181.2 343C175.6 340.6 167.6 331.9 162.2 327.8C156.8 323.7 153.2 320.7 148.5 318.5C143.8 316.3 139.4 317.7 133.8 314.5C128.2 311.3 120.3 303.2 114.8 299.5C109.2 295.8 105.2 295.3 100.5 292.5C95.8 289.7 90.7 286 86.5 282.5C82.3 279 78.7 275.7 75.5 271.5C72.3 267.3 69.8 262.3 67.5 257.5C65.2 252.7 63.2 247.3 61.5 242.5C59.8 237.7 61.1 232.1 57.5 228.5C53.9 224.9 52.9 222.9 40 221C27.1 219.1 -10 257.2 -20 217C-30 176.8 -56.7 19.5 -20 -20Z"/><path d="M-20 292C-8 270.8 37.7 292.1 52 293C66.3 293.9 61.7 295.7 66 297.4C70.3 299.1 75 300.4 78 303C81 305.6 82.8 309.6 84 313C85.2 316.4 85.2 319.5 85.5 323.7C85.8 327.9 86.3 333.3 86 338C85.7 342.7 85.7 348.1 83.6 352C81.5 355.9 75.3 357.9 73.2 361.6C71.1 365.3 70.7 369.9 71 374C71.3 378.1 72.5 382.8 75 386C77.5 389.2 82.2 391 86 393C89.8 395 94.7 393.5 98 398C101.3 402.5 125.7 416.3 106 420C86.3 423.7 1 441.3 -20 420C-41 398.7 -32 313.2 -20 292Z"/><path d="M470 335C467.3 322.1 457.8 340.2 453.6 342.7C449.4 345.2 447.2 347.4 445 350C442.8 352.6 442 355.3 440.3 358C438.6 360.7 436.3 363.2 435 366C433.7 368.8 433.2 372 432.7 375C432.2 378 431.7 381.2 432 384C432.3 386.8 433.9 386 434.6 392C435.3 398 430.1 415.3 436 420C441.9 424.7 464.3 434.2 470 420C475.7 405.8 472.7 347.9 470 335Z"/></g><circle cx="393" cy="223" r="9" fill="#9e9e9e"/><circle cx="396.7" cy="253.6" r="9" fill="#9e9e9e"/><circle cx="374" cy="293.4" r="8" fill="#999999"/><circle cx="292.4" cy="371" r="9" fill="#9e9e9e"/><circle cx="69.6" cy="346.5" r="10" fill="#a8a8a8"/><circle cx="60" cy="380.6" r="9" fill="#a3a3a3"/><circle cx="423" cy="68" r="9" fill="#999999"/><circle cx="420" cy="100" r="9" fill="#949494"/><circle cx="417" cy="160" r="9" fill="#999999"/><circle cx="412" cy="185" r="8" fill="#999999"/><circle cx="330" cy="350" r="8" fill="#999999"/><circle cx="352" cy="330" r="7" fill="#949494"/><circle cx="440" cy="380" r="9" fill="#999999"/><circle cx="250" cy="378" r="9" fill="#949494"/><circle cx="405" cy="270" r="7" fill="#999999"/><ellipse cx="49" cy="92" rx="19" ry="28" fill="#e6e6e6"/><path d="M271 108 L287 84 L304 57" stroke="#ffffff" stroke-width="40" stroke-linecap="round" stroke-linejoin="round" fill="none"/><circle cx="271" cy="108" r="22" fill="#fff"/></g><rect x="51.1" y="38.1" width="403.4" height="361.7" fill="url(#pa)"/></g>
<g clip-path="url(#clipB)"><g filter="url(#fB)"><rect x="11.1" y="380.5" width="483.4" height="337.3" fill="#252525"/><path d="M20 392.3L20 531.6L52.7 534.6L60.4 539.7L70.6 547.3L83.4 562.7L96.2 567.8L111.5 567.8L129.4 578.1L142.2 590.9L155 601.1L173 604.9L188.3 608.8L201.1 616.5L208.8 626.7L211.3 639.5L205 649.7L208.8 656.1L221.6 654.8L234.4 644.6L244.6 645.9L249.7 654.8L262.5 660L270.2 652.3L288.1 642L313.7 626.7L334.2 606.2L349.5 585.7L359.7 565.3L367.4 547.3L382.8 542.3L393 537.1L394.3 524.3L390.5 509L380 503.9L382.8 488.5L398.1 465.5L405.8 445L408.4 424.5L409 392.3Z" fill="#313131"/><path d="M52.7 534.6L60.4 539.7L70.6 547.3L83.4 562.7L96.2 567.8L111.5 567.8L129.4 578.1L142.2 590.9L155 601.1L173 604.9L188.3 608.8L201.1 616.5L208.8 626.7L211.3 639.5L205 649.7L208.8 656.1" fill="none" stroke="#525252" stroke-width="9" stroke-opacity="0.7" stroke-linecap="round" stroke-linejoin="round"/><path d="M111.5 567.8L129.4 578.1L142.2 590.9L155 601.1L173 604.9L188.3 608.8L201.1 616.5" fill="none" stroke="#666666" stroke-width="6" stroke-opacity="0.8" stroke-linecap="round" stroke-linejoin="round"/><path d="M359.7 565.3L367.4 547.3L382.8 542.3L393 537.1L394.3 524.3L390.5 509L380 503.9L382.8 488.5L398.1 465.5L405.8 445L408.4 424.5" fill="none" stroke="#636363" stroke-width="10" stroke-opacity="0.9" stroke-linecap="round" stroke-linejoin="round"/><path d="M215 607L260 583L310 560L345 548L372 520L380 535L368 570L340 600L300 630L262 655L222 652Z" fill="#585858" fill-opacity="0.5"/><path d="M246 422L300 424L350 425L400 423" fill="none" stroke="#636363" stroke-width="11" stroke-opacity="0.9" stroke-linecap="round" stroke-linejoin="round"/><path d="M270 434L330 438L370 440" fill="none" stroke="#4b4b4b" stroke-width="14" stroke-opacity="0.6" stroke-linecap="round" stroke-linejoin="round"/><path d="M365 420L410 420L408 440L396 462L384 486L376 492L372 470L370 445Z" fill="#666666"/><path d="M402 424L392 446L381 468" fill="none" stroke="#8f8f8f" stroke-width="4" stroke-opacity="1.0" stroke-linecap="round" stroke-linejoin="round"/><path d="M381 486L378 505L384 516" fill="none" stroke="#636363" stroke-width="9" stroke-opacity="1.0" stroke-linecap="round" stroke-linejoin="round"/><ellipse cx="384" cy="512" rx="5" ry="3" transform="rotate(-10 384 512)" fill="#999999" fill-opacity="1.0"/><ellipse cx="391" cy="535" rx="11" ry="13" transform="rotate(0 391 535)" fill="#666666" fill-opacity="1.0"/><ellipse cx="391" cy="533" rx="5" ry="6.5" transform="rotate(0 391 533)" fill="#ebebeb" fill-opacity="1.0"/><path d="M388 548L384 560" fill="none" stroke="#5f5f5f" stroke-width="7" stroke-opacity="1.0" stroke-linecap="round" stroke-linejoin="round"/><path d="M246 590L280 571L310 560L342 549L362 532" fill="none" stroke="#666666" stroke-width="12" stroke-opacity="1.0" stroke-linecap="round" stroke-linejoin="round"/><path d="M262 578L290 566" fill="none" stroke="#858585" stroke-width="4" stroke-opacity="1.0" stroke-linecap="round" stroke-linejoin="round"/><path d="M214 651L240 635L270 617L296 601" fill="none" stroke="#686868" stroke-width="8" stroke-opacity="1.0" stroke-linecap="round" stroke-linejoin="round"/><path d="M222 646L250 629" fill="none" stroke="#888888" stroke-width="3" stroke-opacity="1.0" stroke-linecap="round" stroke-linejoin="round"/><path d="M256 644L290 620L320 596L352 570" fill="none" stroke="#666666" stroke-width="17" stroke-opacity="1.0" stroke-linecap="round" stroke-linejoin="round"/><path d="M258 643L290 620L318 598L340 580" fill="none" stroke="#adadad" stroke-width="7.5" stroke-opacity="1.0" stroke-linecap="round" stroke-linejoin="round"/><path d="M322 594L346 574" fill="none" stroke="#929292" stroke-width="5" stroke-opacity="1.0" stroke-linecap="round" stroke-linejoin="round"/><path d="M296 642L330 615L361 583" fill="none" stroke="#666666" stroke-width="7" stroke-opacity="1.0" stroke-linecap="round" stroke-linejoin="round"/><ellipse cx="216" cy="605" rx="9" ry="9" transform="rotate(0 216 605)" fill="#666666" fill-opacity="1.0"/><ellipse cx="268" cy="661" rx="4.5" ry="6" transform="rotate(20 268 661)" fill="#6d6d6d" fill-opacity="1.0"/><ellipse cx="103" cy="524" rx="40" ry="43" transform="rotate(-20 103 524)" fill="#666666" fill-opacity="1.0"/><ellipse cx="74" cy="484" rx="22" ry="28" transform="rotate(-15 74 484)" fill="#585858" fill-opacity="0.75"/><ellipse cx="56" cy="432" rx="13" ry="13" transform="rotate(0 56 432)" fill="#5f5f5f" fill-opacity="0.85"/><ellipse cx="60" cy="455" rx="8" ry="10" transform="rotate(0 60 455)" fill="#555555" fill-opacity="0.6"/><ellipse cx="135" cy="500" rx="22" ry="30" transform="rotate(0 135 500)" fill="#4e4e4e" fill-opacity="0.5"/><ellipse cx="86" cy="517" rx="16" ry="19" transform="rotate(-20 86 517)" fill="#b4b4b4" fill-opacity="1.0"/><ellipse cx="110" cy="541" rx="17" ry="19" transform="rotate(-30 110 541)" fill="#b4b4b4" fill-opacity="1.0"/><ellipse cx="98" cy="528" rx="10" ry="12" transform="rotate(0 98 528)" fill="#b1b1b1" fill-opacity="1.0"/><ellipse cx="82" cy="516" rx="8" ry="9" transform="rotate(0 82 516)" fill="#fcfcfc" fill-opacity="1.0"/><ellipse cx="105" cy="549" rx="10" ry="6" transform="rotate(-30 105 549)" fill="#e4e4e4" fill-opacity="1.0"/><ellipse cx="130" cy="560" rx="8" ry="6" transform="rotate(0 130 560)" fill="#818181" fill-opacity="1.0"/><ellipse cx="164" cy="590" rx="14" ry="13" transform="rotate(0 164 590)" fill="#666666" fill-opacity="1.0"/><ellipse cx="164" cy="590" rx="7" ry="6" transform="rotate(0 164 590)" fill="#b8b8b8" fill-opacity="1.0"/><ellipse cx="447" cy="662" rx="13" ry="13" transform="rotate(0 447 662)" fill="#666666" fill-opacity="1.0"/><ellipse cx="448" cy="663" rx="6" ry="6" transform="rotate(0 448 663)" fill="#b1b1b1" fill-opacity="1.0"/><ellipse cx="53" cy="604" rx="6" ry="7" transform="rotate(0 53 604)" fill="#5c5c5c" fill-opacity="1.0"/></g></g>
<g clip-path="url(#clipC)"><g filter="url(#fC)"><rect x="11.1" y="658.2" width="483.4" height="337.7" fill="#252525"/><path d="M20 670L20 809.3L52.7 812.3L60.4 817.4L70.6 825L83.4 840.4L96.2 845.5L111.5 845.5L129.4 855.8L142.2 868.6L155 878.8L173 882.6L188.3 886.5L201.1 894.2L208.8 904.4L211.3 917.2L205 927.4L208.8 933.8L221.6 932.5L234.4 922.3L244.6 923.6L249.7 932.5L262.5 937.7L270.2 930L288.1 919.7L313.7 904.4L334.2 883.9L349.5 863.4L359.7 843L367.4 825L382.8 820L393 814.8L394.3 802L390.5 786.7L380 781.6L382.8 766.2L398.1 743.2L405.8 722.7L408.4 702.2L409 670Z" fill="#666666" stroke="#666666" stroke-width="9" stroke-linejoin="round"/><path d="M359.7 843L367.4 825L382.8 820L393 814.8L394.3 802L390.5 786.7L380 781.6L382.8 766.2L398.1 743.2L405.8 722.7L408.4 702.2" fill="none" stroke="#666666" stroke-width="22" stroke-opacity="1.0" stroke-linecap="round" stroke-linejoin="round"/><path d="M262.5 937.7L270.2 930L288.1 919.7L313.7 904.4L334.2 883.9L349.5 863.4L359.7 843" fill="none" stroke="#666666" stroke-width="18" stroke-opacity="1.0" stroke-linecap="round" stroke-linejoin="round"/><path d="M52.7 812.3L60.4 817.4L70.6 825L83.4 840.4L96.2 845.5L111.5 845.5L129.4 855.8L142.2 868.6L155 878.8L173 882.6L188.3 886.5L201.1 894.2L208.8 904.4L211.3 917.2L205 927.4L208.8 933.8L221.6 932.5L234.4 922.3L244.6 923.6L249.7 932.5" fill="none" stroke="#666666" stroke-width="12" stroke-opacity="1.0" stroke-linecap="round" stroke-linejoin="round"/><path d="M20 670L20 809.3L52.7 812.3L60.4 817.4L70.6 825L83.4 840.4L96.2 845.5L111.5 845.5L129.4 855.8L142.2 868.6L155 878.8L173 882.6L188.3 886.5L201.1 894.2L208.8 904.4L211.3 917.2L205 927.4L208.8 933.8L221.6 932.5L234.4 922.3L244.6 923.6L249.7 932.5L262.5 937.7L270.2 930L288.1 919.7L313.7 904.4L334.2 883.9L349.5 863.4L359.7 843L367.4 825L382.8 820L393 814.8L394.3 802L390.5 786.7L380 781.6L382.8 766.2L398.1 743.2L405.8 722.7L408.4 702.2L409 670Z" fill="url(#pc)"/><ellipse cx="330" cy="730" rx="75" ry="45" transform="rotate(40 330 730)" fill="#eeeeee" fill-opacity="0.24"/><ellipse cx="145" cy="712" rx="100" ry="17" transform="rotate(3 145 712)" fill="#7a7a7a" fill-opacity="0.85"/><ellipse cx="230" cy="760" rx="60" ry="35" transform="rotate(30 230 760)" fill="#8b8b8b" fill-opacity="0.5"/><ellipse cx="96" cy="786" rx="36" ry="44" transform="rotate(-20 96 786)" fill="#d6d6d6" fill-opacity="0.85"/><ellipse cx="85" cy="800" rx="18" ry="22" transform="rotate(-20 85 800)" fill="#eeeeee" fill-opacity="0.6"/><ellipse cx="96" cy="834" rx="16" ry="8" transform="rotate(-32 96 834)" fill="#ffffff" fill-opacity="1.0"/><ellipse cx="125" cy="765" rx="22" ry="14" transform="rotate(20 125 765)" fill="#bebebe" fill-opacity="0.8"/><ellipse cx="62" cy="730" rx="10" ry="12" transform="rotate(0 62 730)" fill="#b1b1b1" fill-opacity="0.8"/><ellipse cx="225" cy="853" rx="38" ry="17" transform="rotate(-15 225 853)" fill="#c2c2c2" fill-opacity="0.8"/><ellipse cx="280" cy="850" rx="30" ry="14" transform="rotate(-40 280 850)" fill="#bebebe" fill-opacity="0.7"/><ellipse cx="150" cy="850" rx="25" ry="12" transform="rotate(20 150 850)" fill="#b8b8b8" fill-opacity="0.7"/><ellipse cx="160" cy="868" rx="9" ry="10" transform="rotate(0 160 868)" fill="#fcfcfc" fill-opacity="1.0"/><ellipse cx="193" cy="863" rx="13" ry="9" transform="rotate(-30 193 863)" fill="#fcfcfc" fill-opacity="1.0"/><ellipse cx="214" cy="884" rx="9" ry="9" transform="rotate(0 214 884)" fill="#fcfcfc" fill-opacity="1.0"/><ellipse cx="214" cy="925" rx="8.5" ry="4.5" transform="rotate(-42 214 925)" fill="#fcfcfc" fill-opacity="1.0"/><path d="M253 922L288 899.5L312 882" fill="none" stroke="#ffffff" stroke-width="11" stroke-opacity="1.0" stroke-linecap="round" stroke-linejoin="round"/><path d="M312 882L327 870L349 843" fill="none" stroke="#ffffff" stroke-width="8" stroke-opacity="1.0" stroke-linecap="round" stroke-linejoin="round"/><ellipse cx="362" cy="728" rx="40" ry="26" transform="rotate(48 362 728)" fill="#d3d3d3" fill-opacity="0.6"/><path d="M349 698L395.5 698L399.4 722.7L386 747L376 753L361 733Z" fill="#ffffff" fill-opacity="0.92"/><path d="M270 704L330 704" fill="none" stroke="#cccccc" stroke-width="10" stroke-opacity="0.9" stroke-linecap="round" stroke-linejoin="round"/><ellipse cx="380.5" cy="793" rx="10" ry="5.5" transform="rotate(-8 380.5 793)" fill="#ffffff" fill-opacity="1.0"/><ellipse cx="385.5" cy="811" rx="6.5" ry="9" transform="rotate(-12 385.5 811)" fill="#ffffff" fill-opacity="1.0"/><ellipse cx="446" cy="943" rx="13" ry="13" transform="rotate(0 446 943)" fill="#666666" fill-opacity="1.0"/><ellipse cx="446" cy="943" rx="7" ry="7" transform="rotate(0 446 943)" fill="#bbbbbb" fill-opacity="1.0"/></g></g>
<g>
<circle cx="132.6" cy="49.5" r="6.7" fill="url(#gB)"/>
<circle cx="121.4" cy="60.7" r="6.7" fill="url(#gO)"/>
<circle cx="140.1" cy="65.6" r="6.7" fill="url(#gO)"/>
<circle cx="156.4" cy="73.6" r="6.7" fill="url(#gB)"/>
<circle cx="106.2" cy="75.9" r="6.7" fill="url(#gO)"/>
<circle cx="129" cy="77" r="6.7" fill="url(#gB)"/>
<circle cx="145.1" cy="84.4" r="6.7" fill="url(#gO)"/>
<circle cx="164" cy="89.7" r="6.7" fill="url(#gO)"/>
<circle cx="89.4" cy="92.7" r="6.7" fill="url(#gB)"/>
<circle cx="112.1" cy="93.9" r="6.7" fill="url(#gO)"/>
<circle cx="180.1" cy="97.3" r="6.7" fill="url(#gB)"/>
<circle cx="130.1" cy="99.6" r="6.7" fill="url(#gO)"/>
<circle cx="153" cy="100.7" r="6.7" fill="url(#gB)"/>
<circle cx="78.4" cy="103.9" r="6.7" fill="url(#gO)"/>
<circle cx="169" cy="108.3" r="6.7" fill="url(#gO)"/>
<circle cx="96.9" cy="108.8" r="6.7" fill="url(#gO)"/>
<circle cx="187.9" cy="113.4" r="6.7" fill="url(#gO)"/>
<circle cx="113.2" cy="116.6" r="6.7" fill="url(#gB)"/>
<circle cx="135.8" cy="117.8" r="6.7" fill="url(#gO)"/>
<circle cx="63.4" cy="119.1" r="6.7" fill="url(#gO)"/>
<circle cx="85.9" cy="120.2" r="6.7" fill="url(#gB)"/>
<circle cx="154" cy="123.4" r="6.7" fill="url(#gO)"/>
<circle cx="176.7" cy="124.6" r="6.7" fill="url(#gB)"/>
<circle cx="102" cy="127.8" r="6.7" fill="url(#gO)"/>
<circle cx="120.8" cy="132.7" r="6.7" fill="url(#gO)"/>
<circle cx="69.1" cy="137.1" r="6.7" fill="url(#gO)"/>
<circle cx="136.9" cy="140.5" r="6.7" fill="url(#gB)"/>
<circle cx="159.7" cy="141.6" r="6.7" fill="url(#gO)"/>
<circle cx="87.1" cy="142.8" r="6.7" fill="url(#gO)"/>
<circle cx="109.6" cy="143.9" r="6.7" fill="url(#gB)"/>
<circle cx="125.9" cy="151.5" r="6.7" fill="url(#gO)"/>
<circle cx="144.5" cy="156.4" r="6.7" fill="url(#gO)"/>
<circle cx="92.8" cy="160.8" r="6.7" fill="url(#gO)"/>
<circle cx="110.8" cy="166.5" r="6.7" fill="url(#gO)"/>
<circle cx="133.5" cy="167.8" r="6.7" fill="url(#gB)"/>
<circle cx="116.5" cy="184.9" r="6.7" fill="url(#gO)"/>
</g>
<line x1="61.7" y1="159.8" x2="93.35" y2="191.23" stroke="#05056e" stroke-width="3.4" /><polygon points="104.7,202.5 88.8,194.4 96.5,186.6" fill="#05056e"/>
<line x1="138.8" y1="202.1" x2="193.45" y2="147.78" stroke="#05056e" stroke-width="3.4" /><polygon points="204.8,136.5 196.6,152.4 188.9,144.6" fill="#05056e"/>
<text transform="translate(76.3 203.8) rotate(-46)" font-size="39" text-anchor="middle" y="14" style="stroke-width:1.4px">X</text>
<text transform="translate(211.5 125.5) rotate(-45)" font-size="39" text-anchor="middle" y="14" style="stroke-width:1.4px">Y</text>
<line x1="248.8" y1="205" x2="355.37" y2="334.44" stroke="#000" stroke-width="4.2" stroke-linecap="round"/>
<polygon points="363,343.7 330.6,326.4 347.1,324.4 352.2,308.6" fill="#000"/>
<circle cx="265.3" cy="224.8" r="6.4" fill="none" stroke="#000" stroke-width="3.1"/>
<circle cx="303.2" cy="271.1" r="6.4" fill="none" stroke="#21b0b3" stroke-width="3.1"/>
<circle cx="315.2" cy="285.9" r="6.4" fill="none" stroke="#21b0b3" stroke-width="3.1"/>
<circle cx="327.1" cy="300.5" r="6.4" fill="none" stroke="#21b0b3" stroke-width="3.1"/>
<circle cx="339.4" cy="314.9" r="6.4" fill="none" stroke="#2177b8" stroke-width="3.1"/>
<circle cx="351.8" cy="329.9" r="6.4" fill="none" stroke="#2177b8" stroke-width="3.1"/>
<rect x="351.6" y="361.7" width="84.6" height="7.6" fill="#fff"/>
<rect x="351.6" y="633.4" width="84.6" height="7.6" fill="#fff"/>
<rect x="351.6" y="914.2" width="84.6" height="7.6" fill="#fff"/>
<text x="64" y="461" font-size="37" text-anchor="start" fill="#fff" color="#fff" style="stroke-width:0.15px">-30meV</text>
<text x="64" y="743" font-size="37" text-anchor="start" fill="#000" color="#000" >-70meV</text>
<rect x="51.1" y="38.1" width="403.4" height="361.7" fill="none" stroke="#000" stroke-width="2.2"/>
<rect x="51.1" y="420.5" width="403.4" height="257.3" fill="none" stroke="#000" stroke-width="2.2"/>
<rect x="51.1" y="698.2" width="403.4" height="257.7" fill="none" stroke="#000" stroke-width="2.2"/>
<g>
<path d="M685 -2V14" stroke="#000" stroke-width="4.4" fill="none"/><polygon points="673.8,12 696.2,12 685,31" fill="#000"/>
<path d="M985 -2V14" stroke="#21b0b3" stroke-width="4.4" fill="none"/><polygon points="973.8,12 996.2,12 985,31" fill="#21b0b3"/>
<path d="M1067.4 -2V14" stroke="#21b0b3" stroke-width="4.4" fill="none"/><polygon points="1056.2,12 1078.6,12 1067.4,31" fill="#21b0b3"/>
<path d="M1154 -2V14" stroke="#21b0b3" stroke-width="4.4" fill="none"/><polygon points="1142.8,12 1165.2,12 1154,31" fill="#21b0b3"/>
<path d="M1256.4 -2V14" stroke="#2177b8" stroke-width="4.4" fill="none"/><polygon points="1245.2,12 1267.6,12 1256.4,31" fill="#2177b8"/>
<path d="M1358.4 -2V14" stroke="#2177b8" stroke-width="4.4" fill="none"/><polygon points="1347.2,12 1369.6,12 1358.4,31" fill="#2177b8"/>
<path d="M768.08 38v13M934.16 38v13M1100.24 38v13M1266.32 38v13" stroke="#000" stroke-width="2.3" fill="none"/>
<path d="M685.04 38v7M851.12 38v7M1017.2 38v7M1183.28 38v7M1349.36 38v7" stroke="#000" stroke-width="2.3" fill="none"/>
<path d="M768.08 137.7v-13M934.16 137.7v-13M1100.24 137.7v-13M1266.32 137.7v-13" stroke="#000" stroke-width="2.3" fill="none"/>
<path d="M685.04 137.7v-7M851.12 137.7v-7M1017.2 137.7v-7M1183.28 137.7v-7M1349.36 137.7v-7" stroke="#000" stroke-width="2.3" fill="none"/>
<path d="M602 96h7" stroke="#000" stroke-width="2.3" fill="none"/>
<path d="M602 54.7C635 54.68 733.67 54.63 800 54.6C866.33 54.57 941.67 54.48 1000 54.5C1058.33 54.52 1116.67 54.58 1150 54.7C1183.33 54.82 1186.67 54.93 1200 55.2C1213.33 55.47 1221 56 1230 56.3C1239 56.6 1246.5 57.22 1254 57C1261.5 56.78 1269 55.83 1275 55C1281 54.17 1285.5 52.78 1290 52C1294.5 51.22 1297 50.47 1302 50.3C1307 50.13 1313.67 50.22 1320 51C1326.33 51.78 1333.33 52.5 1340 55C1346.67 57.5 1353.33 62 1360 66C1366.67 70 1373.33 74.17 1380 79C1386.67 83.83 1393.33 88.5 1400 95C1406.67 101.5 1414.58 111.5 1420 118C1425.42 124.5 1430.42 131.33 1432.5 134" fill="none" stroke="#000" stroke-width="3.6" stroke-linejoin="round" clip-path="url(#clipD)"/>
<rect x="602" y="38" width="830.4" height="99.7" fill="none" stroke="#000" stroke-width="2.3"/>
<text x="594" y="68" font-size="37" text-anchor="end" fill="#000" color="#000" >1</text>
<text x="594" y="148" font-size="37" text-anchor="end" fill="#000" color="#000" >0</text>
<text transform="translate(561 88.5) rotate(-90)" font-size="40" text-anchor="middle"><tspan font-style="italic">Z</tspan> (nm)</text>
</g>
<g>
<g shape-rendering="crispEdges"><rect x="602.00" y="158.1" width="8.90" height="450.9" fill="url(#e0)"/>
<rect x="610.30" y="158.1" width="8.90" height="450.9" fill="url(#e1)"/>
<rect x="618.61" y="158.1" width="8.90" height="450.9" fill="url(#e2)"/>
<rect x="626.91" y="158.1" width="8.90" height="450.9" fill="url(#e3)"/>
<rect x="635.22" y="158.1" width="8.90" height="450.9" fill="url(#e4)"/>
<rect x="643.52" y="158.1" width="8.90" height="450.9" fill="url(#e5)"/>
<rect x="651.82" y="158.1" width="8.90" height="450.9" fill="url(#e6)"/>
<rect x="660.13" y="158.1" width="8.90" height="450.9" fill="url(#e7)"/>
<rect x="668.43" y="158.1" width="8.90" height="450.9" fill="url(#e8)"/>
<rect x="676.74" y="158.1" width="8.90" height="450.9" fill="url(#e9)"/>
<rect x="685.04" y="158.1" width="8.90" height="450.9" fill="url(#e10)"/>
<rect x="693.34" y="158.1" width="8.90" height="450.9" fill="url(#e11)"/>
<rect x="701.65" y="158.1" width="8.90" height="450.9" fill="url(#e12)"/>
<rect x="709.95" y="158.1" width="8.90" height="450.9" fill="url(#e13)"/>
<rect x="718.26" y="158.1" width="8.90" height="450.9" fill="url(#e14)"/>
<rect x="726.56" y="158.1" width="8.90" height="450.9" fill="url(#e15)"/>
<rect x="734.86" y="158.1" width="8.90" height="450.9" fill="url(#e16)"/>
<rect x="743.17" y="158.1" width="8.90" height="450.9" fill="url(#e17)"/>
<rect x="751.47" y="158.1" width="8.90" height="450.9" fill="url(#e18)"/>
<rect x="759.78" y="158.1" width="8.90" height="450.9" fill="url(#e19)"/>
<rect x="768.08" y="158.1" width="8.90" height="450.9" fill="url(#e20)"/>
<rect x="776.38" y="158.1" width="8.90" height="450.9" fill="url(#e21)"/>
<rect x="784.69" y="158.1" width="8.90" height="450.9" fill="url(#e22)"/>
<rect x="792.99" y="158.1" width="8.90" height="450.9" fill="url(#e23)"/>
<rect x="801.30" y="158.1" width="8.90" height="450.9" fill="url(#e24)"/>
<rect x="809.60" y="158.1" width="8.90" height="450.9" fill="url(#e25)"/>
<rect x="817.90" y="158.1" width="8.90" height="450.9" fill="url(#e26)"/>
<rect x="826.21" y="158.1" width="8.90" height="450.9" fill="url(#e27)"/>
<rect x="834.51" y="158.1" width="8.90" height="450.9" fill="url(#e28)"/>
<rect x="842.82" y="158.1" width="8.90" height="450.9" fill="url(#e29)"/>
<rect x="851.12" y="158.1" width="8.90" height="450.9" fill="url(#e30)"/>
<rect x="859.42" y="158.1" width="8.90" height="450.9" fill="url(#e31)"/>
<rect x="867.73" y="158.1" width="8.90" height="450.9" fill="url(#e32)"/>
<rect x="876.03" y="158.1" width="8.90" height="450.9" fill="url(#e33)"/>
<rect x="884.34" y="158.1" width="8.90" height="450.9" fill="url(#e34)"/>
<rect x="892.64" y="158.1" width="8.90" height="450.9" fill="url(#e35)"/>
<rect x="900.94" y="158.1" width="8.90" height="450.9" fill="url(#e36)"/>
<rect x="909.25" y="158.1" width="8.90" height="450.9" fill="url(#e37)"/>
<rect x="917.55" y="158.1" width="8.90" height="450.9" fill="url(#e38)"/>
<rect x="925.86" y="158.1" width="8.90" height="450.9" fill="url(#e39)"/>
<rect x="934.16" y="158.1" width="8.90" height="450.9" fill="url(#e40)"/>
<rect x="942.46" y="158.1" width="8.90" height="450.9" fill="url(#e41)"/>
<rect x="950.77" y="158.1" width="8.90" height="450.9" fill="url(#e42)"/>
<rect x="959.07" y="158.1" width="8.90" height="450.9" fill="url(#e43)"/>
<rect x="967.38" y="158.1" width="8.90" height="450.9" fill="url(#e44)"/>
<rect x="975.68" y="158.1" width="8.90" height="450.9" fill="url(#e45)"/>
<rect x="983.98" y="158.1" width="8.90" height="450.9" fill="url(#e46)"/>
<rect x="992.29" y="158.1" width="8.90" height="450.9" fill="url(#e47)"/>
<rect x="1000.59" y="158.1" width="8.90" height="450.9" fill="url(#e48)"/>
<rect x="1008.90" y="158.1" width="8.90" height="450.9" fill="url(#e49)"/>
<rect x="1017.20" y="158.1" width="8.90" height="450.9" fill="url(#e50)"/>
<rect x="1025.50" y="158.1" width="8.90" height="450.9" fill="url(#e51)"/>
<rect x="1033.81" y="158.1" width="8.90" height="450.9" fill="url(#e52)"/>
<rect x="1042.11" y="158.1" width="8.90" height="450.9" fill="url(#e53)"/>
<rect x="1050.42" y="158.1" width="8.90" height="450.9" fill="url(#e54)"/>
<rect x="1058.72" y="158.1" width="8.90" height="450.9" fill="url(#e55)"/>
<rect x="1067.02" y="158.1" width="8.90" height="450.9" fill="url(#e56)"/>
<rect x="1075.33" y="158.1" width="8.90" height="450.9" fill="url(#e57)"/>
<rect x="1083.63" y="158.1" width="8.90" height="450.9" fill="url(#e58)"/>
<rect x="1091.94" y="158.1" width="8.90" height="450.9" fill="url(#e59)"/>
<rect x="1100.24" y="158.1" width="8.90" height="450.9" fill="url(#e60)"/>
<rect x="1108.54" y="158.1" width="8.90" height="450.9" fill="url(#e61)"/>
<rect x="1116.85" y="158.1" width="8.90" height="450.9" fill="url(#e62)"/>
<rect x="1125.15" y="158.1" width="8.90" height="450.9" fill="url(#e63)"/>
<rect x="1133.46" y="158.1" width="8.90" height="450.9" fill="url(#e64)"/>
<rect x="1141.76" y="158.1" width="8.90" height="450.9" fill="url(#e65)"/>
<rect x="1150.06" y="158.1" width="8.90" height="450.9" fill="url(#e66)"/>
<rect x="1158.37" y="158.1" width="8.90" height="450.9" fill="url(#e67)"/>
<rect x="1166.67" y="158.1" width="8.90" height="450.9" fill="url(#e68)"/>
<rect x="1174.98" y="158.1" width="8.90" height="450.9" fill="url(#e69)"/>
<rect x="1183.28" y="158.1" width="8.90" height="450.9" fill="url(#e70)"/>
<rect x="1191.58" y="158.1" width="8.90" height="450.9" fill="url(#e71)"/>
<rect x="1199.89" y="158.1" width="8.90" height="450.9" fill="url(#e72)"/>
<rect x="1208.19" y="158.1" width="8.90" height="450.9" fill="url(#e73)"/>
<rect x="1216.50" y="158.1" width="8.90" height="450.9" fill="url(#e74)"/>
<rect x="1224.80" y="158.1" width="8.90" height="450.9" fill="url(#e75)"/>
<rect x="1233.10" y="158.1" width="8.90" height="450.9" fill="url(#e76)"/>
<rect x="1241.41" y="158.1" width="8.90" height="450.9" fill="url(#e77)"/>
<rect x="1249.71" y="158.1" width="8.90" height="450.9" fill="url(#e78)"/>
<rect x="1258.02" y="158.1" width="8.90" height="450.9" fill="url(#e79)"/>
<rect x="1266.32" y="158.1" width="8.90" height="450.9" fill="url(#e80)"/>
<rect x="1274.62" y="158.1" width="8.90" height="450.9" fill="url(#e81)"/>
<rect x="1282.93" y="158.1" width="8.90" height="450.9" fill="url(#e82)"/>
<rect x="1291.23" y="158.1" width="8.90" height="450.9" fill="url(#e83)"/>
<rect x="1299.54" y="158.1" width="8.90" height="450.9" fill="url(#e84)"/>
<rect x="1307.84" y="158.1" width="8.90" height="450.9" fill="url(#e85)"/>
<rect x="1316.14" y="158.1" width="8.90" height="450.9" fill="url(#e86)"/>
<rect x="1324.45" y="158.1" width="8.90" height="450.9" fill="url(#e87)"/>
<rect x="1332.75" y="158.1" width="8.90" height="450.9" fill="url(#e88)"/>
<rect x="1341.06" y="158.1" width="8.90" height="450.9" fill="url(#e89)"/>
<rect x="1349.36" y="158.1" width="8.90" height="450.9" fill="url(#e90)"/>
<rect x="1357.66" y="158.1" width="8.90" height="450.9" fill="url(#e91)"/>
<rect x="1365.97" y="158.1" width="8.90" height="450.9" fill="url(#e92)"/>
<rect x="1374.27" y="158.1" width="8.90" height="450.9" fill="url(#e93)"/>
<rect x="1382.58" y="158.1" width="8.90" height="450.9" fill="url(#e94)"/>
<rect x="1390.88" y="158.1" width="8.90" height="450.9" fill="url(#e95)"/>
<rect x="1399.18" y="158.1" width="8.90" height="450.9" fill="url(#e96)"/>
<rect x="1407.49" y="158.1" width="8.90" height="450.9" fill="url(#e97)"/>
<rect x="1415.79" y="158.1" width="8.90" height="450.9" fill="url(#e98)"/>
<rect x="1424.10" y="158.1" width="8.30" height="450.9" fill="url(#e99)"/></g>
<path d="M768.08 609v-16.5M934.16 609v-16.5M1100.24 609v-16.5M1266.32 609v-16.5" stroke="#000" stroke-width="2.3" fill="none"/>
<path d="M643.52 609v-10.5M685.04 609v-10.5M726.56 609v-10.5M809.6 609v-10.5M851.12 609v-10.5M892.64 609v-10.5M975.68 609v-10.5M1017.2 609v-10.5M1058.72 609v-10.5M1141.76 609v-10.5M1183.28 609v-10.5M1224.8 609v-10.5M1307.84 609v-10.5M1349.36 609v-10.5M1390.88 609v-10.5" stroke="#000" stroke-width="2.3" fill="none"/>
<path d="M602 233h17M602 383.5h17M602 534h17" stroke="#000" stroke-width="2.3" fill="none"/>
<path d="M602 308.25h10M602 458.75h10" stroke="#000" stroke-width="2.3" fill="none"/>
<rect x="602" y="158.1" width="830.4" height="450.9" fill="none" stroke="#000" stroke-width="2.3"/>
<text x="594" y="246.2" font-size="37" text-anchor="end" fill="#000" color="#000" >0.1</text>
<text x="594" y="396.7" font-size="37" text-anchor="end" fill="#000" color="#000" >0.0</text>
<text x="594" y="547.2" font-size="37" text-anchor="end" fill="#000" color="#000" >-0.1</text>
<text transform="translate(514 382) rotate(-90)" font-size="40" text-anchor="middle"><tspan font-style="italic">E</tspan>-<tspan font-style="italic">E</tspan><tspan font-size="22.8" dy="10">F</tspan><tspan dy="-10"> (eV)</tspan></text>
<g stroke="#fff" fill="none" stroke-width="3">
<path d="M671.2 347.8V438.8" stroke-dasharray="8 4.5"/>
<path d="M655.7 333.8h31 M655.7 452.8h31" stroke-dasharray="7 4"/>
</g>
<polygon points="671.2,334.8 678.7,351.8 671.2,346.8 663.7,351.8" fill="#fff"/>
<polygon points="671.2,451.8 663.7,434.8 671.2,439.8 678.7,434.8" fill="#fff"/>
<text x="684" y="405" font-size="34" text-anchor="start" fill="#fff" color="#fff" style="stroke-width:0.15px">QSH gap</text>
</g>
<g>
<path d="M768.08 955.4v-13M934.16 955.4v-13M1100.24 955.4v-13M1266.32 955.4v-13" stroke="#000" stroke-width="2.3" fill="none"/>
<path d="M685.04 955.4v-7M851.12 955.4v-7M1017.2 955.4v-7M1183.28 955.4v-7M1349.36 955.4v-7" stroke="#000" stroke-width="2.3" fill="none"/>
<path d="M768.08 635v13M934.16 635v13M1100.24 635v13M1266.32 635v13" stroke="#000" stroke-width="2.3" fill="none"/>
<path d="M685.04 635v7M851.12 635v7M1017.2 635v7M1183.28 635v7M1349.36 635v7" stroke="#000" stroke-width="2.3" fill="none"/>
<path d="M602 950.1h13M602 845.1h13M602 740.1h13" stroke="#000" stroke-width="2.3" fill="none"/>
<path d="M602 897.6h7M602 792.6h7M602 687.6h7" stroke="#000" stroke-width="2.3" fill="none"/>
<path d="M1432.4 950.1h-13M1432.4 845.1h-13M1432.4 740.1h-13" stroke="#000" stroke-width="2.3" fill="none"/>
<path d="M1432.4 897.6h-7M1432.4 792.6h-7M1432.4 687.6h-7" stroke="#000" stroke-width="2.3" fill="none"/>
<g clip-path="url(#clipF)" fill="none" stroke="#1f77b4" stroke-width="2.4">
<circle cx="606.1" cy="940" r="5.8"/>
<circle cx="614.5" cy="946.5" r="5.8"/>
<circle cx="622.8" cy="938" r="5.8"/>
<circle cx="631.1" cy="942" r="5.8"/>
<circle cx="639.4" cy="958.8" r="5.8"/>
<circle cx="647.7" cy="944.3" r="5.8"/>
<circle cx="656" cy="955" r="5.8"/>
<circle cx="664.3" cy="945.8" r="5.8"/>
<circle cx="672.6" cy="946.5" r="5.8"/>
<circle cx="680.9" cy="942.6" r="5.8"/>
<circle cx="689.2" cy="938" r="5.8"/>
<circle cx="697.5" cy="935.4" r="5.8"/>
<circle cx="705.8" cy="939.3" r="5.8"/>
<circle cx="714.1" cy="940" r="5.8"/>
<circle cx="722.4" cy="938" r="5.8"/>
<circle cx="730.7" cy="934.5" r="5.8"/>
<circle cx="739" cy="942" r="5.8"/>
<circle cx="747.3" cy="942.6" r="5.8"/>
<circle cx="755.6" cy="930.6" r="5.8"/>
<circle cx="763.9" cy="943.2" r="5.8"/>
<circle cx="772.2" cy="940.6" r="5.8"/>
<circle cx="780.5" cy="932.2" r="5.8"/>
<circle cx="788.8" cy="951" r="5.8"/>
<circle cx="797.1" cy="924.6" r="5.8"/>
<circle cx="805.4" cy="923.7" r="5.8"/>
<circle cx="813.8" cy="932.8" r="5.8"/>
<circle cx="822.1" cy="938" r="5.8"/>
<circle cx="830.4" cy="937.4" r="5.8"/>
<circle cx="838.7" cy="953.6" r="5.8"/>
<circle cx="847" cy="938" r="5.8"/>
<circle cx="855.3" cy="949.4" r="5.8"/>
<circle cx="863.6" cy="938.8" r="5.8"/>
<circle cx="871.9" cy="938.3" r="5.8"/>
<circle cx="880.2" cy="947.9" r="5.8"/>
<circle cx="888.5" cy="930.4" r="5.8"/>
<circle cx="896.8" cy="929.7" r="5.8"/>
<circle cx="905.1" cy="940.3" r="5.8"/>
<circle cx="913.4" cy="929.7" r="5.8"/>
<circle cx="921.7" cy="935" r="5.8"/>
<circle cx="930" cy="926.2" r="5.8"/>
<circle cx="938.3" cy="929.4" r="5.8"/>
<circle cx="946.6" cy="910.7" r="5.8"/>
<circle cx="954.9" cy="913.5" r="5.8"/>
<circle cx="963.2" cy="910" r="5.8"/>
<circle cx="971.5" cy="899.8" r="5.8"/>
<circle cx="979.8" cy="879.2" r="5.8"/>
<circle cx="988.1" cy="876.3" r="5.8"/>
<circle cx="996.4" cy="883.4" r="5.8"/>
<circle cx="1004.7" cy="862.9" r="5.8"/>
<circle cx="1013" cy="870.1" r="5.8"/>
<circle cx="1021.3" cy="843.2" r="5.8"/>
<circle cx="1029.7" cy="852" r="5.8"/>
<circle cx="1038" cy="836.9" r="5.8"/>
<circle cx="1046.3" cy="846.3" r="5.8"/>
<circle cx="1054.6" cy="837.9" r="5.8"/>
<circle cx="1062.9" cy="849" r="5.8"/>
<circle cx="1071.2" cy="867.2" r="5.8"/>
<circle cx="1079.5" cy="861.9" r="5.8"/>
<circle cx="1087.8" cy="881.1" r="5.8"/>
<circle cx="1096.1" cy="888.7" r="5.8"/>
<circle cx="1104.4" cy="882.7" r="5.8"/>
<circle cx="1112.7" cy="866.7" r="5.8"/>
<circle cx="1121" cy="845.2" r="5.8"/>
<circle cx="1129.3" cy="840.2" r="5.8"/>
<circle cx="1137.6" cy="826.4" r="5.8"/>
<circle cx="1145.9" cy="815" r="5.8"/>
<circle cx="1154.2" cy="815.9" r="5.8"/>
<circle cx="1162.5" cy="806.5" r="5.8"/>
<circle cx="1170.8" cy="793.7" r="5.8"/>
<circle cx="1179.1" cy="803.6" r="5.8"/>
<circle cx="1187.4" cy="801.6" r="5.8"/>
<circle cx="1195.7" cy="794.2" r="5.8"/>
<circle cx="1204" cy="776" r="5.8"/>
<circle cx="1212.3" cy="753.9" r="5.8"/>
<circle cx="1220.6" cy="726.3" r="5.8"/>
<circle cx="1229" cy="713.2" r="5.8"/>
<circle cx="1237.3" cy="734" r="5.8"/>
<circle cx="1245.6" cy="695.6" r="5.8"/>
<circle cx="1253.9" cy="693.3" r="5.8"/>
<circle cx="1262.2" cy="695.6" r="5.8"/>
<circle cx="1270.5" cy="723.4" r="5.8"/>
<circle cx="1278.8" cy="726" r="5.8"/>
<circle cx="1287.1" cy="746.7" r="5.8"/>
<circle cx="1295.4" cy="776.9" r="5.8"/>
<circle cx="1303.7" cy="802.2" r="5.8"/>
<circle cx="1312" cy="819.3" r="5.8"/>
<circle cx="1320.3" cy="817.3" r="5.8"/>
<circle cx="1328.6" cy="805" r="5.8"/>
<circle cx="1336.9" cy="752.4" r="5.8"/>
<circle cx="1345.2" cy="715.5" r="5.8"/>
<circle cx="1353.5" cy="704.9" r="5.8"/>
<circle cx="1361.8" cy="702.7" r="5.8"/>
<circle cx="1370.1" cy="706.9" r="5.8"/>
<circle cx="1378.4" cy="725.4" r="5.8"/>
<circle cx="1386.7" cy="744.8" r="5.8"/>
<circle cx="1395" cy="757.3" r="5.8"/>
<circle cx="1403.3" cy="769.5" r="5.8"/>
<circle cx="1411.6" cy="799.4" r="5.8"/>
<circle cx="1419.9" cy="802.2" r="5.8"/>
<circle cx="1428.2" cy="863.9" r="5.8"/>
</g>
<path d="M602 945.12L612.88 944.79L623.76 944.43L634.63 944.04L645.51 943.63L656.39 943.19L667.27 942.73L678.15 942.23L689.03 941.69L699.9 941.13L710.78 940.52L721.66 939.87L732.54 939.18L743.42 938.44L754.3 937.65L765.17 936.81L776.05 935.91L786.93 934.95L797.81 933.92L808.69 932.82L819.56 931.65L830.44 930.41L841.32 929.07L852.2 927.65L863.08 926.13L873.96 924.51L884.83 922.77L895.71 920.92L906.59 918.95L917.47 916.84L928.35 914.59L939.23 912.19L950.1 909.62L960.98 906.88L971.86 903.95L982.74 900.83L993.62 897.49L1004.49 893.93L1015.37 890.13L1026.25 886.07L1037.13 881.74L1048.01 877.11L1058.89 872.17L1069.76 866.89L1080.64 861.26L1091.52 855.25L1102.4 848.83L1113.28 841.97L1124.16 834.65L1135.03 826.84L1145.91 818.49L1156.79 809.58L1167.67 800.07L1178.55 789.92L1189.42 779.07L1200.3 767.49L1211.18 755.13L1222.06 741.94L1232.94 727.84L1243.82 712.8L1254.69 696.74" fill="none" stroke="#000" stroke-width="4" clip-path="url(#clipF)"/>
<rect x="602" y="635" width="830.4" height="320.4" fill="none" stroke="#000" stroke-width="2.3"/>
<text x="594" y="960.3" font-size="37" text-anchor="end" fill="#000" color="#000" >0</text>
<text x="594" y="858.3" font-size="37" text-anchor="end" fill="#000" color="#000" >2</text>
<text x="594" y="753.3" font-size="37" text-anchor="end" fill="#000" color="#000" >4</text>
<text x="594" y="648.6" font-size="37" text-anchor="end" fill="#000" color="#000" >6</text>
<text x="602" y="997.5" font-size="37" text-anchor="middle" fill="#000" color="#000" >0</text>
<text x="768.08" y="997.5" font-size="37" text-anchor="middle" fill="#000" color="#000" >2</text>
<text x="934.16" y="997.5" font-size="37" text-anchor="middle" fill="#000" color="#000" >4</text>
<text x="1100.24" y="997.5" font-size="37" text-anchor="middle" fill="#000" color="#000" >6</text>
<text x="1266.32" y="997.5" font-size="37" text-anchor="middle" fill="#000" color="#000" >8</text>
<text x="1432.4" y="997.5" font-size="37" text-anchor="middle" fill="#000" color="#000" >10</text>
<text x="1026" y="1042.5" font-size="40" text-anchor="middle"><tspan font-style="italic">X</tspan> (nm)</text>
<text transform="translate(554.5 798.7) rotate(-90)" font-size="40" text-anchor="middle">d<tspan font-style="italic">I</tspan>/d<tspan font-style="italic">V</tspan> (a.u.)</text>
<g class="ins">
<rect x="668.5" y="646.6" width="286.1" height="217.7" fill="#fff"/>
<rect x="668.5" y="646.6" width="81.7" height="217.7" fill="#e5e5e5"/>
<rect x="849.4" y="646.6" width="105.2" height="217.7" fill="#e5e5e5"/>
<path d="M740.02 864.3v-10M811.55 864.3v-10M883.08 864.3v-10" stroke="#000" stroke-width="1.7" fill="none"/>
<path d="M704.26 864.3v-5.5M775.79 864.3v-5.5M847.31 864.3v-5.5M918.84 864.3v-5.5" stroke="#000" stroke-width="1.7" fill="none"/>
<path d="M740.02 646.6v10M811.55 646.6v10M883.08 646.6v10" stroke="#000" stroke-width="1.7" fill="none"/>
<path d="M704.26 646.6v5.5M775.79 646.6v5.5M847.31 646.6v5.5M918.84 646.6v5.5" stroke="#000" stroke-width="1.7" fill="none"/>
<path d="M668.5 845h10M668.5 778.9h10M668.5 712.8h10" stroke="#000" stroke-width="1.7" fill="none"/>
<path d="M668.5 811.95h5.5M668.5 745.85h5.5M668.5 679.75h5.5" stroke="#000" stroke-width="1.7" fill="none"/>
<path d="M954.6 845h-10M954.6 778.9h-10M954.6 712.8h-10" stroke="#000" stroke-width="1.7" fill="none"/>
<path d="M954.6 811.95h-5.5M954.6 745.85h-5.5M954.6 679.75h-5.5" stroke="#000" stroke-width="1.7" fill="none"/>
<path d="M668 708.5C669.08 708.94 673.94 710.61 676.1 711.8C678.26 712.99 682.05 715.59 684.2 717.4C686.35 719.21 689.63 723.68 692.2 725.4C694.77 727.12 700.91 728.14 703.5 730.3C706.09 732.46 709.45 738.71 711.6 741.6C713.75 744.49 717.67 749.85 719.6 752C721.53 754.15 724.81 755.87 726.1 757.7C727.39 759.53 728.23 762.05 729.3 765.7C730.37 769.35 732.7 780.58 734.1 785.1C735.5 789.62 738.51 795.31 739.8 799.6C741.09 803.89 742.73 812.26 743.8 817.3C744.87 822.34 746.84 834.07 747.8 837.4C748.76 840.73 749.77 841.47 751 842.3C752.23 843.13 755.17 843.39 757 843.6C758.83 843.81 762.7 843.77 764.7 843.9C766.7 844.03 769.96 844.61 772 844.6C774.04 844.59 777.75 843.79 780 843.8C782.25 843.81 786.63 844.5 788.9 844.7C791.17 844.9 794.85 845.19 797 845.3C799.15 845.41 803 845.59 805 845.5C807 845.41 810 844.75 812 844.6C814 844.45 817.43 844.48 820 844.4C822.57 844.32 828.41 844.28 831.3 844C834.19 843.72 839.21 843.07 841.7 842.3C844.19 841.53 848.05 840.15 850 838.2C851.95 836.25 854.9 831.05 856.3 827.7C857.7 824.35 859.53 817.27 860.5 813.1C861.47 808.93 862.77 802.24 863.6 796.4C864.43 790.56 865.86 775.14 866.7 769.3C867.54 763.46 869.06 755.44 869.9 752.6C870.74 749.76 872.03 748.97 873 748C873.97 747.03 876.27 747.03 877.2 745.3C878.13 743.57 879.31 737.64 880 735C880.69 732.36 881.67 727.26 882.4 725.5C883.13 723.74 884.66 722.08 885.5 721.8C886.34 721.52 887.83 722.17 888.7 723.4C889.57 724.63 891.03 728.77 892 731C892.97 733.23 894.87 738.53 896 740.1C897.13 741.67 899.37 742.75 900.5 742.8C901.63 742.85 903.43 741.27 904.5 740.5C905.57 739.73 907.27 738.44 908.5 737C909.73 735.56 912.31 732.06 913.7 729.7C915.09 727.34 917.37 722.09 918.9 719.3C920.43 716.51 923.53 711.87 925.2 708.8C926.87 705.73 929.96 698.38 931.4 696.3C932.84 694.22 934.75 693.25 936 693.2C937.25 693.15 939.47 695.06 940.8 695.9C942.13 696.74 944.19 698.89 946 699.5C947.81 700.11 953.28 700.37 954.4 700.5" fill="none" stroke="#000" stroke-width="3.6" stroke-linejoin="round"/>
<path d="M668 714.2L673.7 713.8L679.3 719L685 727.1L690.6 726.3L693.8 731.9L697.9 730.3L705.9 740L714.8 738.3L719.6 744.8L728.5 749.6L733.3 759.3L742.2 760.1L748.6 767.3L751.8 773.8L757 777.5L763.1 781.8L768.8 789.1L772.8 788.3L776.8 796.3L780 795.5L788.9 803.6L792.1 809.2L797 810L801.8 818.9L808.2 830.2L811.5 839L815.5 830.2L817.7 823.6L821 817L825 812.1L831.3 811L834.4 806.9L837.5 810L842.8 801.7L844.8 804.8L850 794.4L855 794L860.5 794.4L862.6 797.5L867 792L870.9 789.1L875.1 796.4L880 796L884.5 797.5L888.7 793.3L892.8 796L897.5 793L902.2 791.9L908.5 794.4L914.7 787.1L919 788L923.1 787.1L929.3 782.3L934.5 784.5L939.8 783.9L946 781.4L950 782.5L954.4 779.8" fill="none" stroke="#1f77b4" stroke-width="3.6" stroke-linejoin="round"/>
<rect x="668.5" y="646.6" width="286.1" height="217.7" fill="none" stroke="#000" stroke-width="1.7"/>
<text x="662.5" y="853" font-size="22.5" text-anchor="end" fill="#000" color="#000" >0</text>
<text x="662.5" y="786.9" font-size="22.5" text-anchor="end" fill="#000" color="#000" >5</text>
<text x="662.5" y="720.8" font-size="22.5" text-anchor="end" fill="#000" color="#000" >10</text>
<text x="662.5" y="656.2" font-size="22.5" text-anchor="end" fill="#000" color="#000" >15</text>
<text x="668.5" y="885" font-size="22.5" text-anchor="middle" fill="#000" color="#000" >-100</text>
<text x="740.02" y="885" font-size="22.5" text-anchor="middle" fill="#000" color="#000" >-50</text>
<text x="811.55" y="885" font-size="22.5" text-anchor="middle" fill="#000" color="#000" >0</text>
<text x="883.08" y="885" font-size="22.5" text-anchor="middle" fill="#000" color="#000" >50</text>
<text x="949.6" y="885" font-size="22.5" text-anchor="middle" fill="#000" color="#000" >100</text>
<text x="812.7" y="906.2" font-size="27" text-anchor="middle"><tspan font-style="italic">E</tspan>-<tspan font-style="italic">E</tspan><tspan font-size="15.4" dy="6.8">F</tspan><tspan dy="-6.8"> (meV)</tspan></text>
<text transform="translate(637.5 753.7) rotate(-90)" font-size="27" text-anchor="middle">d<tspan font-style="italic">I</tspan>/d<tspan font-style="italic">V</tspan> (a.u.)</text>
<text x="802" y="698.2" font-size="35" text-anchor="middle" fill="#000" color="#000" >QSH gap</text>
<g stroke="#000" fill="none" stroke-width="2.1">
<path d="M759.2 719.3H840.4" stroke-dasharray="8 5"/>
<path d="M750.2 707.8V730.8 M849.4 707.8V730.8" stroke-dasharray="3.5 2.5"/>
</g>
<polygon points="750.7,719.3 762.7,714.3 759.2,719.3 762.7,724.3" fill="#000"/>
<polygon points="848.9,719.3 836.9,724.3 840.4,719.3 836.9,714.3" fill="#000"/>
</g>
</g>
<g>
<path d="M1694.63 954.9v-19M1839.97 954.9v-19" stroke="#000" stroke-width="2.3" fill="none"/>
<path d="M1621.97 954.9v-10M1767.3 954.9v-10M1912.63 954.9v-10" stroke="#000" stroke-width="2.3" fill="none"/>
<path d="M1694.63 37.9v19M1839.97 37.9v19" stroke="#000" stroke-width="2.3" fill="none"/>
<path d="M1621.97 37.9v10M1767.3 37.9v10M1912.63 37.9v10" stroke="#000" stroke-width="2.3" fill="none"/>
<path d="M1549.3 668.15h19M1549.3 381.4h19M1549.3 94.65h19" stroke="#000" stroke-width="2.3" fill="none"/>
<path d="M1549.3 811.52h10M1549.3 524.77h10M1549.3 238.02h10" stroke="#000" stroke-width="2.3" fill="none"/>
<path d="M1985.3 668.15h-19M1985.3 381.4h-19M1985.3 94.65h-19" stroke="#000" stroke-width="2.3" fill="none"/>
<path d="M1985.3 811.52h-10M1985.3 524.77h-10M1985.3 238.02h-10" stroke="#000" stroke-width="2.3" fill="none"/>
<path d="M1802.2 152.4H1877" stroke="#000" stroke-width="3.2" stroke-dasharray="10.5 10.8" fill="none"/>
<path d="M1802.2 313H1877" stroke="#000" stroke-width="3.2" stroke-dasharray="10.5 10.8" fill="none"/>
<path d="M1802.2 473.4H1877" stroke="#000" stroke-width="3.2" stroke-dasharray="10.5 10.8" fill="none"/>
<path d="M1802.2 633.6H1877" stroke="#000" stroke-width="3.2" stroke-dasharray="10.5 10.8" fill="none"/>
<path d="M1802.2 794H1877" stroke="#000" stroke-width="3.2" stroke-dasharray="10.5 10.8" fill="none"/>
<path d="M1802.2 954.5H1877" stroke="#000" stroke-width="3.2" stroke-dasharray="10.5 10.8" fill="none"/>
<g clip-path="url(#clipG)" fill="none" stroke-width="2.6">
<g stroke="#1f77b4"><circle cx="1549.3" cy="674.5" r="8.5"/><circle cx="1563.8" cy="683" r="8.5"/><circle cx="1578.4" cy="684.4" r="8.5"/><circle cx="1592.9" cy="688.3" r="8.5"/><circle cx="1607.4" cy="716" r="8.5"/><circle cx="1622" cy="714.8" r="8.5"/><circle cx="1636.5" cy="729.7" r="8.5"/><circle cx="1651" cy="746.5" r="8.5"/><circle cx="1665.6" cy="747" r="8.5"/><circle cx="1680.1" cy="748.1" r="8.5"/><circle cx="1694.6" cy="770.8" r="8.5"/><circle cx="1709.2" cy="775.6" r="8.5"/><circle cx="1723.7" cy="794" r="8.5"/><circle cx="1738.2" cy="792.2" r="8.5"/><circle cx="1752.8" cy="805.5" r="8.5"/><circle cx="1767.3" cy="826.7" r="8.5"/><circle cx="1781.8" cy="827.8" r="8.5"/><circle cx="1796.4" cy="838.9" r="8.5"/><circle cx="1810.9" cy="877.3" r="8.5"/><circle cx="1825.4" cy="890.4" r="8.5"/><circle cx="1840" cy="925.1" r="8.5"/><circle cx="1854.5" cy="919.4" r="8.5"/><circle cx="1869" cy="866.3" r="8.5"/><circle cx="1883.6" cy="856.6" r="8.5"/><circle cx="1898.1" cy="843.9" r="8.5"/><circle cx="1912.6" cy="821.6" r="8.5"/><circle cx="1927.2" cy="799.6" r="8.5"/><circle cx="1941.7" cy="814.5" r="8.5"/><circle cx="1956.2" cy="793.3" r="8.5"/><circle cx="1970.8" cy="794" r="8.5"/><circle cx="1985.3" cy="795" r="8.5"/></g>
<g stroke="#1f77b4"><circle cx="1549.3" cy="496" r="8.5"/><circle cx="1563.8" cy="509.3" r="8.5"/><circle cx="1578.4" cy="513.9" r="8.5"/><circle cx="1592.9" cy="520.1" r="8.5"/><circle cx="1607.4" cy="535" r="8.5"/><circle cx="1622" cy="556.6" r="8.5"/><circle cx="1636.5" cy="548.5" r="8.5"/><circle cx="1651" cy="557.7" r="8.5"/><circle cx="1665.6" cy="586.7" r="8.5"/><circle cx="1680.1" cy="578.4" r="8.5"/><circle cx="1694.6" cy="599.8" r="8.5"/><circle cx="1709.2" cy="606" r="8.5"/><circle cx="1723.7" cy="617" r="8.5"/><circle cx="1738.2" cy="640.5" r="8.5"/><circle cx="1752.8" cy="639.6" r="8.5"/><circle cx="1767.3" cy="641.4" r="8.5"/><circle cx="1781.8" cy="677.3" r="8.5"/><circle cx="1796.4" cy="683" r="8.5"/><circle cx="1810.9" cy="711.3" r="8.5"/><circle cx="1825.4" cy="729" r="8.5"/><circle cx="1840" cy="767.7" r="8.5"/><circle cx="1854.5" cy="756.9" r="8.5"/><circle cx="1869" cy="718.9" r="8.5"/><circle cx="1883.6" cy="693.4" r="8.5"/><circle cx="1898.1" cy="669.9" r="8.5"/><circle cx="1912.6" cy="652.7" r="8.5"/><circle cx="1927.2" cy="646.9" r="8.5"/><circle cx="1941.7" cy="648.6" r="8.5"/><circle cx="1956.2" cy="629" r="8.5"/><circle cx="1970.8" cy="642.8" r="8.5"/><circle cx="1985.3" cy="633.1" r="8.5"/></g>
<g stroke="#17e6cf"><circle cx="1549.3" cy="458.5" r="8.5"/><circle cx="1563.8" cy="468.8" r="8.5"/><circle cx="1578.4" cy="487.2" r="8.5"/><circle cx="1592.9" cy="467.4" r="8.5"/><circle cx="1607.4" cy="496.4" r="8.5"/><circle cx="1622" cy="481" r="8.5"/><circle cx="1636.5" cy="475.7" r="8.5"/><circle cx="1651" cy="493.2" r="8.5"/><circle cx="1665.6" cy="481" r="8.5"/><circle cx="1680.1" cy="494.8" r="8.5"/><circle cx="1694.6" cy="486.3" r="8.5"/><circle cx="1709.2" cy="498.9" r="8.5"/><circle cx="1723.7" cy="498.7" r="8.5"/><circle cx="1738.2" cy="504.7" r="8.5"/><circle cx="1752.8" cy="510.2" r="8.5"/><circle cx="1767.3" cy="513.2" r="8.5"/><circle cx="1781.8" cy="522.4" r="8.5"/><circle cx="1796.4" cy="536.2" r="8.5"/><circle cx="1810.9" cy="576.1" r="8.5"/><circle cx="1825.4" cy="588.8" r="8.5"/><circle cx="1840" cy="609.5" r="8.5"/><circle cx="1854.5" cy="599.8" r="8.5"/><circle cx="1869" cy="579.8" r="8.5"/><circle cx="1883.6" cy="567.6" r="8.5"/><circle cx="1898.1" cy="558.8" r="8.5"/><circle cx="1912.6" cy="548.1" r="8.5"/><circle cx="1927.2" cy="528.6" r="8.5"/><circle cx="1941.7" cy="539.2" r="8.5"/><circle cx="1956.2" cy="516.6" r="8.5"/><circle cx="1970.8" cy="517.8" r="8.5"/><circle cx="1985.3" cy="505.6" r="8.5"/></g>
<g stroke="#17e6cf"><circle cx="1549.3" cy="337.7" r="8.5"/><circle cx="1563.8" cy="351.7" r="8.5"/><circle cx="1578.4" cy="362.5" r="8.5"/><circle cx="1592.9" cy="366.7" r="8.5"/><circle cx="1607.4" cy="379.8" r="8.5"/><circle cx="1622" cy="371.7" r="8.5"/><circle cx="1636.5" cy="365.3" r="8.5"/><circle cx="1651" cy="368.8" r="8.5"/><circle cx="1665.6" cy="369" r="8.5"/><circle cx="1680.1" cy="364.8" r="8.5"/><circle cx="1694.6" cy="368.8" r="8.5"/><circle cx="1709.2" cy="371.7" r="8.5"/><circle cx="1723.7" cy="368.3" r="8.5"/><circle cx="1738.2" cy="366.9" r="8.5"/><circle cx="1752.8" cy="370.1" r="8.5"/><circle cx="1767.3" cy="374.5" r="8.5"/><circle cx="1781.8" cy="392" r="8.5"/><circle cx="1796.4" cy="396.4" r="8.5"/><circle cx="1810.9" cy="418.4" r="8.5"/><circle cx="1825.4" cy="440.1" r="8.5"/><circle cx="1840" cy="445.3" r="8.5"/><circle cx="1854.5" cy="432" r="8.5"/><circle cx="1869" cy="429.5" r="8.5"/><circle cx="1883.6" cy="410.4" r="8.5"/><circle cx="1898.1" cy="405.6" r="8.5"/><circle cx="1912.6" cy="382.8" r="8.5"/><circle cx="1927.2" cy="381.6" r="8.5"/><circle cx="1941.7" cy="381.4" r="8.5"/><circle cx="1956.2" cy="366.7" r="8.5"/><circle cx="1970.8" cy="367.1" r="8.5"/><circle cx="1985.3" cy="356.8" r="8.5"/></g>
<g stroke="#17e6cf"><circle cx="1549.3" cy="203" r="8.5"/><circle cx="1563.8" cy="228.1" r="8.5"/><circle cx="1578.4" cy="232.2" r="8.5"/><circle cx="1592.9" cy="238.7" r="8.5"/><circle cx="1607.4" cy="238.5" r="8.5"/><circle cx="1622" cy="259.2" r="8.5"/><circle cx="1636.5" cy="232.7" r="8.5"/><circle cx="1651" cy="244.4" r="8.5"/><circle cx="1665.6" cy="238.7" r="8.5"/><circle cx="1680.1" cy="254.6" r="8.5"/><circle cx="1694.6" cy="250" r="8.5"/><circle cx="1709.2" cy="262.6" r="8.5"/><circle cx="1723.7" cy="254.6" r="8.5"/><circle cx="1738.2" cy="245.4" r="8.5"/><circle cx="1752.8" cy="257.5" r="8.5"/><circle cx="1767.3" cy="247.4" r="8.5"/><circle cx="1781.8" cy="269" r="8.5"/><circle cx="1796.4" cy="269" r="8.5"/><circle cx="1810.9" cy="281.7" r="8.5"/><circle cx="1825.4" cy="294.3" r="8.5"/><circle cx="1840" cy="306.5" r="8.5"/><circle cx="1854.5" cy="294.3" r="8.5"/><circle cx="1869" cy="292" r="8.5"/><circle cx="1883.6" cy="282.4" r="8.5"/><circle cx="1898.1" cy="266.7" r="8.5"/><circle cx="1912.6" cy="272.5" r="8.5"/><circle cx="1927.2" cy="266.7" r="8.5"/><circle cx="1941.7" cy="258" r="8.5"/><circle cx="1956.2" cy="260.3" r="8.5"/><circle cx="1970.8" cy="259.4" r="8.5"/><circle cx="1985.3" cy="243.7" r="8.5"/></g>
<g stroke="#000"><circle cx="1549.3" cy="143.5" r="8.5"/><circle cx="1563.8" cy="145.4" r="8.5"/><circle cx="1578.4" cy="148.6" r="8.5"/><circle cx="1592.9" cy="150.4" r="8.5"/><circle cx="1607.4" cy="147" r="8.5"/><circle cx="1622" cy="148.6" r="8.5"/><circle cx="1636.5" cy="152.3" r="8.5"/><circle cx="1651" cy="146.5" r="8.5"/><circle cx="1665.6" cy="149.8" r="8.5"/><circle cx="1680.1" cy="146.3" r="8.5"/><circle cx="1694.6" cy="144" r="8.5"/><circle cx="1709.2" cy="146.3" r="8.5"/><circle cx="1723.7" cy="154.4" r="8.5"/><circle cx="1738.2" cy="149.3" r="8.5"/><circle cx="1752.8" cy="150.4" r="8.5"/><circle cx="1767.3" cy="152.3" r="8.5"/><circle cx="1781.8" cy="156.9" r="8.5"/><circle cx="1796.4" cy="152.7" r="8.5"/><circle cx="1810.9" cy="157.3" r="8.5"/><circle cx="1825.4" cy="153.2" r="8.5"/><circle cx="1840" cy="152.7" r="8.5"/><circle cx="1854.5" cy="151.1" r="8.5"/><circle cx="1869" cy="150.4" r="8.5"/><circle cx="1883.6" cy="149.3" r="8.5"/><circle cx="1898.1" cy="153.4" r="8.5"/><circle cx="1912.6" cy="151.1" r="8.5"/><circle cx="1927.2" cy="150.9" r="8.5"/><circle cx="1941.7" cy="153.9" r="8.5"/><circle cx="1956.2" cy="145.8" r="8.5"/><circle cx="1970.8" cy="144.7" r="8.5"/><circle cx="1985.3" cy="144.7" r="8.5"/></g>
<path d="M1549.2 490.2C1561.08 498.5 1603.25 528.5 1620.5 540C1637.75 551.5 1643.12 553.07 1652.7 559.2C1662.28 565.33 1666.12 567.35 1678 576.8C1689.88 586.25 1708.67 601.72 1724 615.9C1739.33 630.08 1758.5 649.25 1770 661.9C1781.5 674.55 1785.33 680.3 1793 691.8C1800.67 703.3 1809.87 720.17 1816 730.9C1822.13 741.63 1825.88 749.68 1829.8 756.2C1833.72 762.72 1836.43 769.62 1839.5 770C1842.57 770.38 1844.45 765.78 1848.2 758.5C1851.95 751.22 1855.87 736.65 1862 726.3C1868.13 715.95 1877.33 705.98 1885 696.4C1892.67 686.82 1900.33 677.62 1908 668.8C1915.67 659.98 1923.33 651.55 1931 643.5C1938.67 635.45 1944.95 628.55 1954 620.5C1963.05 612.45 1980.08 599.42 1985.3 595.2" stroke="#000" stroke-width="4.3" stroke-linejoin="round"/>
<path d="M1549.2 679.8C1559.17 685.05 1591.37 701.63 1609 711.3C1626.63 720.97 1641.97 729.68 1655 737.8C1668.03 745.92 1675.7 751.7 1687.2 760C1698.7 768.3 1714.03 779.93 1724 787.6C1733.97 795.27 1739.33 799.48 1747 806C1754.67 812.52 1762.33 819.23 1770 826.7C1777.67 834.17 1785.33 841.6 1793 850.8C1800.67 860 1809.87 872.5 1816 881.9C1822.13 891.3 1825.88 900 1829.8 907.2C1833.72 914.4 1836.43 925.1 1839.5 925.1C1842.57 925.1 1844.45 914.22 1848.2 907.2C1851.95 900.18 1855.87 891.63 1862 883C1868.13 874.37 1877.33 864.4 1885 855.4C1892.67 846.4 1900.33 837.23 1908 829C1915.67 820.77 1923.33 813.1 1931 806C1938.67 798.9 1944.95 793.3 1954 786.4C1963.05 779.5 1980.08 768.23 1985.3 764.6" stroke="#000" stroke-width="4.3" stroke-linejoin="round"/>
</g>
<rect x="1549.3" y="37.9" width="436" height="917" fill="none" stroke="#000" stroke-width="2.3"/>
<text x="1542" y="966.1" font-size="37" text-anchor="end" fill="#000" color="#000" >0</text>
<text x="1542" y="681.35" font-size="37" text-anchor="end" fill="#000" color="#000" >5</text>
<text x="1542" y="394.6" font-size="37" text-anchor="end" fill="#000" color="#000" >10</text>
<text x="1542" y="107.85" font-size="37" text-anchor="end" fill="#000" color="#000" >15</text>
<text x="1547.8" y="996.7" font-size="37" text-anchor="middle" fill="#000" color="#000" >-40</text>
<text x="1693.13" y="996.7" font-size="37" text-anchor="middle" fill="#000" color="#000" >-20</text>
<text x="1839.97" y="996.7" font-size="37" text-anchor="middle" fill="#000" color="#000" >0</text>
<text x="1981.6" y="996.7" font-size="37" text-anchor="middle" fill="#000" color="#000" >20</text>
<text x="1775" y="1043.5" font-size="40" text-anchor="middle"><tspan font-style="italic">E</tspan>-<tspan font-style="italic">E</tspan><tspan font-size="22.8" dy="10">F</tspan><tspan dy="-10"> (meV)</tspan></text>
<text transform="translate(1492 475.5) rotate(-90)" font-size="40" text-anchor="middle">d<tspan font-style="italic">I</tspan>/d<tspan font-style="italic">V</tspan> (a.u.)</text>
<text x="1597" y="110" font-size="36" text-anchor="start" fill="#000" color="#000" >Bulk</text>
<text x="1589" y="861" font-size="36" text-anchor="start" fill="#000" color="#000" >Edge</text>
</g>
</svg></body></html>
